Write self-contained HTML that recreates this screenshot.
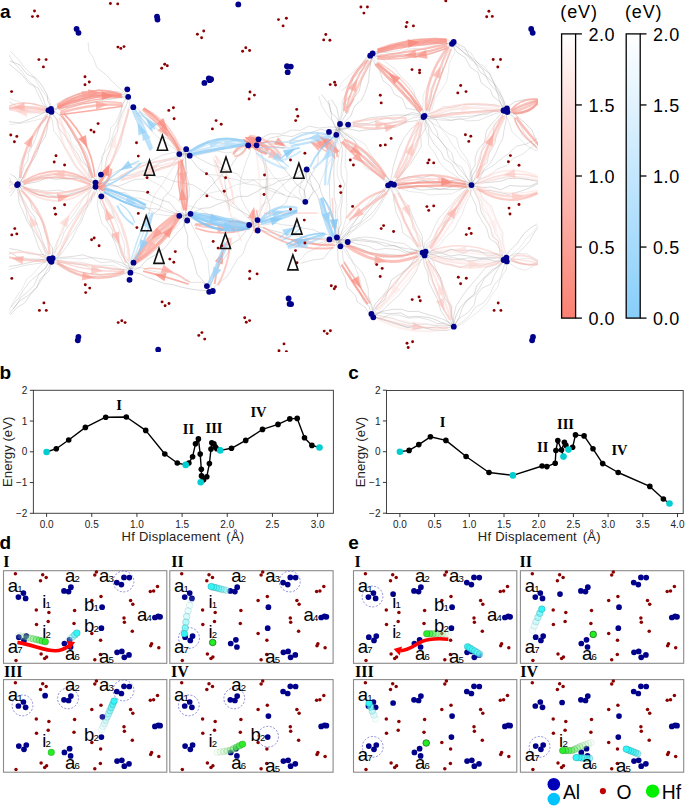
<!DOCTYPE html>
<html><head><meta charset="utf-8"><style>
html,body{margin:0;padding:0;background:#fff;}
svg{display:block;}
</style></head><body>
<svg width="685" height="806" viewBox="0 0 685 806">
<rect width="685" height="806" fill="#fff"/>
<defs><clipPath id="clipNet"><rect x="9" y="0" width="529" height="345"/></clipPath></defs>
<g clip-path="url(#clipNet)">
<polyline fill="none" stroke="#6a6a6a" stroke-opacity="0.34" stroke-width="0.55" points="49.3,111.2 42.5,103.6 38.5,94.9 33.7,85.3 26.7,78.8 21.6,71.0 13.2,62.1 7.8,52.9"/>
<polyline fill="none" stroke="#6a6a6a" stroke-opacity="0.31" stroke-width="0.55" points="51.7,109.4 49.5,99.8 42.9,91.5 38.4,84.7 33.2,75.9 23.2,66.1 19.4,60.6 10.2,51.1"/>
<polyline fill="none" stroke="#6a6a6a" stroke-opacity="0.42" stroke-width="0.55" points="49.4,111.3 45.4,105.4 42.7,97.0 38.1,88.0 28.9,83.5 22.2,74.9 15.5,69.3 7.9,63.0"/>
<polyline fill="none" stroke="#6a6a6a" stroke-opacity="0.46" stroke-width="0.55" points="51.6,109.3 47.7,100.5 47.3,94.9 41.8,85.1 36.1,78.3 27.1,74.2 19.7,64.8 10.1,61.0"/>
<polyline fill="none" stroke="#6a6a6a" stroke-opacity="0.43" stroke-width="0.55" points="8.6,121.6 19.8,122.9 28.0,119.9 38.9,115.4 50.1,108.9"/>
<polyline fill="none" stroke="#6a6a6a" stroke-opacity="0.27" stroke-width="0.55" points="9.4,124.4 21.5,123.2 29.5,121.7 42.1,118.6 50.9,111.7"/>
<polyline fill="none" stroke="#6a6a6a" stroke-opacity="0.28" stroke-width="0.55" points="9.4,98.5 21.0,102.6 32.2,103.5 43.0,105.9 50.9,108.8"/>
<polyline fill="none" stroke="#6a6a6a" stroke-opacity="0.30" stroke-width="0.55" points="8.6,101.5 19.4,107.6 28.0,111.8 40.6,113.0 50.1,111.8"/>
<polyline fill="none" stroke="#6a6a6a" stroke-opacity="0.26" stroke-width="0.55" points="50.2,108.8 61.0,100.7 70.6,96.3 77.6,94.6 88.8,92.9 98.0,89.5 109.1,92.3 117.4,91.4 128.7,94.5"/>
<polyline fill="none" stroke="#6a6a6a" stroke-opacity="0.45" stroke-width="0.55" points="50.4,109.8 60.4,106.8 69.1,100.7 79.2,95.3 88.3,95.5 97.3,95.3 109.7,92.4 117.4,93.7 128.9,95.5"/>
<polyline fill="none" stroke="#6a6a6a" stroke-opacity="0.31" stroke-width="0.55" points="50.6,110.8 61.0,108.5 70.6,104.6 82.2,99.6 88.2,100.0 101.2,95.4 107.8,95.6 119.5,96.3 129.1,96.5"/>
<polyline fill="none" stroke="#6a6a6a" stroke-opacity="0.43" stroke-width="0.55" points="50.8,111.8 59.4,107.2 69.9,107.2 82.5,103.7 88.7,103.1 101.9,100.2 108.6,99.5 118.7,97.9 129.3,97.5"/>
<polyline fill="none" stroke="#6a6a6a" stroke-opacity="0.44" stroke-width="0.55" points="51.9,110.9 47.7,121.3 47.6,127.5 45.4,136.5 39.6,145.1 36.5,154.6 30.5,163.6 26.5,169.3 22.1,178.8 18.7,185.6"/>
<polyline fill="none" stroke="#6a6a6a" stroke-opacity="0.46" stroke-width="0.55" points="51.0,110.5 48.1,121.2 44.7,128.3 42.1,137.3 39.1,146.1 33.6,155.4 31.5,161.3 26.7,169.8 22.4,179.0 17.8,185.2"/>
<polyline fill="none" stroke="#6a6a6a" stroke-opacity="0.36" stroke-width="0.55" points="50.0,110.1 45.5,118.4 40.7,125.1 37.7,132.5 34.0,142.4 28.8,152.4 27.6,161.0 24.3,165.7 21.2,176.5 16.8,184.8"/>
<polyline fill="none" stroke="#6a6a6a" stroke-opacity="0.29" stroke-width="0.55" points="49.1,109.7 45.0,115.8 38.9,126.6 37.1,133.1 30.9,139.4 29.1,150.7 22.4,158.4 19.4,167.0 19.6,176.3 15.9,184.4"/>
<polyline fill="none" stroke="#6a6a6a" stroke-opacity="0.43" stroke-width="0.55" points="51.8,109.5 59.7,115.1 66.5,122.6 71.8,132.4 75.8,140.1 82.8,147.3 87.3,155.7 90.4,166.5 93.0,177.1 98.3,184.2"/>
<polyline fill="none" stroke="#6a6a6a" stroke-opacity="0.25" stroke-width="0.55" points="50.9,110.0 54.6,117.1 60.5,124.0 69.4,134.5 71.3,142.9 79.4,150.6 83.9,161.3 88.6,169.4 93.0,174.1 97.4,184.7"/>
<polyline fill="none" stroke="#6a6a6a" stroke-opacity="0.40" stroke-width="0.55" points="50.1,110.6 57.4,120.1 58.6,127.9 64.2,134.9 69.1,142.2 78.1,154.2 81.1,160.9 88.2,167.2 89.4,177.8 96.6,185.3"/>
<polyline fill="none" stroke="#6a6a6a" stroke-opacity="0.33" stroke-width="0.55" points="49.2,111.1 52.5,121.1 53.6,130.6 59.3,138.0 65.3,148.8 70.0,154.8 75.5,166.1 80.3,170.3 88.8,180.5 95.7,185.8"/>
<polyline fill="none" stroke="#6a6a6a" stroke-opacity="0.33" stroke-width="0.55" points="129.0,96.0 118.2,87.1 111.6,80.8 106.0,74.7 96.7,67.3 93.1,57.0 89.2,52.0 88.0,42.0"/>
<polyline fill="none" stroke="#6a6a6a" stroke-opacity="0.29" stroke-width="0.55" points="130.4,96.5 129.1,107.6 127.4,116.7 123.5,125.7 122.9,131.8 120.9,144.3 116.5,153.2 111.5,162.3 108.7,169.1 105.4,177.6 98.4,185.5"/>
<polyline fill="none" stroke="#6a6a6a" stroke-opacity="0.41" stroke-width="0.55" points="129.5,96.2 126.1,105.5 122.1,113.4 118.6,122.9 117.4,131.4 112.8,139.3 109.9,150.5 106.7,157.5 105.1,168.5 100.4,176.4 97.5,185.2"/>
<polyline fill="none" stroke="#6a6a6a" stroke-opacity="0.30" stroke-width="0.55" points="128.5,95.8 122.5,103.8 120.5,114.1 117.5,123.5 115.0,128.8 111.7,138.8 108.3,147.8 101.9,155.5 101.8,167.4 99.8,175.1 96.5,184.8"/>
<polyline fill="none" stroke="#6a6a6a" stroke-opacity="0.31" stroke-width="0.55" points="127.6,95.5 123.8,102.1 119.9,112.8 115.7,122.7 110.7,128.2 109.3,138.8 105.1,148.2 103.5,154.9 98.7,167.8 96.7,173.8 95.6,184.5"/>
<polyline fill="none" stroke="#6a6a6a" stroke-opacity="0.40" stroke-width="0.55" points="10.2,174.0 15.1,176.9 17.5,180.4 18.5,184.0"/>
<polyline fill="none" stroke="#6a6a6a" stroke-opacity="0.35" stroke-width="0.55" points="7.8,176.0 10.5,179.7 9.9,182.1 16.1,186.0"/>
<polyline fill="none" stroke="#6a6a6a" stroke-opacity="0.36" stroke-width="0.55" points="7.8,194.0 11.9,190.8 13.6,188.6 16.1,184.0"/>
<polyline fill="none" stroke="#6a6a6a" stroke-opacity="0.38" stroke-width="0.55" points="10.2,196.0 12.6,193.2 15.8,188.2 18.5,186.0"/>
<polyline fill="none" stroke="#6a6a6a" stroke-opacity="0.32" stroke-width="0.55" points="17.3,183.5 26.7,180.0 36.6,177.4 48.4,175.6 55.3,173.8 65.7,175.8 79.2,176.4 87.3,178.1 97.0,183.5"/>
<polyline fill="none" stroke="#6a6a6a" stroke-opacity="0.32" stroke-width="0.55" points="17.3,185.0 27.9,180.6 38.9,177.7 47.7,177.8 57.9,177.1 66.8,179.2 77.7,177.0 88.2,180.0 97.0,185.0"/>
<polyline fill="none" stroke="#6a6a6a" stroke-opacity="0.45" stroke-width="0.55" points="17.3,186.5 26.7,183.9 37.4,181.7 48.3,177.4 55.0,179.3 68.5,178.5 78.7,178.5 86.6,182.7 97.0,186.5"/>
<polyline fill="none" stroke="#6a6a6a" stroke-opacity="0.35" stroke-width="0.55" points="17.3,183.5 27.2,188.7 36.1,189.6 46.1,191.1 58.4,190.1 66.8,191.9 77.6,189.2 85.7,188.9 97.0,183.5"/>
<polyline fill="none" stroke="#6a6a6a" stroke-opacity="0.41" stroke-width="0.55" points="17.3,185.0 26.9,188.1 39.3,194.9 49.1,194.9 55.7,196.8 65.3,195.9 78.3,192.2 89.2,189.3 97.0,185.0"/>
<polyline fill="none" stroke="#6a6a6a" stroke-opacity="0.33" stroke-width="0.55" points="17.3,186.5 28.9,190.7 36.4,194.4 49.3,196.9 59.2,195.7 69.0,194.1 75.0,192.3 86.4,189.5 97.0,186.5"/>
<polyline fill="none" stroke="#6a6a6a" stroke-opacity="0.45" stroke-width="0.55" points="18.7,184.4 22.5,190.9 29.7,199.1 32.1,208.3 40.1,217.0 43.1,222.8 44.9,232.2 48.5,241.3 52.6,248.1 52.4,259.4"/>
<polyline fill="none" stroke="#6a6a6a" stroke-opacity="0.42" stroke-width="0.55" points="17.8,184.8 19.9,193.2 24.2,201.3 29.3,210.4 34.7,217.2 37.2,225.8 40.2,232.7 42.6,241.4 48.1,253.1 51.5,259.8"/>
<polyline fill="none" stroke="#6a6a6a" stroke-opacity="0.37" stroke-width="0.55" points="16.8,185.2 21.4,195.6 23.0,201.7 26.2,209.6 27.4,217.6 32.4,227.8 37.9,237.0 43.2,244.6 45.2,250.2 50.5,260.2"/>
<polyline fill="none" stroke="#6a6a6a" stroke-opacity="0.40" stroke-width="0.55" points="15.9,185.6 18.1,192.4 19.2,203.3 22.6,210.4 27.3,221.8 32.1,228.8 34.4,235.3 38.4,246.5 42.4,254.3 49.6,260.6"/>
<polyline fill="none" stroke="#6a6a6a" stroke-opacity="0.35" stroke-width="0.55" points="98.3,185.8 94.0,196.3 88.5,202.9 84.4,213.6 81.3,221.9 77.4,227.8 72.0,238.7 66.6,246.6 60.1,255.4 52.3,260.8"/>
<polyline fill="none" stroke="#6a6a6a" stroke-opacity="0.34" stroke-width="0.55" points="97.4,185.3 92.5,193.9 90.9,202.5 83.7,211.0 80.6,219.6 74.9,229.0 69.1,236.7 63.0,246.7 57.6,254.3 51.4,260.3"/>
<polyline fill="none" stroke="#6a6a6a" stroke-opacity="0.31" stroke-width="0.55" points="96.6,184.7 89.5,192.1 86.7,202.8 80.0,209.6 76.2,215.6 67.4,227.5 64.0,232.7 60.5,243.3 55.7,250.1 50.6,259.7"/>
<polyline fill="none" stroke="#6a6a6a" stroke-opacity="0.29" stroke-width="0.55" points="95.7,184.2 88.1,192.3 82.0,200.8 78.6,207.1 71.5,217.6 65.6,222.8 62.4,232.9 57.1,241.2 53.4,251.4 49.7,259.2"/>
<polyline fill="none" stroke="#6a6a6a" stroke-opacity="0.28" stroke-width="0.55" points="98.4,184.4 102.6,193.3 109.4,200.8 112.7,210.3 114.8,216.8 120.9,224.2 123.2,233.9 126.8,242.0 129.2,249.9 130.1,260.9 132.4,269.4"/>
<polyline fill="none" stroke="#6a6a6a" stroke-opacity="0.29" stroke-width="0.55" points="97.5,184.8 103.5,192.1 105.6,200.8 111.4,209.4 115.0,219.8 117.3,224.3 121.4,235.3 124.5,244.9 124.4,254.1 128.3,261.4 131.5,269.8"/>
<polyline fill="none" stroke="#6a6a6a" stroke-opacity="0.45" stroke-width="0.55" points="96.5,185.2 101.0,193.5 100.1,202.5 104.8,210.4 105.7,218.7 112.9,230.7 112.4,237.1 118.5,244.1 121.7,255.1 127.6,262.8 130.5,270.2"/>
<polyline fill="none" stroke="#6a6a6a" stroke-opacity="0.33" stroke-width="0.55" points="95.6,185.6 98.2,196.3 97.2,204.9 99.3,214.0 102.2,223.9 107.0,228.5 112.3,236.9 115.9,245.1 118.8,254.6 123.8,263.3 129.6,270.6"/>
<polyline fill="none" stroke="#6a6a6a" stroke-opacity="0.44" stroke-width="0.55" points="9.3,248.5 19.7,250.3 28.9,253.9 43.2,254.5 51.3,258.5"/>
<polyline fill="none" stroke="#6a6a6a" stroke-opacity="0.44" stroke-width="0.55" points="8.7,251.5 16.6,256.6 28.6,259.1 39.6,259.1 50.7,261.5"/>
<polyline fill="none" stroke="#6a6a6a" stroke-opacity="0.41" stroke-width="0.55" points="8.7,266.5 17.2,265.2 28.4,262.8 41.8,259.5 50.7,258.5"/>
<polyline fill="none" stroke="#6a6a6a" stroke-opacity="0.32" stroke-width="0.55" points="9.3,269.5 21.9,266.0 29.1,264.7 41.9,262.9 51.3,261.5"/>
<polyline fill="none" stroke="#6a6a6a" stroke-opacity="0.40" stroke-width="0.55" points="51.2,258.5 61.4,257.4 72.2,256.5 82.4,254.9 91.3,257.4 102.5,258.8 111.3,260.1 121.7,262.8 131.2,268.5"/>
<polyline fill="none" stroke="#6a6a6a" stroke-opacity="0.34" stroke-width="0.55" points="51.0,260.0 59.0,258.9 69.8,258.0 79.9,259.0 91.0,257.8 100.7,262.7 112.7,261.7 119.7,264.5 131.0,270.0"/>
<polyline fill="none" stroke="#6a6a6a" stroke-opacity="0.27" stroke-width="0.55" points="50.8,261.5 60.6,260.3 69.0,262.0 81.0,262.1 91.9,265.0 102.7,265.3 112.8,265.5 120.1,268.9 130.8,271.5"/>
<polyline fill="none" stroke="#6a6a6a" stroke-opacity="0.35" stroke-width="0.55" points="51.2,258.5 61.0,262.6 71.8,263.7 82.7,264.9 91.9,268.8 100.8,266.8 111.1,269.3 123.3,269.6 131.2,268.5"/>
<polyline fill="none" stroke="#6a6a6a" stroke-opacity="0.27" stroke-width="0.55" points="51.0,260.0 61.3,265.5 68.7,267.8 82.1,272.3 90.6,273.5 102.9,274.4 110.8,273.1 122.2,273.7 131.0,270.0"/>
<polyline fill="none" stroke="#6a6a6a" stroke-opacity="0.32" stroke-width="0.55" points="50.8,261.5 60.8,266.0 70.0,271.1 78.2,274.7 88.9,276.6 100.4,275.8 108.9,277.5 118.6,276.0 130.8,271.5"/>
<polyline fill="none" stroke="#6a6a6a" stroke-opacity="0.39" stroke-width="0.55" points="52.2,260.9 47.7,268.8 43.2,276.9 37.0,287.2 29.8,295.4 24.9,302.9 17.2,307.4 10.2,314.9"/>
<polyline fill="none" stroke="#6a6a6a" stroke-opacity="0.37" stroke-width="0.55" points="51.0,260.0 44.8,268.8 39.1,274.1 33.8,285.6 26.4,293.0 20.8,297.4 16.3,304.9 9.0,314.0"/>
<polyline fill="none" stroke="#6a6a6a" stroke-opacity="0.26" stroke-width="0.55" points="49.8,259.1 41.4,264.4 33.2,273.6 27.0,279.0 22.5,288.1 17.0,295.7 12.6,303.5 7.8,313.1"/>
<polyline fill="none" stroke="#6a6a6a" stroke-opacity="0.42" stroke-width="0.55" points="52.2,260.9 48.9,271.4 40.2,278.9 36.6,287.6 27.5,295.9 19.3,301.3 13.2,308.9"/>
<polyline fill="none" stroke="#6a6a6a" stroke-opacity="0.36" stroke-width="0.55" points="49.8,259.1 45.4,268.4 38.3,274.4 29.8,281.5 22.8,290.9 19.0,297.5 10.8,307.1"/>
<polyline fill="none" stroke="#6a6a6a" stroke-opacity="0.37" stroke-width="0.55" points="134.3,106.1 143.7,113.9 150.9,118.4 156.6,122.8 166.8,132.9 173.5,138.6 178.2,143.7 186.0,151.9"/>
<polyline fill="none" stroke="#6a6a6a" stroke-opacity="0.36" stroke-width="0.55" points="133.3,107.2 139.8,115.2 149.4,119.2 156.1,128.1 163.3,136.4 170.2,139.9 175.7,144.8 185.0,153.0"/>
<polyline fill="none" stroke="#6a6a6a" stroke-opacity="0.33" stroke-width="0.55" points="132.3,108.3 136.5,117.9 144.5,124.0 151.9,131.2 158.1,137.6 167.2,143.8 176.5,150.3 184.0,154.1"/>
<polyline fill="none" stroke="#6a6a6a" stroke-opacity="0.34" stroke-width="0.55" points="96.5,183.6 103.4,176.9 112.8,173.0 120.9,169.1 129.7,165.1 139.9,163.4 148.7,161.7 157.2,157.8 163.8,154.6 176.7,151.9 184.5,151.6"/>
<polyline fill="none" stroke="#6a6a6a" stroke-opacity="0.26" stroke-width="0.55" points="96.8,184.5 107.6,180.2 115.7,178.6 121.6,174.9 130.4,171.5 140.6,167.2 149.1,162.9 157.6,161.7 169.2,158.3 175.5,156.6 184.8,152.5"/>
<polyline fill="none" stroke="#6a6a6a" stroke-opacity="0.39" stroke-width="0.55" points="97.2,185.5 104.9,182.0 115.3,179.3 123.5,175.5 134.7,174.9 140.6,172.2 149.2,169.5 159.1,163.3 168.2,160.1 176.9,157.4 185.2,153.5"/>
<polyline fill="none" stroke="#6a6a6a" stroke-opacity="0.38" stroke-width="0.55" points="97.5,186.4 108.7,185.7 118.0,186.3 126.2,183.1 134.4,179.5 144.2,178.9 151.1,173.6 160.7,167.6 170.7,165.9 176.2,159.1 185.5,154.4"/>
<polyline fill="none" stroke="#6a6a6a" stroke-opacity="0.43" stroke-width="0.55" points="97.5,183.6 105.6,182.7 115.6,185.8 124.7,189.8 135.2,190.7 144.4,191.7 153.7,196.9 161.6,200.0 169.9,202.6 175.7,210.3 185.5,214.6"/>
<polyline fill="none" stroke="#6a6a6a" stroke-opacity="0.30" stroke-width="0.55" points="97.2,184.5 105.4,186.4 115.7,192.2 125.1,192.6 132.3,197.2 142.0,198.8 152.0,202.3 159.4,205.7 165.7,209.1 178.1,213.9 185.2,215.5"/>
<polyline fill="none" stroke="#6a6a6a" stroke-opacity="0.35" stroke-width="0.55" points="96.8,185.5 104.0,189.8 113.2,193.6 124.7,198.0 131.0,201.9 138.1,205.5 149.7,208.6 157.0,208.9 168.1,212.2 174.8,213.7 184.8,216.5"/>
<polyline fill="none" stroke="#6a6a6a" stroke-opacity="0.30" stroke-width="0.55" points="96.5,186.4 106.2,192.4 113.5,196.1 120.9,200.8 132.0,205.0 137.5,208.4 146.6,207.5 155.8,214.0 167.3,215.7 173.7,215.5 184.5,217.4"/>
<polyline fill="none" stroke="#6a6a6a" stroke-opacity="0.35" stroke-width="0.55" points="129.9,268.9 135.1,259.6 141.0,252.2 147.4,244.0 151.9,237.5 159.1,230.5 167.0,226.3 173.8,220.1 183.9,214.9"/>
<polyline fill="none" stroke="#6a6a6a" stroke-opacity="0.34" stroke-width="0.55" points="130.6,269.6 136.3,263.9 141.1,253.7 150.0,246.2 154.6,239.1 162.9,236.0 171.8,230.0 178.7,220.0 184.6,215.6"/>
<polyline fill="none" stroke="#6a6a6a" stroke-opacity="0.28" stroke-width="0.55" points="131.4,270.4 137.4,262.4 146.2,256.6 154.0,251.0 159.0,246.0 167.8,236.4 172.9,231.5 177.3,225.7 185.4,216.4"/>
<polyline fill="none" stroke="#6a6a6a" stroke-opacity="0.42" stroke-width="0.55" points="132.1,271.1 139.9,267.5 146.8,259.5 154.6,255.4 164.6,248.2 171.9,239.2 177.5,232.6 183.1,227.0 186.1,217.1"/>
<polyline fill="none" stroke="#6a6a6a" stroke-opacity="0.43" stroke-width="0.55" points="184.8,151.5 195.6,150.0 205.4,144.0 212.6,142.1 223.5,143.7 232.2,140.6 243.9,139.5 253.8,141.5"/>
<polyline fill="none" stroke="#6a6a6a" stroke-opacity="0.31" stroke-width="0.55" points="184.9,152.5 193.6,152.4 203.4,149.0 216.6,149.5 222.8,148.5 232.7,146.8 244.8,145.6 253.9,142.5"/>
<polyline fill="none" stroke="#6a6a6a" stroke-opacity="0.28" stroke-width="0.55" points="185.1,153.5 193.6,153.5 202.8,151.1 215.9,150.3 225.7,147.0 233.2,145.8 242.5,144.1 254.1,143.5"/>
<polyline fill="none" stroke="#6a6a6a" stroke-opacity="0.30" stroke-width="0.55" points="185.2,154.5 196.3,155.3 204.5,153.4 217.2,151.1 227.0,153.0 236.9,151.3 246.5,147.5 254.2,144.5"/>
<polyline fill="none" stroke="#6a6a6a" stroke-opacity="0.39" stroke-width="0.55" points="186.5,153.0 185.5,160.6 185.2,172.7 188.1,180.1 189.3,187.2 189.1,196.2 185.3,205.8 186.5,216.0"/>
<polyline fill="none" stroke="#6a6a6a" stroke-opacity="0.43" stroke-width="0.55" points="185.0,153.0 185.7,160.0 187.0,173.0 184.0,181.1 186.5,188.6 187.6,196.2 186.6,205.9 185.0,216.0"/>
<polyline fill="none" stroke="#6a6a6a" stroke-opacity="0.27" stroke-width="0.55" points="183.5,153.0 182.2,161.5 183.5,169.0 180.5,180.8 180.5,187.3 182.0,196.6 181.6,208.5 183.5,216.0"/>
<polyline fill="none" stroke="#6a6a6a" stroke-opacity="0.30" stroke-width="0.55" points="185.2,214.5 196.3,216.1 203.2,213.2 217.3,215.8 226.7,219.0 235.3,218.0 242.3,223.0 254.2,223.5"/>
<polyline fill="none" stroke="#6a6a6a" stroke-opacity="0.33" stroke-width="0.55" points="185.1,215.5 194.6,217.7 205.7,218.4 214.0,216.3 226.5,220.6 235.1,221.9 242.8,223.5 254.1,224.5"/>
<polyline fill="none" stroke="#6a6a6a" stroke-opacity="0.26" stroke-width="0.55" points="184.9,216.5 194.2,217.9 203.0,218.1 212.8,217.9 224.1,222.9 235.0,221.5 242.9,225.2 253.9,225.5"/>
<polyline fill="none" stroke="#6a6a6a" stroke-opacity="0.30" stroke-width="0.55" points="184.8,217.5 196.5,220.0 203.5,223.6 215.3,223.6 225.4,226.8 235.5,226.5 244.1,228.1 253.8,226.5"/>
<polyline fill="none" stroke="#6a6a6a" stroke-opacity="0.44" stroke-width="0.55" points="255.5,143.0 260.8,150.2 263.8,163.1 264.9,168.3 266.6,180.0 265.7,188.5 266.0,198.8 262.4,207.7 258.7,216.5 255.5,225.0"/>
<polyline fill="none" stroke="#6a6a6a" stroke-opacity="0.30" stroke-width="0.55" points="252.5,143.0 249.6,153.6 246.5,160.6 244.0,168.6 240.4,180.1 239.9,189.7 241.4,198.6 246.0,207.7 250.4,214.5 252.5,225.0"/>
<polyline fill="none" stroke="#6a6a6a" stroke-opacity="0.41" stroke-width="0.55" points="185.0,153.0 192.7,160.9 196.8,166.6 205.5,173.2 212.0,177.6 215.7,184.7 222.4,193.7 227.2,196.7 233.9,204.1 240.5,210.5 249.9,216.3 254.0,225.0"/>
<polyline fill="none" stroke="#6a6a6a" stroke-opacity="0.42" stroke-width="0.55" points="254.0,143.0 245.5,149.2 239.3,154.3 233.0,162.8 229.8,168.1 219.7,176.6 215.5,181.3 208.1,189.1 204.4,193.6 196.5,201.6 190.9,210.5 185.0,216.0"/>
<polyline fill="none" stroke="#6a6a6a" stroke-opacity="0.37" stroke-width="0.55" points="253.8,141.5 262.6,137.4 270.0,133.7 282.0,134.1 291.5,130.1 300.9,130.2 308.7,126.1 318.8,128.0 330.2,126.9 337.8,127.5"/>
<polyline fill="none" stroke="#6a6a6a" stroke-opacity="0.39" stroke-width="0.55" points="254.0,143.0 264.5,142.4 270.6,137.9 283.0,135.4 292.0,136.6 302.1,132.4 309.1,132.9 321.3,129.2 328.2,131.0 338.0,129.0"/>
<polyline fill="none" stroke="#6a6a6a" stroke-opacity="0.35" stroke-width="0.55" points="254.2,144.5 265.0,146.0 274.4,143.2 282.3,143.5 292.1,139.7 299.5,141.1 313.0,137.0 320.4,135.3 327.0,134.4 338.2,130.5"/>
<polyline fill="none" stroke="#6a6a6a" stroke-opacity="0.35" stroke-width="0.55" points="254.3,223.5 263.9,224.9 275.3,223.2 282.5,224.7 293.7,225.8 301.8,228.0 313.3,229.7 321.5,233.6 331.0,235.2 338.3,239.5"/>
<polyline fill="none" stroke="#6a6a6a" stroke-opacity="0.45" stroke-width="0.55" points="254.0,225.0 262.4,227.5 271.1,230.2 280.6,232.6 289.5,235.0 299.3,236.1 311.1,238.9 319.7,238.4 326.5,238.1 338.0,241.0"/>
<polyline fill="none" stroke="#6a6a6a" stroke-opacity="0.36" stroke-width="0.55" points="253.7,226.5 263.7,230.8 273.1,233.3 280.4,237.6 289.8,239.5 300.2,239.5 307.2,240.2 316.3,243.8 327.6,241.0 337.7,242.5"/>
<polyline fill="none" stroke="#6a6a6a" stroke-opacity="0.37" stroke-width="0.55" points="307.8,170.5 303.3,181.0 295.6,186.7 289.8,194.1 285.4,203.4 277.5,208.3 269.0,215.5 262.3,220.0 255.1,226.0"/>
<polyline fill="none" stroke="#6a6a6a" stroke-opacity="0.35" stroke-width="0.55" points="305.6,168.5 299.7,176.0 291.3,177.9 283.3,184.7 275.0,192.2 271.2,198.9 261.6,206.1 256.2,215.7 252.9,224.0"/>
<polyline fill="none" stroke="#6a6a6a" stroke-opacity="0.28" stroke-width="0.55" points="304.2,202.8 296.4,196.9 285.7,189.7 281.5,182.8 273.6,176.7 268.8,169.4 263.2,161.8 257.0,154.3 252.9,144.0"/>
<polyline fill="none" stroke="#6a6a6a" stroke-opacity="0.43" stroke-width="0.55" points="306.4,200.8 304.2,190.3 296.5,184.4 289.9,175.7 284.2,169.1 277.3,161.4 273.3,153.2 263.5,149.5 255.1,142.0"/>
<polyline fill="none" stroke="#6a6a6a" stroke-opacity="0.28" stroke-width="0.55" points="339.5,129.0 341.8,136.9 346.0,147.8 345.3,157.0 345.1,165.2 347.1,173.5 346.6,185.9 346.5,195.5 346.8,205.2 346.5,212.4 345.5,220.6 341.3,233.0 339.5,241.0"/>
<polyline fill="none" stroke="#6a6a6a" stroke-opacity="0.42" stroke-width="0.55" points="338.8,129.0 339.6,138.5 342.4,149.1 342.0,156.8 341.0,164.7 341.1,175.2 344.7,184.5 342.2,193.1 342.0,201.6 340.6,212.1 341.0,224.0 337.7,231.5 338.8,241.0"/>
<polyline fill="none" stroke="#6a6a6a" stroke-opacity="0.26" stroke-width="0.55" points="338.0,129.0 336.2,138.3 340.2,147.0 338.3,159.0 337.1,165.7 337.2,174.7 340.4,183.3 341.2,194.6 340.0,203.3 336.9,212.6 338.7,224.4 339.0,230.1 338.0,241.0"/>
<polyline fill="none" stroke="#6a6a6a" stroke-opacity="0.39" stroke-width="0.55" points="337.2,129.0 335.6,137.5 335.2,147.1 334.2,159.0 334.1,164.6 333.7,174.7 334.4,185.8 333.9,195.5 336.1,205.2 335.3,214.2 336.5,224.3 335.9,229.9 337.2,241.0"/>
<polyline fill="none" stroke="#6a6a6a" stroke-opacity="0.37" stroke-width="0.55" points="336.5,129.0 334.1,136.6 334.4,148.3 334.2,158.5 332.8,164.3 330.3,173.5 329.5,184.4 329.5,194.0 330.1,202.5 330.9,214.7 334.6,222.5 335.3,232.2 336.5,241.0"/>
<polyline fill="none" stroke="#6a6a6a" stroke-opacity="0.45" stroke-width="0.55" points="308.1,168.9 313.9,177.3 319.4,185.4 321.3,192.9 326.8,204.4 330.5,214.3 334.2,223.4 338.4,229.5 339.4,240.4"/>
<polyline fill="none" stroke="#6a6a6a" stroke-opacity="0.46" stroke-width="0.55" points="305.3,170.1 307.1,181.1 312.6,187.8 317.4,195.8 320.8,207.5 322.1,214.8 327.3,223.1 331.5,231.6 336.6,241.6"/>
<polyline fill="none" stroke="#6a6a6a" stroke-opacity="0.39" stroke-width="0.55" points="303.9,201.2 304.4,189.7 307.0,182.9 311.9,173.8 317.7,164.3 318.6,151.9 325.5,143.3 332.6,137.4 336.6,128.4"/>
<polyline fill="none" stroke="#6a6a6a" stroke-opacity="0.26" stroke-width="0.55" points="306.7,202.4 312.1,194.1 319.2,187.7 321.7,178.8 325.4,169.7 330.9,159.3 336.2,149.6 337.7,137.8 339.4,129.6"/>
<polyline fill="none" stroke="#6a6a6a" stroke-opacity="0.35" stroke-width="0.55" points="255.2,225.8 251.7,234.4 246.4,243.7 242.8,254.2 237.5,258.7 232.0,268.6 226.9,276.8 219.8,282.4 211.2,289.8"/>
<polyline fill="none" stroke="#6a6a6a" stroke-opacity="0.42" stroke-width="0.55" points="252.8,224.2 246.6,230.3 238.6,239.9 231.2,244.2 227.6,253.6 221.9,261.3 215.9,271.6 212.4,280.7 208.8,288.2"/>
<polyline fill="none" stroke="#6a6a6a" stroke-opacity="0.33" stroke-width="0.55" points="186.4,215.5 191.0,223.4 195.6,232.6 200.8,241.7 202.9,250.0 208.1,260.9 208.5,268.4 209.6,277.4 211.4,288.5"/>
<polyline fill="none" stroke="#6a6a6a" stroke-opacity="0.46" stroke-width="0.55" points="183.6,216.5 184.7,227.2 187.7,236.2 187.7,246.4 191.7,255.1 194.1,262.1 197.0,273.9 203.9,282.1 208.6,289.5"/>
<polyline fill="none" stroke="#6a6a6a" stroke-opacity="0.38" stroke-width="0.55" points="308.2,169.6 310.1,180.1 313.3,191.4 306.8,201.9"/>
<polyline fill="none" stroke="#6a6a6a" stroke-opacity="0.32" stroke-width="0.55" points="305.2,169.4 302.3,178.2 299.0,191.9 303.8,201.7"/>
<polyline fill="none" stroke="#6a6a6a" stroke-opacity="0.40" stroke-width="0.55" points="186.3,153.7 180.7,165.3 177.5,171.4 173.9,182.1 170.7,190.0 163.9,197.3 159.6,209.0 151.3,215.7"/>
<polyline fill="none" stroke="#6a6a6a" stroke-opacity="0.26" stroke-width="0.55" points="183.7,152.3 179.2,159.4 172.9,167.9 166.7,177.0 161.4,185.6 155.0,194.2 150.5,205.8 148.7,214.3"/>
<polyline fill="none" stroke="#6a6a6a" stroke-opacity="0.36" stroke-width="0.55" points="145.6,173.6 157.0,177.2 162.8,176.5 172.0,180.7 182.0,182.9 192.6,184.7 200.9,189.9 207.4,194.6 216.4,199.3 225.8,200.7 229.7,205.1 240.6,210.8 248.4,218.4 254.6,223.6"/>
<polyline fill="none" stroke="#6a6a6a" stroke-opacity="0.28" stroke-width="0.55" points="144.4,176.4 153.4,182.2 161.5,186.2 169.3,194.6 176.0,197.9 182.0,204.3 190.9,206.4 200.3,209.0 208.0,214.3 216.9,218.9 226.7,221.8 232.9,223.9 246.1,226.4 253.4,226.4"/>
<polyline fill="none" stroke="#6a6a6a" stroke-opacity="0.33" stroke-width="0.55" points="200.0,170.0 207.8,174.3 217.2,175.2 228.5,178.1 237.4,179.9 246.6,183.9 256.4,185.2 267.4,189.5 274.3,192.3 285.0,195.0"/>
<polyline fill="none" stroke="#6a6a6a" stroke-opacity="0.26" stroke-width="0.55" points="200.0,195.0 210.9,192.9 216.5,191.5 225.7,189.7 236.3,184.7 246.4,182.9 255.7,179.3 261.6,179.8 272.2,178.6 281.5,178.6 290.0,175.0"/>
<polyline fill="none" stroke="#6a6a6a" stroke-opacity="0.43" stroke-width="0.55" points="215.0,160.0 217.8,167.9 224.6,178.8 225.9,190.9 227.9,200.9 230.0,210.0"/>
<polyline fill="none" stroke="#6a6a6a" stroke-opacity="0.43" stroke-width="0.55" points="265.0,160.0 266.4,167.2 267.7,178.0 267.2,186.9 266.9,196.4 269.7,205.6 270.0,215.0"/>
<polyline fill="none" stroke="#6a6a6a" stroke-opacity="0.45" stroke-width="0.55" points="306.7,169.5 299.4,171.3 291.3,178.7 278.9,180.9 272.7,184.5 262.9,188.0 257.0,191.6 247.8,196.3 238.1,196.4 230.1,200.1 221.9,202.5 209.4,207.8 201.3,208.4 195.7,211.6 185.0,216.0"/>
<polyline fill="none" stroke="#6a6a6a" stroke-opacity="0.37" stroke-width="0.55" points="305.3,201.8 297.2,197.5 286.2,196.2 280.4,192.8 271.5,188.5 262.4,186.9 253.9,179.8 242.9,179.8 237.1,173.8 226.8,170.5 220.3,167.4 212.4,165.3 200.1,159.1 192.5,154.9 185.0,153.0"/>
<polyline fill="none" stroke="#6a6a6a" stroke-opacity="0.33" stroke-width="0.55" points="131.4,268.5 142.1,267.6 147.5,269.9 157.5,272.1 166.8,272.4 176.3,274.3 184.4,280.1 191.7,282.6 201.8,282.1 210.4,287.5"/>
<polyline fill="none" stroke="#6a6a6a" stroke-opacity="0.44" stroke-width="0.55" points="130.6,271.5 140.9,274.2 147.1,277.2 154.5,279.9 165.3,283.7 173.0,284.7 182.4,287.4 192.8,289.4 199.5,290.2 209.6,290.5"/>
<polyline fill="none" stroke="#6a6a6a" stroke-opacity="0.35" stroke-width="0.55" points="371.2,53.0 381.6,50.2 390.8,47.2 396.6,44.0 409.0,40.8 415.5,39.1 425.0,39.6 433.3,38.6 444.2,39.2 452.6,41.4"/>
<polyline fill="none" stroke="#6a6a6a" stroke-opacity="0.39" stroke-width="0.55" points="371.4,54.5 378.9,52.6 389.8,49.9 398.0,45.0 407.6,45.4 418.1,43.9 424.3,41.9 433.6,42.4 444.4,43.8 452.8,42.9"/>
<polyline fill="none" stroke="#6a6a6a" stroke-opacity="0.27" stroke-width="0.55" points="371.6,56.0 379.4,52.5 388.0,51.7 399.4,50.5 407.7,45.4 415.4,43.8 427.1,46.0 433.7,43.7 444.5,43.1 453.0,44.4"/>
<polyline fill="none" stroke="#6a6a6a" stroke-opacity="0.33" stroke-width="0.55" points="371.2,53.0 380.6,51.3 390.6,53.7 400.3,53.2 406.0,49.7 414.3,48.3 423.9,49.8 433.4,45.8 444.5,44.4 452.6,41.4"/>
<polyline fill="none" stroke="#6a6a6a" stroke-opacity="0.29" stroke-width="0.55" points="371.4,54.5 378.5,53.9 389.7,56.5 398.5,54.8 406.3,54.2 416.6,55.0 424.1,51.1 433.4,50.7 445.6,46.2 452.8,42.9"/>
<polyline fill="none" stroke="#6a6a6a" stroke-opacity="0.37" stroke-width="0.55" points="371.6,56.0 382.8,57.1 390.1,58.5 397.9,55.9 406.3,57.0 419.1,54.5 426.8,55.4 433.8,52.7 444.4,48.8 453.0,44.4"/>
<polyline fill="none" stroke="#6a6a6a" stroke-opacity="0.45" stroke-width="0.55" points="372.8,55.1 370.7,63.2 369.0,74.7 368.8,81.0 364.9,93.2 361.4,100.3 354.5,106.2 350.7,116.2 345.5,121.0 339.4,129.6"/>
<polyline fill="none" stroke="#6a6a6a" stroke-opacity="0.44" stroke-width="0.55" points="371.9,54.7 370.7,62.2 364.8,73.1 361.8,78.4 359.4,90.5 354.6,97.0 349.6,104.6 346.2,114.1 341.6,121.7 338.5,129.2"/>
<polyline fill="none" stroke="#6a6a6a" stroke-opacity="0.33" stroke-width="0.55" points="370.9,54.3 366.3,62.0 363.6,68.0 357.7,76.1 353.0,86.1 349.5,96.5 348.0,101.5 343.7,110.1 340.7,120.3 337.5,128.8"/>
<polyline fill="none" stroke="#6a6a6a" stroke-opacity="0.30" stroke-width="0.55" points="370.0,53.9 364.1,59.8 360.2,66.9 353.4,74.8 351.4,85.7 346.3,93.7 342.1,100.8 342.0,109.6 340.7,117.6 336.6,128.4"/>
<polyline fill="none" stroke="#6a6a6a" stroke-opacity="0.31" stroke-width="0.55" points="372.5,53.5 381.0,57.7 389.4,65.1 395.6,69.4 402.5,78.6 406.4,81.2 414.1,91.3 415.1,96.9 421.5,106.8 425.1,115.4"/>
<polyline fill="none" stroke="#6a6a6a" stroke-opacity="0.25" stroke-width="0.55" points="371.8,54.2 377.1,59.0 384.2,68.2 387.9,73.2 393.8,83.7 400.8,90.5 406.8,96.1 413.7,100.4 416.9,110.6 424.4,116.1"/>
<polyline fill="none" stroke="#6a6a6a" stroke-opacity="0.31" stroke-width="0.55" points="371.0,54.8 376.4,62.1 380.5,66.7 386.0,75.8 395.5,82.6 401.1,87.7 406.6,97.1 413.3,101.2 417.1,110.2 423.6,116.7"/>
<polyline fill="none" stroke="#6a6a6a" stroke-opacity="0.41" stroke-width="0.55" points="370.3,55.5 376.0,65.3 379.6,70.0 383.0,80.6 390.7,86.4 394.2,94.0 402.4,98.6 406.2,108.3 417.4,110.1 422.9,117.4"/>
<polyline fill="none" stroke="#6a6a6a" stroke-opacity="0.25" stroke-width="0.55" points="454.2,43.4 454.7,52.3 449.1,63.4 448.5,71.3 446.7,81.9 441.3,90.0 434.8,98.2 432.0,109.5 425.4,116.9"/>
<polyline fill="none" stroke="#6a6a6a" stroke-opacity="0.30" stroke-width="0.55" points="453.3,43.1 451.1,51.2 446.6,62.1 443.1,69.6 439.3,79.3 434.9,91.0 432.4,98.3 430.1,106.8 424.5,116.6"/>
<polyline fill="none" stroke="#6a6a6a" stroke-opacity="0.39" stroke-width="0.55" points="452.3,42.7 446.8,50.4 442.3,60.9 442.2,71.4 435.6,80.2 431.0,89.1 431.4,96.6 428.7,106.0 423.5,116.2"/>
<polyline fill="none" stroke="#6a6a6a" stroke-opacity="0.26" stroke-width="0.55" points="451.4,42.4 445.6,50.0 441.4,58.8 435.2,66.3 432.2,76.4 427.5,86.3 423.2,95.3 422.8,103.9 422.6,115.9"/>
<polyline fill="none" stroke="#6a6a6a" stroke-opacity="0.44" stroke-width="0.55" points="454.0,42.0 464.4,47.2 468.9,55.3 476.6,61.6 483.5,68.8 489.4,73.5 494.2,84.0 498.2,90.4 503.6,99.8 506.7,109.4"/>
<polyline fill="none" stroke="#6a6a6a" stroke-opacity="0.28" stroke-width="0.55" points="453.4,42.4 464.0,49.7 470.9,52.5 477.1,62.4 484.2,66.1 490.5,74.9 495.5,85.0 499.7,90.6 503.5,101.3 506.1,109.8"/>
<polyline fill="none" stroke="#6a6a6a" stroke-opacity="0.44" stroke-width="0.55" points="452.8,42.9 461.1,50.1 469.7,56.8 474.9,62.1 479.6,71.3 487.9,77.9 494.3,83.9 497.9,94.7 500.4,103.5 505.5,110.3"/>
<polyline fill="none" stroke="#6a6a6a" stroke-opacity="0.42" stroke-width="0.55" points="452.2,43.4 461.9,50.8 469.4,58.1 474.6,62.6 482.7,69.2 487.8,80.1 490.5,84.7 498.5,93.2 502.7,101.8 504.9,110.8"/>
<polyline fill="none" stroke="#6a6a6a" stroke-opacity="0.42" stroke-width="0.55" points="451.6,43.8 456.9,52.1 465.1,57.5 470.4,67.3 478.0,72.4 481.1,82.7 490.3,89.8 493.1,96.5 500.4,102.0 504.3,111.2"/>
<polyline fill="none" stroke="#6a6a6a" stroke-opacity="0.43" stroke-width="0.55" points="337.8,127.5 347.3,123.7 354.7,122.6 367.2,118.3 374.3,117.2 383.2,116.5 395.6,115.0 406.0,115.2 412.1,112.6 423.8,114.9"/>
<polyline fill="none" stroke="#6a6a6a" stroke-opacity="0.41" stroke-width="0.55" points="337.9,128.5 347.9,127.6 354.9,123.9 368.1,123.5 375.9,121.0 385.9,117.9 394.7,119.9 405.3,115.2 412.1,114.7 423.9,115.9"/>
<polyline fill="none" stroke="#6a6a6a" stroke-opacity="0.37" stroke-width="0.55" points="338.1,129.5 348.0,127.9 358.4,125.7 369.1,124.9 377.6,125.4 387.0,123.5 397.0,122.0 403.8,122.1 413.7,117.3 424.1,116.9"/>
<polyline fill="none" stroke="#6a6a6a" stroke-opacity="0.42" stroke-width="0.55" points="338.2,130.5 347.2,128.5 359.6,131.1 365.3,130.0 378.8,129.1 385.2,128.5 395.1,127.4 406.5,122.1 417.0,120.5 424.2,117.9"/>
<polyline fill="none" stroke="#6a6a6a" stroke-opacity="0.32" stroke-width="0.55" points="423.9,114.9 434.8,112.4 443.8,106.4 452.1,108.0 461.2,105.1 466.9,104.2 476.0,104.9 486.6,105.1 494.9,104.3 505.4,108.8"/>
<polyline fill="none" stroke="#6a6a6a" stroke-opacity="0.27" stroke-width="0.55" points="424.0,116.4 433.2,114.8 441.9,113.1 449.2,109.9 458.5,108.4 471.4,108.2 479.1,108.3 489.3,109.9 494.5,111.3 505.5,110.3"/>
<polyline fill="none" stroke="#6a6a6a" stroke-opacity="0.29" stroke-width="0.55" points="424.1,117.9 431.2,118.5 441.0,115.9 451.1,112.5 462.4,112.6 470.2,111.8 479.7,111.2 489.6,110.4 496.5,110.8 505.6,111.8"/>
<polyline fill="none" stroke="#6a6a6a" stroke-opacity="0.40" stroke-width="0.55" points="423.9,114.9 431.9,117.6 441.1,116.6 453.0,117.2 459.8,116.7 470.3,116.2 477.0,115.2 487.9,112.9 495.6,109.4 505.4,108.8"/>
<polyline fill="none" stroke="#6a6a6a" stroke-opacity="0.33" stroke-width="0.55" points="424.0,116.4 432.5,116.5 439.9,117.9 450.9,120.0 461.7,119.3 470.9,117.7 479.5,114.8 486.9,114.5 494.9,110.8 505.5,110.3"/>
<polyline fill="none" stroke="#6a6a6a" stroke-opacity="0.34" stroke-width="0.55" points="424.1,117.9 432.4,119.2 442.8,120.1 451.4,120.6 459.9,118.1 467.2,121.0 479.7,120.2 486.5,117.0 496.4,113.2 505.6,111.8"/>
<polyline fill="none" stroke="#6a6a6a" stroke-opacity="0.45" stroke-width="0.55" points="505.0,108.9 514.8,101.7 525.0,99.5 537.5,98.6"/>
<polyline fill="none" stroke="#6a6a6a" stroke-opacity="0.46" stroke-width="0.55" points="505.5,110.3 516.4,108.7 528.7,103.7 538.0,100.0"/>
<polyline fill="none" stroke="#6a6a6a" stroke-opacity="0.45" stroke-width="0.55" points="506.0,111.7 517.2,113.6 531.1,109.9 538.5,101.4"/>
<polyline fill="none" stroke="#6a6a6a" stroke-opacity="0.45" stroke-width="0.55" points="506.7,109.3 514.3,113.8 524.6,122.5 531.7,129.6 535.5,139.0 539.2,149.0"/>
<polyline fill="none" stroke="#6a6a6a" stroke-opacity="0.33" stroke-width="0.55" points="505.9,110.0 514.4,117.3 520.0,124.2 524.8,134.1 530.1,139.7 538.4,149.7"/>
<polyline fill="none" stroke="#6a6a6a" stroke-opacity="0.26" stroke-width="0.55" points="505.1,110.6 513.3,117.5 519.2,128.4 522.5,136.2 532.1,142.9 537.6,150.3"/>
<polyline fill="none" stroke="#6a6a6a" stroke-opacity="0.29" stroke-width="0.55" points="504.3,111.3 509.1,122.4 512.2,132.1 518.6,137.8 527.1,146.1 536.8,151.0"/>
<polyline fill="none" stroke="#6a6a6a" stroke-opacity="0.27" stroke-width="0.55" points="339.1,128.0 345.8,133.1 357.1,139.5 364.7,143.8 368.7,151.1 375.3,160.7 380.4,165.5 386.5,175.7 392.1,183.5"/>
<polyline fill="none" stroke="#6a6a6a" stroke-opacity="0.42" stroke-width="0.55" points="338.4,128.7 344.4,133.8 354.3,140.2 358.7,149.3 366.9,154.8 371.9,161.3 381.0,169.3 386.6,177.0 391.4,184.2"/>
<polyline fill="none" stroke="#6a6a6a" stroke-opacity="0.33" stroke-width="0.55" points="337.6,129.3 346.1,137.7 350.7,142.7 356.5,152.0 363.9,157.8 369.7,163.1 376.1,171.1 384.9,178.4 390.6,184.8"/>
<polyline fill="none" stroke="#6a6a6a" stroke-opacity="0.25" stroke-width="0.55" points="336.9,130.0 343.4,137.6 349.4,147.1 353.9,155.2 362.0,161.7 365.7,168.4 375.8,172.1 382.1,179.3 389.9,185.5"/>
<polyline fill="none" stroke="#6a6a6a" stroke-opacity="0.38" stroke-width="0.55" points="425.3,117.1 426.1,127.5 420.7,136.6 421.4,146.4 415.7,155.5 410.5,164.1 405.2,169.6 399.2,176.5 392.3,185.2"/>
<polyline fill="none" stroke="#6a6a6a" stroke-opacity="0.32" stroke-width="0.55" points="424.4,116.6 421.5,125.5 419.8,136.0 414.3,145.4 412.8,153.6 407.7,159.0 403.4,169.5 398.9,177.4 391.4,184.7"/>
<polyline fill="none" stroke="#6a6a6a" stroke-opacity="0.27" stroke-width="0.55" points="423.6,116.2 420.6,123.6 413.1,135.3 409.8,139.8 405.9,149.6 403.2,159.5 399.4,165.1 394.5,175.7 390.6,184.3"/>
<polyline fill="none" stroke="#6a6a6a" stroke-opacity="0.39" stroke-width="0.55" points="422.7,115.7 417.9,124.0 411.1,128.7 403.9,138.0 398.9,148.2 397.0,154.1 393.1,167.1 392.0,174.1 389.7,183.8"/>
<polyline fill="none" stroke="#6a6a6a" stroke-opacity="0.30" stroke-width="0.55" points="425.2,115.5 435.6,119.1 440.6,127.4 448.4,133.4 456.5,137.6 459.3,148.2 465.9,157.5 469.9,164.0 472.1,176.2 472.7,184.2"/>
<polyline fill="none" stroke="#6a6a6a" stroke-opacity="0.26" stroke-width="0.55" points="424.7,115.9 432.6,123.2 440.6,127.8 446.0,134.3 451.9,143.8 456.1,149.5 461.2,157.5 468.2,164.1 470.9,174.7 472.2,184.6"/>
<polyline fill="none" stroke="#6a6a6a" stroke-opacity="0.36" stroke-width="0.55" points="424.2,116.2 431.9,122.6 436.8,131.4 438.4,137.9 444.1,145.5 451.8,153.0 454.3,162.8 462.1,167.7 467.1,178.2 471.7,184.9"/>
<polyline fill="none" stroke="#6a6a6a" stroke-opacity="0.39" stroke-width="0.55" points="423.8,116.6 428.1,123.1 431.9,131.9 440.2,140.2 446.6,148.7 448.4,157.1 454.4,163.1 460.7,170.1 467.4,178.3 471.3,185.3"/>
<polyline fill="none" stroke="#6a6a6a" stroke-opacity="0.43" stroke-width="0.55" points="423.3,116.9 428.5,127.4 429.0,135.0 434.3,144.3 441.1,151.9 444.1,158.8 451.7,163.5 457.7,173.9 464.0,179.0 470.8,185.6"/>
<polyline fill="none" stroke="#6a6a6a" stroke-opacity="0.31" stroke-width="0.55" points="422.8,117.3 425.3,128.2 428.3,136.5 428.7,145.3 434.8,153.2 439.6,162.3 445.1,168.7 452.6,173.6 461.1,180.3 470.3,186.0"/>
<polyline fill="none" stroke="#6a6a6a" stroke-opacity="0.40" stroke-width="0.55" points="506.9,110.9 506.1,121.1 504.1,129.8 502.6,139.1 499.2,145.0 495.7,153.5 490.4,163.1 484.0,169.3 479.4,179.4 472.9,185.7"/>
<polyline fill="none" stroke="#6a6a6a" stroke-opacity="0.37" stroke-width="0.55" points="506.0,110.5 503.9,118.6 498.6,129.1 496.1,135.8 494.9,143.3 488.8,154.0 487.0,163.3 479.7,167.6 474.8,177.6 472.0,185.3"/>
<polyline fill="none" stroke="#6a6a6a" stroke-opacity="0.45" stroke-width="0.55" points="505.0,110.1 501.2,117.5 494.2,124.5 493.1,136.1 488.2,141.4 481.8,151.4 480.3,159.5 476.2,169.4 471.8,177.1 471.0,184.9"/>
<polyline fill="none" stroke="#6a6a6a" stroke-opacity="0.42" stroke-width="0.55" points="504.1,109.7 496.5,119.0 492.3,122.9 486.3,131.1 484.5,141.9 477.6,150.6 475.0,158.9 475.2,165.0 470.3,173.3 470.1,184.5"/>
<polyline fill="none" stroke="#6a6a6a" stroke-opacity="0.45" stroke-width="0.55" points="391.0,183.0 403.1,178.2 409.8,176.5 422.0,177.8 433.1,174.8 440.4,178.4 449.4,180.6 460.4,180.0 471.5,183.6"/>
<polyline fill="none" stroke="#6a6a6a" stroke-opacity="0.35" stroke-width="0.55" points="391.0,184.5 399.8,183.8 411.1,183.7 423.2,180.3 432.3,183.2 442.1,182.4 451.2,180.7 460.6,183.2 471.5,185.1"/>
<polyline fill="none" stroke="#6a6a6a" stroke-opacity="0.31" stroke-width="0.55" points="391.0,186.0 402.4,182.4 409.5,183.1 421.0,181.0 431.1,180.3 440.4,183.0 449.4,184.6 462.0,183.8 471.5,186.6"/>
<polyline fill="none" stroke="#6a6a6a" stroke-opacity="0.44" stroke-width="0.55" points="391.0,183.0 403.2,185.0 412.9,186.3 423.0,186.4 431.8,187.7 440.1,189.6 452.2,186.9 462.8,184.7 471.5,183.6"/>
<polyline fill="none" stroke="#6a6a6a" stroke-opacity="0.46" stroke-width="0.55" points="391.0,184.5 402.0,186.7 410.9,187.4 421.3,190.1 429.6,189.4 442.4,188.9 450.0,189.7 459.7,189.1 471.5,185.1"/>
<polyline fill="none" stroke="#6a6a6a" stroke-opacity="0.26" stroke-width="0.55" points="391.0,186.0 399.9,188.3 409.4,191.5 422.4,192.8 430.0,195.1 440.1,194.4 451.7,193.8 462.6,188.4 471.5,186.6"/>
<polyline fill="none" stroke="#6a6a6a" stroke-opacity="0.30" stroke-width="0.55" points="471.4,183.6 479.0,182.5 488.6,180.9 501.6,178.2 508.6,176.1 516.7,176.8 529.7,180.0 537.9,180.5"/>
<polyline fill="none" stroke="#6a6a6a" stroke-opacity="0.45" stroke-width="0.55" points="471.5,184.6 479.3,183.0 488.9,182.5 501.5,181.1 508.6,178.5 517.1,178.5 529.1,179.4 538.0,181.5"/>
<polyline fill="none" stroke="#6a6a6a" stroke-opacity="0.46" stroke-width="0.55" points="471.5,185.6 483.3,187.5 490.8,186.9 500.9,189.8 509.7,185.4 518.1,186.1 530.1,186.2 538.0,182.5"/>
<polyline fill="none" stroke="#6a6a6a" stroke-opacity="0.42" stroke-width="0.55" points="471.6,186.6 479.4,191.1 490.0,190.5 498.3,192.2 509.2,194.4 520.7,191.2 529.5,188.0 538.1,183.5"/>
<polyline fill="none" stroke="#6a6a6a" stroke-opacity="0.31" stroke-width="0.55" points="392.1,185.5 386.2,194.6 381.0,203.6 377.4,209.9 371.5,218.1 363.4,223.5 353.1,231.0 345.6,238.4 339.1,242.0"/>
<polyline fill="none" stroke="#6a6a6a" stroke-opacity="0.44" stroke-width="0.55" points="391.4,184.8 385.4,194.5 377.3,201.0 372.4,205.9 365.1,214.7 360.5,222.2 350.5,228.6 347.4,234.8 338.4,241.3"/>
<polyline fill="none" stroke="#6a6a6a" stroke-opacity="0.40" stroke-width="0.55" points="390.6,184.2 382.0,193.2 377.7,197.1 371.2,202.9 365.8,210.6 358.0,217.1 351.2,227.1 345.5,233.6 337.6,240.7"/>
<polyline fill="none" stroke="#6a6a6a" stroke-opacity="0.26" stroke-width="0.55" points="389.9,183.5 383.5,189.5 373.4,196.3 367.2,204.3 361.0,211.1 354.1,214.6 349.1,222.5 342.9,230.0 336.9,240.0"/>
<polyline fill="none" stroke="#6a6a6a" stroke-opacity="0.37" stroke-width="0.55" points="392.4,183.8 398.7,192.2 403.0,200.2 409.0,206.5 412.0,214.7 417.1,226.3 422.1,235.6 422.7,245.4 426.0,253.2"/>
<polyline fill="none" stroke="#6a6a6a" stroke-opacity="0.27" stroke-width="0.55" points="391.5,184.3 397.2,192.5 402.4,200.7 407.9,209.6 412.2,217.4 412.6,228.0 419.2,235.4 422.3,242.9 425.1,253.7"/>
<polyline fill="none" stroke="#6a6a6a" stroke-opacity="0.30" stroke-width="0.55" points="390.5,184.7 393.5,193.2 395.0,201.1 402.1,210.8 404.0,221.4 408.8,228.7 412.1,236.1 418.0,244.1 424.1,254.1"/>
<polyline fill="none" stroke="#6a6a6a" stroke-opacity="0.37" stroke-width="0.55" points="389.6,185.2 393.2,195.3 394.7,204.6 396.2,212.5 401.0,222.5 402.8,233.1 410.7,238.2 416.6,245.5 423.2,254.6"/>
<polyline fill="none" stroke="#6a6a6a" stroke-opacity="0.27" stroke-width="0.55" points="472.7,185.9 470.5,194.1 464.9,205.8 462.2,214.4 458.8,219.7 453.9,229.7 445.0,237.6 441.4,243.2 433.4,249.9 425.8,254.7"/>
<polyline fill="none" stroke="#6a6a6a" stroke-opacity="0.32" stroke-width="0.55" points="471.9,185.4 465.9,192.8 461.8,201.1 458.0,209.6 453.6,218.2 444.4,222.0 441.8,230.4 435.7,238.7 428.7,245.5 425.0,254.2"/>
<polyline fill="none" stroke="#6a6a6a" stroke-opacity="0.34" stroke-width="0.55" points="471.1,184.8 466.2,190.4 459.4,201.5 457.1,208.6 448.1,215.4 444.5,222.5 437.4,229.6 435.0,238.3 427.3,243.7 424.2,253.6"/>
<polyline fill="none" stroke="#6a6a6a" stroke-opacity="0.32" stroke-width="0.55" points="470.3,184.3 463.6,191.7 455.6,199.2 451.9,204.3 445.8,210.7 438.4,219.1 433.9,228.2 430.2,237.0 424.9,242.4 423.4,253.1"/>
<polyline fill="none" stroke="#6a6a6a" stroke-opacity="0.28" stroke-width="0.55" points="472.9,184.5 479.3,189.6 482.5,198.6 491.6,206.4 494.7,215.9 497.8,223.6 502.9,232.4 502.5,242.4 504.7,249.8 507.2,258.6"/>
<polyline fill="none" stroke="#6a6a6a" stroke-opacity="0.28" stroke-width="0.55" points="472.0,184.9 476.2,194.4 481.6,201.3 482.4,207.6 488.7,215.8 493.3,224.4 495.0,232.8 500.2,240.7 501.7,249.0 506.3,259.0"/>
<polyline fill="none" stroke="#6a6a6a" stroke-opacity="0.41" stroke-width="0.55" points="471.0,185.3 474.8,192.3 479.2,201.1 481.1,212.0 484.6,218.2 491.0,228.0 492.2,236.4 498.4,241.0 499.8,253.1 505.3,259.4"/>
<polyline fill="none" stroke="#6a6a6a" stroke-opacity="0.40" stroke-width="0.55" points="470.1,185.7 470.4,193.8 476.1,205.5 476.8,211.7 483.0,222.4 486.7,228.1 489.3,238.3 496.1,243.0 500.8,250.5 504.4,259.8"/>
<polyline fill="none" stroke="#6a6a6a" stroke-opacity="0.36" stroke-width="0.55" points="338.2,239.5 349.5,239.7 357.6,237.6 366.4,237.0 375.4,238.0 386.3,240.5 394.1,242.5 404.0,243.4 414.0,250.4 424.8,252.4"/>
<polyline fill="none" stroke="#6a6a6a" stroke-opacity="0.39" stroke-width="0.55" points="338.0,241.0 345.8,241.2 359.3,238.9 366.7,240.0 377.7,241.8 384.5,242.9 394.1,246.2 405.5,248.5 415.3,249.6 424.6,253.9"/>
<polyline fill="none" stroke="#6a6a6a" stroke-opacity="0.45" stroke-width="0.55" points="337.8,242.5 347.2,243.0 355.1,240.4 365.8,241.2 375.8,242.4 385.6,246.2 395.0,245.4 405.4,251.0 413.0,253.3 424.4,255.4"/>
<polyline fill="none" stroke="#6a6a6a" stroke-opacity="0.38" stroke-width="0.55" points="338.2,239.5 347.3,240.6 356.3,243.8 368.5,246.4 376.2,249.9 385.6,248.4 398.1,249.6 406.8,253.4 415.9,250.4 424.8,252.4"/>
<polyline fill="none" stroke="#6a6a6a" stroke-opacity="0.39" stroke-width="0.55" points="338.0,241.0 345.5,246.4 355.3,246.6 368.0,251.9 375.5,253.4 387.4,254.4 395.1,254.9 404.8,255.8 413.5,252.9 424.6,253.9"/>
<polyline fill="none" stroke="#6a6a6a" stroke-opacity="0.28" stroke-width="0.55" points="337.8,242.5 345.6,245.7 357.5,248.3 366.2,251.3 375.1,256.8 384.1,257.3 396.9,257.0 406.0,258.5 416.0,257.1 424.4,255.4"/>
<polyline fill="none" stroke="#6a6a6a" stroke-opacity="0.34" stroke-width="0.55" points="424.7,252.4 433.1,252.6 443.6,252.1 449.8,249.2 459.3,250.4 469.4,250.2 477.4,251.9 488.8,253.0 497.5,253.7 505.9,257.7"/>
<polyline fill="none" stroke="#6a6a6a" stroke-opacity="0.40" stroke-width="0.55" points="424.6,253.9 432.1,250.4 441.8,253.1 452.1,249.4 462.5,253.3 471.3,249.8 479.7,250.8 487.4,256.1 496.6,254.6 505.8,259.2"/>
<polyline fill="none" stroke="#6a6a6a" stroke-opacity="0.46" stroke-width="0.55" points="424.5,255.4 433.7,254.0 440.3,253.0 450.9,256.0 458.9,254.7 469.0,256.1 479.5,258.3 488.9,257.6 496.2,257.1 505.7,260.7"/>
<polyline fill="none" stroke="#6a6a6a" stroke-opacity="0.41" stroke-width="0.55" points="424.7,252.4 432.4,253.9 441.0,257.6 450.4,259.4 463.0,259.0 468.4,261.5 478.5,259.7 489.7,259.2 498.3,257.6 505.9,257.7"/>
<polyline fill="none" stroke="#6a6a6a" stroke-opacity="0.34" stroke-width="0.55" points="424.6,253.9 433.3,257.8 441.1,256.0 453.3,257.5 460.5,259.3 469.0,257.8 479.1,258.1 486.3,258.3 494.9,261.5 505.8,259.2"/>
<polyline fill="none" stroke="#6a6a6a" stroke-opacity="0.39" stroke-width="0.55" points="424.5,255.4 433.2,260.0 444.5,264.1 450.9,264.4 459.7,267.6 468.4,265.1 479.3,266.0 488.6,263.6 495.2,261.8 505.7,260.7"/>
<polyline fill="none" stroke="#6a6a6a" stroke-opacity="0.31" stroke-width="0.55" points="505.9,257.7 515.9,253.6 526.6,253.9 538.1,260.5"/>
<polyline fill="none" stroke="#6a6a6a" stroke-opacity="0.25" stroke-width="0.55" points="505.8,258.7 514.9,259.8 527.6,258.2 538.0,261.5"/>
<polyline fill="none" stroke="#6a6a6a" stroke-opacity="0.31" stroke-width="0.55" points="505.8,259.7 516.4,262.5 529.2,265.1 538.0,262.5"/>
<polyline fill="none" stroke="#6a6a6a" stroke-opacity="0.26" stroke-width="0.55" points="505.7,260.7 517.5,268.4 525.5,270.3 537.9,263.5"/>
<polyline fill="none" stroke="#6a6a6a" stroke-opacity="0.36" stroke-width="0.55" points="339.4,240.4 345.0,247.0 348.5,253.8 353.6,263.1 361.1,271.2 365.2,278.3 368.2,288.6 368.4,295.9 372.6,308.0 373.7,315.0"/>
<polyline fill="none" stroke="#6a6a6a" stroke-opacity="0.28" stroke-width="0.55" points="338.5,240.8 342.9,248.0 348.6,256.7 354.5,265.5 357.8,273.8 360.4,281.3 362.0,289.9 368.6,297.7 371.8,307.5 372.8,315.4"/>
<polyline fill="none" stroke="#6a6a6a" stroke-opacity="0.38" stroke-width="0.55" points="337.5,241.2 342.4,250.2 343.1,260.1 347.3,266.1 350.3,275.4 354.7,284.6 360.3,293.3 363.7,301.4 369.2,306.5 371.8,315.8"/>
<polyline fill="none" stroke="#6a6a6a" stroke-opacity="0.41" stroke-width="0.55" points="336.6,241.6 337.9,252.7 338.0,260.5 341.8,270.9 345.2,277.6 347.1,287.0 355.7,295.8 357.0,301.6 365.1,307.2 370.9,316.2"/>
<polyline fill="none" stroke="#6a6a6a" stroke-opacity="0.37" stroke-width="0.55" points="425.7,254.9 419.4,262.4 416.5,271.0 409.4,281.8 403.3,289.6 398.5,295.6 389.3,303.8 382.5,310.7 373.4,316.6"/>
<polyline fill="none" stroke="#6a6a6a" stroke-opacity="0.35" stroke-width="0.55" points="425.0,254.2 418.6,263.2 410.1,270.7 403.4,279.4 399.3,283.2 393.6,292.3 386.8,300.6 377.3,308.7 372.7,315.9"/>
<polyline fill="none" stroke="#6a6a6a" stroke-opacity="0.46" stroke-width="0.55" points="424.2,253.6 415.1,261.3 408.6,266.7 401.2,275.1 395.4,284.4 388.0,291.1 384.3,300.2 376.7,305.6 371.9,315.3"/>
<polyline fill="none" stroke="#6a6a6a" stroke-opacity="0.45" stroke-width="0.55" points="423.5,252.9 415.4,257.5 408.8,267.7 398.8,274.8 391.4,280.0 388.3,288.8 382.7,295.8 375.2,304.0 371.2,314.6"/>
<polyline fill="none" stroke="#6a6a6a" stroke-opacity="0.28" stroke-width="0.55" points="426.0,253.3 433.2,260.8 436.0,269.9 442.2,280.8 443.4,289.6 446.2,297.6 451.8,305.7 451.9,316.7 455.2,326.1"/>
<polyline fill="none" stroke="#6a6a6a" stroke-opacity="0.46" stroke-width="0.55" points="425.1,253.7 429.9,262.6 436.2,270.2 440.4,277.7 442.6,290.2 445.0,298.9 451.0,306.0 451.2,315.1 454.3,326.5"/>
<polyline fill="none" stroke="#6a6a6a" stroke-opacity="0.43" stroke-width="0.55" points="424.1,254.1 426.4,262.7 431.5,274.9 432.7,281.2 436.4,289.6 440.9,300.9 443.8,310.6 449.7,318.1 453.3,326.9"/>
<polyline fill="none" stroke="#6a6a6a" stroke-opacity="0.42" stroke-width="0.55" points="423.2,254.5 424.2,265.3 427.9,273.5 428.9,282.3 434.6,294.0 437.3,299.2 440.9,310.7 446.6,319.5 452.4,327.3"/>
<polyline fill="none" stroke="#6a6a6a" stroke-opacity="0.26" stroke-width="0.55" points="507.0,260.1 506.4,269.1 499.4,280.8 498.4,286.1 490.8,296.1 487.4,302.8 479.6,310.6 470.8,317.4 462.0,324.0 455.0,327.6"/>
<polyline fill="none" stroke="#6a6a6a" stroke-opacity="0.33" stroke-width="0.55" points="506.5,259.7 503.1,268.8 500.3,278.0 494.0,285.2 490.5,293.2 483.7,302.7 475.2,307.4 468.9,316.5 463.6,320.9 454.5,327.2"/>
<polyline fill="none" stroke="#6a6a6a" stroke-opacity="0.38" stroke-width="0.55" points="506.0,259.4 499.7,266.1 493.9,275.8 491.1,284.0 481.8,288.2 476.1,295.9 474.0,305.1 467.9,312.6 458.2,319.1 454.0,326.9"/>
<polyline fill="none" stroke="#6a6a6a" stroke-opacity="0.41" stroke-width="0.55" points="505.6,259.0 499.8,265.3 492.8,271.2 484.5,278.3 479.4,288.2 474.4,295.3 466.8,300.4 461.9,308.7 459.2,317.5 453.6,326.5"/>
<polyline fill="none" stroke="#6a6a6a" stroke-opacity="0.46" stroke-width="0.55" points="505.1,258.7 497.1,267.1 492.1,269.7 483.1,278.6 476.5,286.1 474.5,293.6 466.4,300.9 459.8,308.1 455.9,315.9 453.1,326.2"/>
<polyline fill="none" stroke="#6a6a6a" stroke-opacity="0.38" stroke-width="0.55" points="504.6,258.3 494.5,265.0 485.9,267.3 479.1,275.6 472.7,283.1 467.1,289.7 463.1,295.0 455.9,306.4 454.0,314.7 452.6,325.8"/>
<polyline fill="none" stroke="#6a6a6a" stroke-opacity="0.43" stroke-width="0.55" points="372.5,314.1 381.4,311.6 392.2,309.4 401.8,309.3 408.1,311.5 417.6,311.3 429.4,315.0 436.0,316.7 443.7,319.6 454.0,325.2"/>
<polyline fill="none" stroke="#6a6a6a" stroke-opacity="0.44" stroke-width="0.55" points="372.3,315.6 380.4,312.8 389.6,313.7 400.8,312.9 408.3,317.1 415.5,316.3 428.6,317.4 433.9,319.1 446.2,324.6 453.8,326.7"/>
<polyline fill="none" stroke="#6a6a6a" stroke-opacity="0.35" stroke-width="0.55" points="372.1,317.1 380.5,318.8 389.3,314.8 398.8,315.1 408.4,318.1 419.1,317.6 428.3,319.5 437.4,323.6 445.9,323.1 453.6,328.2"/>
<polyline fill="none" stroke="#6a6a6a" stroke-opacity="0.37" stroke-width="0.55" points="372.5,314.1 380.5,315.9 392.5,318.2 400.0,321.1 409.2,323.4 418.5,324.4 425.0,324.0 434.2,325.5 444.3,325.8 454.0,325.2"/>
<polyline fill="none" stroke="#6a6a6a" stroke-opacity="0.43" stroke-width="0.55" points="372.3,315.6 380.8,319.5 391.2,321.5 398.7,324.4 406.9,327.5 416.2,325.3 425.7,328.1 437.3,326.9 443.8,328.4 453.8,326.7"/>
<polyline fill="none" stroke="#6a6a6a" stroke-opacity="0.41" stroke-width="0.55" points="372.1,317.1 382.0,318.6 388.5,321.8 400.4,325.3 409.8,327.6 416.6,328.5 424.4,327.7 433.6,330.0 446.5,330.6 453.6,328.2"/>
<polyline fill="none" stroke="#6a6a6a" stroke-opacity="0.45" stroke-width="0.55" points="504.7,258.2 509.3,251.3 517.5,243.0 523.4,234.1 530.4,228.1 536.9,224.0"/>
<polyline fill="none" stroke="#6a6a6a" stroke-opacity="0.26" stroke-width="0.55" points="505.8,259.2 512.0,254.6 520.6,246.9 525.6,239.3 533.1,232.4 538.0,225.0"/>
<polyline fill="none" stroke="#6a6a6a" stroke-opacity="0.36" stroke-width="0.55" points="506.9,260.2 514.4,257.1 522.6,248.7 529.3,241.5 533.0,234.8 539.1,226.0"/>
<polyline fill="none" stroke="#6a6a6a" stroke-opacity="0.28" stroke-width="0.55" points="336.7,129.7 332.7,121.5 327.4,115.1 321.5,105.4 318.7,95.7"/>
<polyline fill="none" stroke="#6a6a6a" stroke-opacity="0.45" stroke-width="0.55" points="339.3,128.3 338.0,119.3 330.8,112.2 328.9,104.1 321.3,94.3"/>
<polyline fill="none" stroke="#6a6a6a" stroke-opacity="0.35" stroke-width="0.55" points="372.5,55.5 369.3,63.7 363.5,69.1 353.3,77.5 350.5,83.3 341.1,91.0"/>
<polyline fill="none" stroke="#6a6a6a" stroke-opacity="0.28" stroke-width="0.55" points="370.3,53.5 363.4,62.4 358.5,66.8 349.2,75.7 342.9,81.4 338.9,89.0"/>
<polyline fill="none" stroke="#6a6a6a" stroke-opacity="0.37" stroke-width="0.55" points="338.7,242.3 329.9,250.5 323.5,258.6 311.9,260.1 300.7,263.3"/>
<polyline fill="none" stroke="#6a6a6a" stroke-opacity="0.32" stroke-width="0.55" points="337.3,239.7 328.5,241.0 316.2,248.6 306.9,252.3 299.3,260.7"/>
<polyline fill="none" stroke="#6a6a6a" stroke-opacity="0.45" stroke-width="0.55" points="336.6,129.4 331.5,118.5 331.1,111.8 328.6,100.4"/>
<polyline fill="none" stroke="#6a6a6a" stroke-opacity="0.43" stroke-width="0.55" points="339.4,128.6 338.8,117.4 336.6,107.4 331.4,99.6"/>
<polyline fill="none" stroke="#6a6a6a" stroke-opacity="0.31" stroke-width="0.55" points="339.1,128.0 344.2,133.1 353.8,140.4 361.1,148.4 367.3,155.8 374.0,162.9 379.0,168.3 385.6,175.2 392.1,183.5"/>
<polyline fill="none" stroke="#6a6a6a" stroke-opacity="0.41" stroke-width="0.55" points="336.9,130.0 342.1,135.3 350.2,145.8 357.8,152.7 360.5,159.7 369.7,164.8 376.8,174.3 382.2,177.1 389.9,185.5"/>
<polyline fill="none" stroke="#6a6a6a" stroke-opacity="0.29" stroke-width="0.55" points="336.9,240.0 342.8,233.1 351.6,224.7 357.1,218.1 363.0,209.1 371.2,203.2 375.0,198.8 382.0,190.3 389.9,183.5"/>
<polyline fill="none" stroke="#6a6a6a" stroke-opacity="0.38" stroke-width="0.55" points="339.1,242.0 346.3,234.0 353.8,229.7 361.4,222.5 369.1,216.1 374.6,210.0 381.0,201.1 386.3,192.3 392.1,185.5"/>
<polyline fill="none" stroke="#6a6a6a" stroke-opacity="0.39" stroke-width="0.55" points="470.7,183.9 478.8,175.3 484.1,170.8 493.0,165.7 503.7,157.0 508.6,153.7 516.6,146.1 525.8,144.2 537.2,138.8"/>
<polyline fill="none" stroke="#6a6a6a" stroke-opacity="0.31" stroke-width="0.55" points="472.3,186.3 480.6,178.9 489.1,176.0 497.4,168.9 507.7,165.2 513.0,158.4 522.5,154.3 530.3,147.9 538.8,141.2"/>
<path d="M9.1,106.0 Q27.6,98.7 46.9,109.0" fill="none" stroke="#fbb3aa" stroke-opacity="0.60" stroke-width="1.5"/>
<path d="M9.1,108.3 Q27.4,105.2 46.4,109.9" fill="none" stroke="#fbb2a9" stroke-opacity="0.64" stroke-width="2.8"/>
<path d="M8.3,108.1 Q27.5,111.6 46.2,110.0" fill="none" stroke="#fbbcb5" stroke-opacity="0.46" stroke-width="2.3"/>
<path d="M8.8,109.2 Q27.2,114.2 45.9,111.4" fill="none" stroke="#fccdc8" stroke-opacity="0.48" stroke-width="2.6"/>
<polygon points="12.7,107.6 24.3,102.4 25.0,111.0" fill="#fbb2a9" fill-opacity="0.76"/>
<polygon points="15.4,110.9 27.9,108.3 26.7,116.8" fill="#fccdc8" fill-opacity="0.60"/>
<path d="M57.4,104.8 Q89.2,82.9 121.2,94.2" fill="none" stroke="#f99589" stroke-opacity="0.74" stroke-width="1.9"/>
<path d="M57.7,105.9 Q90.0,86.9 121.1,94.7" fill="none" stroke="#f99286" stroke-opacity="0.55" stroke-width="2.0"/>
<path d="M57.2,106.3 Q89.9,87.1 122.0,95.5" fill="none" stroke="#faa298" stroke-opacity="0.63" stroke-width="2.5"/>
<path d="M57.4,107.7 Q90.4,89.9 122.1,96.8" fill="none" stroke="#f99387" stroke-opacity="0.56" stroke-width="2.5"/>
<path d="M57.6,107.7 Q91.1,93.1 121.5,96.3" fill="none" stroke="#f88578" stroke-opacity="0.67" stroke-width="3.0"/>
<path d="M58.9,109.2 Q91.0,97.7 122.6,96.9" fill="none" stroke="#f9978b" stroke-opacity="0.68" stroke-width="1.5"/>
<polygon points="100.5,92.4 88.9,97.7 88.1,89.2" fill="#f99286" fill-opacity="0.67"/>
<polygon points="113.8,95.7 101.8,100.1 101.7,91.5" fill="#f88578" fill-opacity="0.79"/>
<polygon points="94.2,93.3 83.1,99.5 81.6,91.0" fill="#faa298" fill-opacity="0.75"/>
<path d="M60.4,111.2 Q89.8,98.4 121.9,103.1" fill="none" stroke="#f98e81" stroke-opacity="0.54" stroke-width="1.5"/>
<path d="M60.2,113.2 Q90.5,103.0 122.5,104.8" fill="none" stroke="#faa59b" stroke-opacity="0.67" stroke-width="2.6"/>
<path d="M59.7,114.8 Q92.1,110.6 122.5,106.2" fill="none" stroke="#f88679" stroke-opacity="0.68" stroke-width="1.6"/>
<polygon points="107.9,104.5 96.2,109.5 95.7,100.9" fill="#faa59b" fill-opacity="0.79"/>
<path d="M50.1,116.5 Q36.8,149.9 23.1,179.1" fill="none" stroke="#fbb8b0" stroke-opacity="0.59" stroke-width="2.4"/>
<path d="M47.4,116.0 Q22.5,143.2 20.2,178.0" fill="none" stroke="#f99b90" stroke-opacity="0.55" stroke-width="2.5"/>
<polygon points="33.2,135.0 31.4,147.6 23.8,143.6" fill="#f99b90" fill-opacity="0.67"/>
<path d="M63.9,113.7 Q91.3,141.9 94.9,176.8" fill="none" stroke="#f98c80" stroke-opacity="0.69" stroke-width="1.7"/>
<path d="M61.6,115.5 Q84.1,145.0 92.2,178.3" fill="none" stroke="#f8877a" stroke-opacity="0.59" stroke-width="2.2"/>
<polygon points="87.4,147.6 78.2,138.7 85.9,134.9" fill="#f98c80" fill-opacity="0.81"/>
<path d="M59.7,117.7 Q70.4,151.9 89.3,177.5" fill="none" stroke="#fcc9c3" stroke-opacity="0.41" stroke-width="2.7"/>
<path d="M56.8,119.1 Q63.2,156.2 86.2,177.9" fill="none" stroke="#fcc7c1" stroke-opacity="0.33" stroke-width="2.3"/>
<path d="M128.8,108.8 Q121.2,142.2 105.7,174.7" fill="none" stroke="#fbbdb6" stroke-opacity="0.58" stroke-width="2.2"/>
<path d="M125.2,107.3 Q115.1,140.5 102.8,173.1" fill="none" stroke="#fde0dc" stroke-opacity="0.36" stroke-width="2.3"/>
<polygon points="116.0,136.1 116.2,148.8 108.1,146.0" fill="#fde0dc" fill-opacity="0.48"/>
<path d="M22.3,181.9 Q57.2,160.2 91.3,181.9" fill="none" stroke="#faa095" stroke-opacity="0.66" stroke-width="1.7"/>
<path d="M23.2,183.4 Q56.9,165.5 91.0,182.3" fill="none" stroke="#fbbdb6" stroke-opacity="0.64" stroke-width="2.4"/>
<path d="M23.8,183.7 Q56.8,170.4 90.6,184.9" fill="none" stroke="#faa69c" stroke-opacity="0.59" stroke-width="2.0"/>
<polygon points="52.5,174.3 64.4,169.8 64.6,178.4" fill="#fbbdb6" fill-opacity="0.76"/>
<path d="M23.1,187.0 Q57.1,200.5 90.5,184.8" fill="none" stroke="#fbbdb6" stroke-opacity="0.63" stroke-width="2.1"/>
<path d="M23.6,187.8 Q56.7,207.8 91.0,186.6" fill="none" stroke="#f99a8e" stroke-opacity="0.55" stroke-width="1.5"/>
<path d="M23.3,189.1 Q56.9,213.3 91.1,188.0" fill="none" stroke="#fdd7d3" stroke-opacity="0.63" stroke-width="1.8"/>
<polygon points="69.5,196.0 58.4,202.2 57.0,193.7" fill="#f99a8e" fill-opacity="0.67"/>
<path d="M20.8,189.9 Q47.3,215.2 49.7,254.1" fill="none" stroke="#fbaea5" stroke-opacity="0.56" stroke-width="2.5"/>
<path d="M18.0,191.8 Q33.6,221.4 46.2,254.9" fill="none" stroke="#fcc4bd" stroke-opacity="0.46" stroke-width="1.6"/>
<polygon points="29.6,215.1 38.4,224.2 30.6,227.8" fill="#fcc4bd" fill-opacity="0.58"/>
<path d="M94.7,192.2 Q72.2,221.6 58.1,256.0" fill="none" stroke="#fbb3ab" stroke-opacity="0.41" stroke-width="2.5"/>
<path d="M91.5,190.7 Q60.8,215.5 55.3,253.6" fill="none" stroke="#fcc6bf" stroke-opacity="0.42" stroke-width="1.3"/>
<polygon points="69.3,214.9 67.1,227.4 59.6,223.1" fill="#fcc6bf" fill-opacity="0.54"/>
<path d="M102.8,193.6 Q128.7,225.7 128.9,261.3" fill="none" stroke="#fdd7d2" stroke-opacity="0.67" stroke-width="2.5"/>
<path d="M100.1,195.2 Q115.2,230.2 125.9,262.9" fill="none" stroke="#fbafa6" stroke-opacity="0.59" stroke-width="1.8"/>
<polygon points="105.7,208.4 114.2,217.9 106.2,221.1" fill="#fbafa6" fill-opacity="0.71"/>
<polygon points="119.4,244.0 111.3,234.2 119.3,231.2" fill="#fbafa6" fill-opacity="0.71"/>
<path d="M56.7,260.8 Q92.1,266.0 124.2,270.0" fill="none" stroke="#fbb1a8" stroke-opacity="0.47" stroke-width="1.9"/>
<path d="M57.7,261.1 Q90.9,272.9 123.6,271.1" fill="none" stroke="#fbbcb5" stroke-opacity="0.58" stroke-width="1.5"/>
<path d="M56.8,262.2 Q89.6,281.5 124.7,271.2" fill="none" stroke="#fa9e93" stroke-opacity="0.51" stroke-width="1.5"/>
<path d="M57.3,263.0 Q88.7,286.7 124.3,272.3" fill="none" stroke="#fa9c91" stroke-opacity="0.55" stroke-width="2.8"/>
<polygon points="103.2,271.0 90.8,274.0 91.7,265.5" fill="#fbbcb5" fill-opacity="0.70"/>
<polygon points="94.2,277.8 81.7,280.4 82.9,271.9" fill="#fa9c91" fill-opacity="0.67"/>
<path d="M8.7,253.9 Q28.6,248.5 46.4,258.6" fill="none" stroke="#fcc3bc" stroke-opacity="0.61" stroke-width="1.4"/>
<path d="M8.3,257.2 Q27.0,261.6 45.6,260.9" fill="none" stroke="#fa9e94" stroke-opacity="0.45" stroke-width="2.4"/>
<polygon points="11.3,257.9 23.9,255.9 22.4,264.3" fill="#fa9e94" fill-opacity="0.57"/>
<path d="M8.8,182.8 Q11.0,180.1 13.2,183.2" fill="none" stroke="#fcc4bd" stroke-opacity="0.50" stroke-width="1.4"/>
<path d="M8.4,185.0 Q11.1,183.8 13.4,184.7" fill="none" stroke="#fcc9c3" stroke-opacity="0.46" stroke-width="2.1"/>
<path d="M8.9,186.0 Q11.1,191.5 13.0,186.8" fill="none" stroke="#fcc2bb" stroke-opacity="0.40" stroke-width="1.4"/>
<path d="M144.9,108.8 Q170.1,120.8 181.1,150.6" fill="none" stroke="#fbaea5" stroke-opacity="0.60" stroke-width="1.4"/>
<path d="M143.9,108.0 Q168.0,123.9 179.8,150.8" fill="none" stroke="#f8897c" stroke-opacity="0.62" stroke-width="1.5"/>
<path d="M143.2,108.6 Q166.9,125.0 179.0,151.0" fill="none" stroke="#f9897c" stroke-opacity="0.58" stroke-width="2.3"/>
<path d="M142.6,109.4 Q163.3,127.7 179.3,151.5" fill="none" stroke="#f98f83" stroke-opacity="0.52" stroke-width="2.4"/>
<polygon points="167.8,130.1 156.8,123.6 163.4,118.1" fill="#f8897c" fill-opacity="0.74"/>
<polygon points="168.6,136.8 157.7,130.3 164.3,124.8" fill="#f98f83" fill-opacity="0.64"/>
<path d="M134.1,261.2 Q148.7,230.9 177.6,213.4" fill="none" stroke="#f99a8e" stroke-opacity="0.65" stroke-width="2.8"/>
<path d="M134.0,261.9 Q152.8,234.0 178.4,214.6" fill="none" stroke="#f9988c" stroke-opacity="0.65" stroke-width="2.8"/>
<path d="M135.0,261.2 Q155.7,237.3 178.7,215.5" fill="none" stroke="#faa298" stroke-opacity="0.50" stroke-width="2.3"/>
<path d="M134.8,262.6 Q158.4,239.6 179.7,215.4" fill="none" stroke="#fbb5ac" stroke-opacity="0.66" stroke-width="1.9"/>
<path d="M135.3,262.4 Q163.0,243.6 179.4,216.2" fill="none" stroke="#f98d81" stroke-opacity="0.64" stroke-width="3.0"/>
<path d="M136.2,262.8 Q163.9,245.4 180.4,215.8" fill="none" stroke="#faa59b" stroke-opacity="0.56" stroke-width="3.0"/>
<polygon points="151.4,239.4 156.5,227.7 162.8,233.6" fill="#f9988c" fill-opacity="0.77"/>
<polygon points="173.2,225.8 169.4,237.9 162.5,232.7" fill="#f98d81" fill-opacity="0.76"/>
<polygon points="145.6,251.9 150.9,240.3 157.1,246.3" fill="#fbb5ac" fill-opacity="0.78"/>
<path d="M119.6,177.0 Q146.6,160.0 178.3,159.0" fill="none" stroke="#fccdc8" stroke-opacity="0.58" stroke-width="2.0"/>
<path d="M120.3,178.5 Q149.0,167.0 178.3,161.5" fill="none" stroke="#fccec8" stroke-opacity="0.44" stroke-width="1.6"/>
<path d="M120.7,180.1 Q150.8,173.0 178.9,162.7" fill="none" stroke="#fbbeb6" stroke-opacity="0.48" stroke-width="2.5"/>
<polygon points="159.3,165.7 148.9,173.0 146.6,164.7" fill="#fccec8" fill-opacity="0.56"/>
<path d="M181.8,160.6 Q189.3,183.9 186.3,210.5" fill="none" stroke="#f88679" stroke-opacity="0.61" stroke-width="1.8"/>
<path d="M181.3,159.5 Q183.8,185.5 185.9,209.2" fill="none" stroke="#faa096" stroke-opacity="0.60" stroke-width="2.7"/>
<path d="M181.3,159.6 Q180.6,185.2 184.4,210.4" fill="none" stroke="#f98d80" stroke-opacity="0.56" stroke-width="3.0"/>
<path d="M179.1,160.8 Q175.9,185.1 184.1,210.3" fill="none" stroke="#f9978c" stroke-opacity="0.76" stroke-width="1.7"/>
<polygon points="183.7,184.4 178.3,172.9 186.8,172.1" fill="#faa096" fill-opacity="0.72"/>
<polygon points="181.9,188.2 187.2,199.8 178.7,200.6" fill="#f98d80" fill-opacity="0.68"/>
<path d="M143.6,268.9 Q167.0,265.1 190.0,282.2" fill="none" stroke="#faa59b" stroke-opacity="0.68" stroke-width="1.4"/>
<path d="M143.1,271.2 Q164.1,276.3 188.7,284.2" fill="none" stroke="#f98c7f" stroke-opacity="0.68" stroke-width="1.7"/>
<polygon points="173.5,272.5 160.7,272.8 163.5,264.6" fill="#faa59b" fill-opacity="0.80"/>
<polygon points="153.9,273.9 166.6,273.0 164.4,281.3" fill="#f98c7f" fill-opacity="0.80"/>
<path d="M259.0,149.2 Q276.6,184.9 262.9,219.9" fill="none" stroke="#fee6e3" stroke-opacity="0.47" stroke-width="2.2"/>
<path d="M256.1,150.1 Q261.4,185.7 260.5,219.5" fill="none" stroke="#fddbd7" stroke-opacity="0.39" stroke-width="1.9"/>
<path d="M215.1,155.7 Q231.9,177.5 233.7,204.1" fill="none" stroke="#fcc5be" stroke-opacity="0.44" stroke-width="2.1"/>
<path d="M213.4,157.3 Q217.6,182.5 231.6,205.2" fill="none" stroke="#fdd4cf" stroke-opacity="0.46" stroke-width="1.4"/>
<path d="M249.3,136.0 Q268.5,137.2 281.4,156.3" fill="none" stroke="#faa499" stroke-opacity="0.52" stroke-width="2.5"/>
<path d="M248.4,136.9 Q265.1,142.3 280.7,158.6" fill="none" stroke="#f8877a" stroke-opacity="0.54" stroke-width="2.4"/>
<path d="M247.6,138.7 Q260.2,149.8 280.5,158.8" fill="none" stroke="#fbaea5" stroke-opacity="0.55" stroke-width="2.2"/>
<polygon points="249.2,137.0 261.9,137.8 258.5,145.7" fill="#f8877a" fill-opacity="0.66"/>
<polygon points="280.6,158.9 267.9,157.7 271.5,149.9" fill="#fbaea5" fill-opacity="0.67"/>
<path d="M195.2,224.3 Q219.9,223.9 245.6,226.4" fill="none" stroke="#f88578" stroke-opacity="0.55" stroke-width="2.1"/>
<path d="M194.5,225.2 Q220.4,230.2 244.9,228.1" fill="none" stroke="#faa298" stroke-opacity="0.57" stroke-width="1.8"/>
<path d="M195.3,228.0 Q219.4,236.9 245.4,229.3" fill="none" stroke="#f8897c" stroke-opacity="0.57" stroke-width="1.8"/>
<polygon points="229.6,228.8 217.4,232.7 217.7,224.1" fill="#faa298" fill-opacity="0.69"/>
<path d="M230.7,237.8 Q229.3,263.8 218.0,285.2" fill="none" stroke="#fa9e93" stroke-opacity="0.52" stroke-width="2.0"/>
<path d="M229.0,238.1 Q217.8,259.9 214.6,284.2" fill="none" stroke="#f99286" stroke-opacity="0.65" stroke-width="1.9"/>
<polygon points="222.8,251.7 222.9,264.5 214.8,261.6" fill="#f99286" fill-opacity="0.77"/>
<path d="M337.8,152.6 Q326.1,147.9 316.4,139.6" fill="none" stroke="#fa9e94" stroke-opacity="0.73" stroke-width="2.7"/>
<path d="M338.7,151.5 Q329.5,142.8 318.9,136.3" fill="none" stroke="#f8887b" stroke-opacity="0.70" stroke-width="2.0"/>
<polygon points="314.9,138.4 326.9,142.6 321.5,149.3" fill="#fa9e94" fill-opacity="0.85"/>
<polygon points="319.4,136.4 331.7,139.6 326.9,146.7" fill="#f8887b" fill-opacity="0.82"/>
<path d="M334.9,158.7 Q330.0,149.6 328.9,140.8" fill="none" stroke="#faa49a" stroke-opacity="0.74" stroke-width="1.6"/>
<path d="M337.5,157.1 Q336.6,147.7 331.3,140.2" fill="none" stroke="#f99a8f" stroke-opacity="0.59" stroke-width="2.4"/>
<polygon points="328.4,138.1 334.6,149.3 326.1,150.7" fill="#faa49a" fill-opacity="0.86"/>
<path d="M327.1,152.1 Q319.8,146.8 312.1,142.9" fill="none" stroke="#faa096" stroke-opacity="0.65" stroke-width="1.2"/>
<polygon points="309.6,141.6 322.2,143.4 318.3,151.0" fill="#faa096" fill-opacity="0.77"/>
<path d="M97.1,187.1 Q104.2,176.7 108.2,166.8" fill="none" stroke="#f8897c" stroke-opacity="0.73" stroke-width="2.8"/>
<path d="M99.7,188.4 Q110.5,180.2 111.3,168.7" fill="none" stroke="#f9968b" stroke-opacity="0.69" stroke-width="2.6"/>
<polygon points="109.5,163.7 108.8,176.4 100.9,173.1" fill="#f8897c" fill-opacity="0.85"/>
<path d="M97.5,183.4 Q102.3,184.9 106.1,186.2" fill="none" stroke="#f9968a" stroke-opacity="0.55" stroke-width="3.7"/>
<path d="M95.8,185.7 Q101.3,188.8 105.3,189.8" fill="none" stroke="#f8897c" stroke-opacity="0.63" stroke-width="4.0"/>
<path d="M266.8,153.8 Q254.6,149.4 245.3,141.1" fill="none" stroke="#f8887b" stroke-opacity="0.77" stroke-width="2.6"/>
<path d="M268.6,150.2 Q259.2,142.8 246.0,137.8" fill="none" stroke="#f9978c" stroke-opacity="0.80" stroke-width="2.5"/>
<polygon points="242.8,138.9 254.7,143.5 249.1,150.0" fill="#f8887b" fill-opacity="0.89"/>
<polygon points="244.4,137.1 257.2,137.6 253.9,145.6" fill="#f9978c" fill-opacity="0.92"/>
<path d="M233.3,154.6 Q236.3,147.0 245.7,145.2" fill="none" stroke="#f99387" stroke-opacity="0.63" stroke-width="2.5"/>
<path d="M234.3,156.5 Q243.9,155.4 246.3,146.9" fill="none" stroke="#faa69c" stroke-opacity="0.68" stroke-width="1.9"/>
<path d="M257.4,144.8 Q271.6,137.7 283.7,145.3" fill="none" stroke="#f98b7e" stroke-opacity="0.56" stroke-width="1.7"/>
<path d="M258.3,148.2 Q270.3,145.7 284.7,148.2" fill="none" stroke="#f9998d" stroke-opacity="0.71" stroke-width="1.2"/>
<polygon points="286.4,146.8 273.8,144.6 278.1,137.2" fill="#f98b7e" fill-opacity="0.68"/>
<path d="M216.4,156.2 Q222.1,199.3 241.5,241.2" fill="none" stroke="#fdd5d0" stroke-opacity="0.53" stroke-width="1.4"/>
<path d="M255.2,232.9 Q251.4,221.0 253.5,210.2" fill="none" stroke="#f98e81" stroke-opacity="0.54" stroke-width="1.7"/>
<path d="M258.7,232.2 Q259.2,220.5 256.3,209.9" fill="none" stroke="#faa9a0" stroke-opacity="0.77" stroke-width="1.5"/>
<polygon points="254.1,206.8 256.3,219.4 247.8,217.9" fill="#f98e81" fill-opacity="0.66"/>
<path d="M249.6,228.9 Q238.5,229.1 227.3,224.4" fill="none" stroke="#f99a8f" stroke-opacity="0.66" stroke-width="1.7"/>
<path d="M249.9,226.0 Q240.0,219.9 228.3,221.8" fill="none" stroke="#f98a7d" stroke-opacity="0.78" stroke-width="1.8"/>
<polygon points="224.2,223.2 237.0,223.6 233.8,231.6" fill="#f99a8f" fill-opacity="0.78"/>
<path d="M263.1,227.3 Q297.6,247.3 333.5,244.0" fill="none" stroke="#fa9c92" stroke-opacity="0.62" stroke-width="1.5"/>
<path d="M261.4,230.2 Q296.5,252.5 333.4,247.7" fill="none" stroke="#f99286" stroke-opacity="0.58" stroke-width="1.9"/>
<polygon points="290.1,239.4 302.8,238.4 300.6,246.7" fill="#fa9c92" fill-opacity="0.74"/>
<path d="M263.9,213.3 Q291.3,212.9 317.5,213.1" fill="none" stroke="#faaca3" stroke-opacity="0.68" stroke-width="1.0"/>
<path d="M343.9,139.6 Q368.9,148.7 385.5,176.3" fill="none" stroke="#fbafa6" stroke-opacity="0.75" stroke-width="2.6"/>
<path d="M342.3,141.7 Q363.4,154.4 385.1,177.4" fill="none" stroke="#f88679" stroke-opacity="0.46" stroke-width="2.8"/>
<path d="M341.5,141.9 Q358.4,160.0 384.3,179.4" fill="none" stroke="#faa59b" stroke-opacity="0.72" stroke-width="2.4"/>
<polygon points="362.0,155.6 349.9,151.6 355.2,144.8" fill="#f88679" fill-opacity="0.58"/>
<polygon points="364.0,163.3 352.2,158.6 357.8,152.2" fill="#faa59b" fill-opacity="0.84"/>
<path d="M343.4,104.8 Q345.6,99.3 350.5,95.8" fill="none" stroke="#faaaa0" stroke-opacity="0.47" stroke-width="1.5"/>
<path d="M346.2,107.7 Q352.3,103.9 353.7,98.6" fill="none" stroke="#faa399" stroke-opacity="0.65" stroke-width="1.4"/>
<path d="M352.9,122.1 Q379.5,117.3 406.2,117.8" fill="none" stroke="#fcc0b9" stroke-opacity="0.59" stroke-width="2.2"/>
<path d="M352.6,123.4 Q380.2,127.2 407.3,119.1" fill="none" stroke="#fbb6ae" stroke-opacity="0.46" stroke-width="1.8"/>
<path d="M353.1,125.5 Q380.9,133.0 406.8,121.2" fill="none" stroke="#faa9a0" stroke-opacity="0.51" stroke-width="2.2"/>
<polygon points="387.3,123.5 375.8,129.0 374.9,120.4" fill="#fbb6ae" fill-opacity="0.58"/>
<polygon points="396.5,125.2 385.9,132.2 383.9,123.9" fill="#faa9a0" fill-opacity="0.63"/>
<path d="M304.4,239.0 Q320.9,238.2 334.5,241.8" fill="none" stroke="#faaca2" stroke-opacity="0.59" stroke-width="1.4"/>
<path d="M305.6,241.0 Q318.9,247.1 335.1,245.0" fill="none" stroke="#f99488" stroke-opacity="0.60" stroke-width="1.4"/>
<path d="M332.4,228.1 Q333.3,213.1 332.4,197.7" fill="none" stroke="#fbb7af" stroke-opacity="0.55" stroke-width="1.7"/>
<path d="M377.5,49.6 Q411.3,37.0 446.6,39.4" fill="none" stroke="#f98c7f" stroke-opacity="0.66" stroke-width="2.4"/>
<path d="M377.5,50.3 Q411.8,40.6 446.9,40.6" fill="none" stroke="#f8887b" stroke-opacity="0.72" stroke-width="2.8"/>
<path d="M377.2,52.3 Q412.6,43.8 447.0,42.3" fill="none" stroke="#f98c80" stroke-opacity="0.71" stroke-width="2.5"/>
<polygon points="419.9,42.0 408.6,47.8 407.5,39.2" fill="#f8887b" fill-opacity="0.84"/>
<path d="M377.4,56.2 Q410.6,51.8 447.2,44.2" fill="none" stroke="#faa196" stroke-opacity="0.69" stroke-width="2.0"/>
<path d="M377.2,57.2 Q412.0,57.6 446.8,46.1" fill="none" stroke="#f99488" stroke-opacity="0.58" stroke-width="2.4"/>
<path d="M377.4,58.9 Q412.5,60.8 447.2,48.2" fill="none" stroke="#f8897c" stroke-opacity="0.55" stroke-width="1.7"/>
<polygon points="404.1,55.8 415.4,49.8 416.6,58.3" fill="#f99488" fill-opacity="0.70"/>
<polygon points="415.0,56.8 425.9,50.3 427.6,58.7" fill="#f8897c" fill-opacity="0.67"/>
<path d="M370.3,61.2 Q356.6,88.0 346.5,113.2" fill="none" stroke="#faa89e" stroke-opacity="0.52" stroke-width="2.7"/>
<path d="M368.3,59.8 Q351.1,85.9 345.6,112.5" fill="none" stroke="#fa9f94" stroke-opacity="0.56" stroke-width="1.7"/>
<path d="M366.8,60.2 Q343.6,82.3 344.3,111.1" fill="none" stroke="#faa69c" stroke-opacity="0.73" stroke-width="2.6"/>
<polygon points="357.1,79.3 356.0,92.0 348.2,88.4" fill="#fa9f94" fill-opacity="0.68"/>
<path d="M377.8,62.1 Q407.4,78.7 422.5,110.2" fill="none" stroke="#faaba2" stroke-opacity="0.54" stroke-width="1.3"/>
<path d="M377.1,63.5 Q402.7,82.9 421.7,110.5" fill="none" stroke="#f99185" stroke-opacity="0.76" stroke-width="2.5"/>
<path d="M375.2,64.0 Q398.0,87.7 420.4,112.0" fill="none" stroke="#f99185" stroke-opacity="0.63" stroke-width="2.8"/>
<polygon points="388.5,72.8 400.3,77.8 394.4,84.1" fill="#f99185" fill-opacity="0.88"/>
<path d="M450.9,49.0 Q438.5,81.4 429.0,111.6" fill="none" stroke="#f99489" stroke-opacity="0.54" stroke-width="1.5"/>
<path d="M449.2,47.8 Q433.0,80.0 427.0,110.3" fill="none" stroke="#faaaa1" stroke-opacity="0.53" stroke-width="2.1"/>
<path d="M448.0,46.7 Q424.7,77.1 426.1,110.4" fill="none" stroke="#faa096" stroke-opacity="0.52" stroke-width="2.7"/>
<polygon points="440.8,65.9 440.3,78.7 432.4,75.5" fill="#faaaa1" fill-opacity="0.65"/>
<path d="M429.3,113.9 Q465.0,98.2 499.4,106.7" fill="none" stroke="#fbb8b0" stroke-opacity="0.44" stroke-width="2.0"/>
<path d="M430.2,115.1 Q464.6,103.3 500.6,109.8" fill="none" stroke="#fee6e3" stroke-opacity="0.61" stroke-width="2.4"/>
<path d="M430.6,116.5 Q465.7,112.1 499.7,110.5" fill="none" stroke="#fbb8b0" stroke-opacity="0.61" stroke-width="2.5"/>
<polygon points="473.0,107.4 461.2,112.3 460.8,103.7" fill="#fee6e3" fill-opacity="0.73"/>
<path d="M510.9,110.2 Q521.4,97.7 537.5,99.4" fill="none" stroke="#faa297" stroke-opacity="0.74" stroke-width="1.8"/>
<path d="M511.3,110.8 Q523.8,103.6 538.4,100.2" fill="none" stroke="#faaca3" stroke-opacity="0.76" stroke-width="2.5"/>
<path d="M511.4,111.9 Q526.2,109.1 538.8,99.8" fill="none" stroke="#f9968a" stroke-opacity="0.53" stroke-width="2.8"/>
<path d="M513.3,112.9 Q528.2,114.6 539.3,101.3" fill="none" stroke="#f8887b" stroke-opacity="0.69" stroke-width="2.7"/>
<path d="M516.1,117.0 Q522.5,126.4 538.9,145.2" fill="none" stroke="#fa9e94" stroke-opacity="0.66" stroke-width="2.5"/>
<path d="M514.6,118.2 Q516.9,130.7 536.8,147.5" fill="none" stroke="#f99185" stroke-opacity="0.60" stroke-width="1.5"/>
<path d="M504.8,116.4 Q489.3,149.3 477.9,178.6" fill="none" stroke="#fccbc5" stroke-opacity="0.49" stroke-width="2.5"/>
<path d="M503.0,115.4 Q485.2,147.7 477.1,178.3" fill="none" stroke="#faa399" stroke-opacity="0.56" stroke-width="2.5"/>
<path d="M502.0,115.7 Q478.0,144.2 476.1,178.1" fill="none" stroke="#fcd1cc" stroke-opacity="0.57" stroke-width="1.5"/>
<polygon points="493.6,133.7 492.5,146.4 484.7,142.8" fill="#faa399" fill-opacity="0.68"/>
<path d="M421.4,123.3 Q418.4,152.5 397.7,178.5" fill="none" stroke="#faaca3" stroke-opacity="0.43" stroke-width="2.6"/>
<path d="M420.0,121.6 Q412.6,150.3 395.9,178.4" fill="none" stroke="#fbbfb7" stroke-opacity="0.56" stroke-width="2.2"/>
<path d="M418.1,121.5 Q406.0,147.1 395.0,177.8" fill="none" stroke="#fbb2a9" stroke-opacity="0.40" stroke-width="2.6"/>
<polygon points="413.2,143.1 412.6,155.9 404.7,152.6" fill="#fbbfb7" fill-opacity="0.68"/>
<path d="M396.4,181.0 Q432.2,168.5 465.7,182.4" fill="none" stroke="#faaaa1" stroke-opacity="0.59" stroke-width="2.3"/>
<path d="M397.1,182.6 Q431.3,174.3 466.4,184.5" fill="none" stroke="#fcc6c0" stroke-opacity="0.58" stroke-width="1.8"/>
<path d="M396.9,183.6 Q431.0,181.1 466.6,186.1" fill="none" stroke="#fbb5ad" stroke-opacity="0.63" stroke-width="2.1"/>
<polygon points="449.9,180.6 437.4,183.3 438.6,174.8" fill="#fcc6c0" fill-opacity="0.70"/>
<path d="M396.5,185.5 Q431.7,178.9 465.9,184.2" fill="none" stroke="#f8887b" stroke-opacity="0.69" stroke-width="1.7"/>
<path d="M397.7,188.1 Q430.8,183.9 466.8,186.8" fill="none" stroke="#f9978b" stroke-opacity="0.77" stroke-width="2.2"/>
<polygon points="453.3,182.6 441.0,186.1 441.6,177.5" fill="#f8887b" fill-opacity="0.81"/>
<path d="M477.3,181.4 Q507.1,162.6 537.3,176.1" fill="none" stroke="#fdd7d2" stroke-opacity="0.46" stroke-width="2.1"/>
<path d="M477.8,183.3 Q507.1,168.4 537.9,177.3" fill="none" stroke="#fcc4be" stroke-opacity="0.54" stroke-width="1.5"/>
<path d="M476.4,184.8 Q508.2,172.1 538.0,180.2" fill="none" stroke="#fde0dd" stroke-opacity="0.43" stroke-width="2.6"/>
<polygon points="503.0,174.8 514.5,169.3 515.4,177.9" fill="#fcc4be" fill-opacity="0.66"/>
<path d="M477.0,185.9 Q508.1,197.5 537.6,190.4" fill="none" stroke="#fdd7d3" stroke-opacity="0.46" stroke-width="1.4"/>
<path d="M476.6,187.3 Q507.7,202.4 537.8,192.5" fill="none" stroke="#fcc8c2" stroke-opacity="0.65" stroke-width="2.4"/>
<path d="M477.6,189.0 Q507.1,208.3 537.3,193.4" fill="none" stroke="#faaba2" stroke-opacity="0.60" stroke-width="2.3"/>
<polygon points="524.2,195.9 512.5,201.1 511.9,192.5" fill="#fcc8c2" fill-opacity="0.77"/>
<path d="M387.0,192.6 Q370.0,204.5 349.2,220.0" fill="none" stroke="#fbb7b0" stroke-opacity="0.70" stroke-width="2.6"/>
<path d="M385.5,190.6 Q364.0,195.0 346.5,218.1" fill="none" stroke="#faada4" stroke-opacity="0.59" stroke-width="2.1"/>
<polygon points="351.7,218.1 358.8,207.5 363.9,214.5" fill="#fbb7b0" fill-opacity="0.82"/>
<path d="M398.2,192.9 Q412.4,217.3 420.8,246.7" fill="none" stroke="#fcc0b9" stroke-opacity="0.49" stroke-width="2.2"/>
<path d="M394.0,193.8 Q403.2,222.1 418.1,246.9" fill="none" stroke="#faa79e" stroke-opacity="0.46" stroke-width="2.3"/>
<polygon points="410.5,217.3 401.6,208.1 409.5,204.6" fill="#fcc0b9" fill-opacity="0.61"/>
<path d="M469.3,191.4 Q454.5,222.2 432.0,249.5" fill="none" stroke="#fdd5d1" stroke-opacity="0.40" stroke-width="2.0"/>
<path d="M468.2,189.8 Q448.4,218.5 430.3,248.7" fill="none" stroke="#fbb4ac" stroke-opacity="0.64" stroke-width="2.4"/>
<path d="M466.1,189.7 Q443.3,214.7 429.4,247.7" fill="none" stroke="#fccdc7" stroke-opacity="0.54" stroke-width="2.1"/>
<polygon points="457.0,206.3 454.0,218.7 446.8,214.0" fill="#fbb4ac" fill-opacity="0.76"/>
<path d="M475.8,189.8 Q502.6,217.8 503.9,253.0" fill="none" stroke="#fee7e5" stroke-opacity="0.43" stroke-width="2.6"/>
<path d="M474.4,189.3 Q496.4,221.4 502.7,253.2" fill="none" stroke="#fee9e7" stroke-opacity="0.44" stroke-width="2.1"/>
<path d="M474.3,190.1 Q487.6,224.5 502.4,254.2" fill="none" stroke="#fddfdb" stroke-opacity="0.53" stroke-width="1.3"/>
<polygon points="496.8,231.9 488.4,222.3 496.4,219.1" fill="#fee9e7" fill-opacity="0.56"/>
<path d="M346.7,244.3 Q383.5,263.7 417.6,252.0" fill="none" stroke="#f98e82" stroke-opacity="0.62" stroke-width="2.3"/>
<path d="M346.3,245.8 Q382.4,270.6 417.7,256.1" fill="none" stroke="#faa79d" stroke-opacity="0.69" stroke-width="2.9"/>
<polygon points="386.7,261.4 374.2,263.9 375.4,255.4" fill="#faa79d" fill-opacity="0.81"/>
<path d="M431.2,250.8 Q465.6,238.8 500.6,256.0" fill="none" stroke="#faada4" stroke-opacity="0.41" stroke-width="1.5"/>
<path d="M431.5,252.1 Q464.9,245.7 500.4,257.4" fill="none" stroke="#fdd4d0" stroke-opacity="0.35" stroke-width="1.6"/>
<path d="M431.7,253.6 Q464.8,249.8 499.9,257.9" fill="none" stroke="#fee4e2" stroke-opacity="0.38" stroke-width="1.8"/>
<polygon points="454.1,249.8 466.2,245.7 466.0,254.3" fill="#fdd4d0" fill-opacity="0.47"/>
<path d="M430.9,255.2 Q466.0,264.4 500.0,260.0" fill="none" stroke="#fcc7c1" stroke-opacity="0.33" stroke-width="1.2"/>
<path d="M430.4,255.7 Q465.5,268.5 500.7,262.2" fill="none" stroke="#fdd5d0" stroke-opacity="0.48" stroke-width="2.6"/>
<path d="M430.9,258.2 Q465.2,274.1 499.6,263.0" fill="none" stroke="#fcc9c3" stroke-opacity="0.47" stroke-width="2.2"/>
<polygon points="480.6,264.3 468.5,268.4 468.6,259.8" fill="#fdd5d0" fill-opacity="0.60"/>
<path d="M512.9,256.5 Q526.1,252.8 538.3,262.0" fill="none" stroke="#fcc7c1" stroke-opacity="0.59" stroke-width="1.7"/>
<path d="M511.5,258.2 Q525.4,260.7 537.7,262.9" fill="none" stroke="#fcc7c0" stroke-opacity="0.48" stroke-width="1.4"/>
<path d="M511.2,259.9 Q523.8,266.2 538.5,264.2" fill="none" stroke="#faa298" stroke-opacity="0.52" stroke-width="1.9"/>
<path d="M343.7,261.9 Q358.1,282.5 370.0,303.4" fill="none" stroke="#f88678" stroke-opacity="0.56" stroke-width="1.7"/>
<path d="M341.5,264.6 Q354.1,284.8 367.7,304.1" fill="none" stroke="#f8887b" stroke-opacity="0.68" stroke-width="2.1"/>
<polygon points="361.2,288.5 351.1,280.6 358.4,276.0" fill="#f88678" fill-opacity="0.68"/>
<path d="M421.5,261.8 Q402.6,288.2 377.8,310.8" fill="none" stroke="#fee7e4" stroke-opacity="0.37" stroke-width="2.4"/>
<path d="M419.4,259.6 Q398.7,285.4 377.8,310.1" fill="none" stroke="#fee8e5" stroke-opacity="0.59" stroke-width="2.4"/>
<path d="M418.4,259.3 Q393.4,280.1 375.7,309.1" fill="none" stroke="#fbbbb4" stroke-opacity="0.56" stroke-width="1.3"/>
<polygon points="389.5,296.2 393.9,284.2 400.5,289.7" fill="#fee8e5" fill-opacity="0.71"/>
<path d="M428.3,260.7 Q448.2,288.3 452.0,319.4" fill="none" stroke="#fbb5ad" stroke-opacity="0.39" stroke-width="2.0"/>
<path d="M427.3,260.9 Q442.0,290.8 451.1,320.2" fill="none" stroke="#fdd8d3" stroke-opacity="0.56" stroke-width="2.0"/>
<path d="M426.1,262.0 Q435.4,293.5 449.6,320.1" fill="none" stroke="#fcc0b9" stroke-opacity="0.44" stroke-width="2.0"/>
<polygon points="437.7,283.5 446.2,293.0 438.3,296.3" fill="#fdd8d3" fill-opacity="0.68"/>
<polygon points="444.7,310.6 435.8,301.5 443.6,297.9" fill="#fcc0b9" fill-opacity="0.56"/>
<path d="M377.9,316.0 Q413.8,324.7 448.5,325.0" fill="none" stroke="#fde3df" stroke-opacity="0.37" stroke-width="1.3"/>
<path d="M377.3,317.5 Q413.4,329.8 448.1,327.5" fill="none" stroke="#fbbdb5" stroke-opacity="0.45" stroke-width="1.8"/>
<path d="M377.9,319.2 Q412.0,336.9 448.2,328.5" fill="none" stroke="#fdd7d2" stroke-opacity="0.33" stroke-width="2.6"/>
<polygon points="424.6,327.5 412.2,330.5 413.1,322.0" fill="#fbbdb5" fill-opacity="0.57"/>
<path d="M134.9,108.9 Q146.1,130.1 152.3,148.6" fill="none" stroke="#8fcdf7" stroke-opacity="0.54" stroke-width="2.0"/>
<path d="M134.1,109.6 Q142.8,130.9 151.5,149.9" fill="none" stroke="#afdcf9" stroke-opacity="0.77" stroke-width="2.1"/>
<path d="M132.1,110.2 Q141.2,131.6 150.3,150.6" fill="none" stroke="#94d0f7" stroke-opacity="0.62" stroke-width="1.4"/>
<polygon points="141.9,128.2 150.6,137.5 142.7,140.9" fill="#afdcf9" fill-opacity="0.89"/>
<polygon points="137.5,122.8 146.3,132.0 138.5,135.5" fill="#94d0f7" fill-opacity="0.74"/>
<path d="M138.8,111.4 Q147.8,119.4 154.8,129.2" fill="none" stroke="#90cef7" stroke-opacity="0.66" stroke-width="1.7"/>
<path d="M136.9,112.8 Q144.4,122.5 152.6,131.1" fill="none" stroke="#8fcdf7" stroke-opacity="0.56" stroke-width="1.7"/>
<polygon points="145.9,118.3 157.0,124.5 150.5,130.2" fill="#90cef7" fill-opacity="0.78"/>
<path d="M188.2,152.5 Q216.6,132.6 245.0,141.7" fill="none" stroke="#85c9f6" stroke-opacity="0.78" stroke-width="2.7"/>
<path d="M188.9,153.0 Q216.9,137.3 245.9,142.8" fill="none" stroke="#afdcf9" stroke-opacity="0.65" stroke-width="1.5"/>
<path d="M188.8,154.6 Q217.9,142.4 246.5,143.6" fill="none" stroke="#b1dcf9" stroke-opacity="0.55" stroke-width="2.7"/>
<path d="M188.9,155.1 Q218.7,148.3 247.1,144.1" fill="none" stroke="#8acbf6" stroke-opacity="0.79" stroke-width="3.1"/>
<polygon points="221.6,141.8 210.5,148.1 209.0,139.7" fill="#afdcf9" fill-opacity="0.77"/>
<polygon points="236.6,143.5 225.0,148.7 224.3,140.1" fill="#b1dcf9" fill-opacity="0.67"/>
<path d="M190.1,212.3 Q222.1,217.3 250.0,224.1" fill="none" stroke="#83c8f6" stroke-opacity="0.56" stroke-width="2.8"/>
<path d="M190.6,213.9 Q221.0,219.5 250.1,225.9" fill="none" stroke="#8dccf7" stroke-opacity="0.76" stroke-width="3.1"/>
<path d="M190.5,213.7 Q219.3,227.1 250.7,225.4" fill="none" stroke="#a1d5f8" stroke-opacity="0.89" stroke-width="3.1"/>
<path d="M190.1,214.1 Q219.4,229.8 249.3,227.4" fill="none" stroke="#8fcdf7" stroke-opacity="0.90" stroke-width="2.7"/>
<path d="M190.0,215.2 Q217.8,236.6 249.7,227.8" fill="none" stroke="#7ac4f5" stroke-opacity="0.81" stroke-width="2.4"/>
<polygon points="222.1,220.0 209.5,221.9 211.2,213.4" fill="#8dccf7" fill-opacity="0.88"/>
<polygon points="235.9,227.7 223.5,230.7 224.4,222.2" fill="#8fcdf7" fill-opacity="1.00"/>
<path d="M131.1,261.0 Q137.7,235.3 149.5,212.2" fill="none" stroke="#b4def9" stroke-opacity="0.73" stroke-width="1.5"/>
<path d="M132.3,262.7 Q141.7,236.2 151.6,212.6" fill="none" stroke="#a4d6f8" stroke-opacity="0.54" stroke-width="1.3"/>
<path d="M134.5,261.8 Q146.6,238.9 152.7,213.0" fill="none" stroke="#91cef7" stroke-opacity="0.69" stroke-width="2.0"/>
<polygon points="150.4,215.6 149.8,228.3 141.9,225.1" fill="#a4d6f8" fill-opacity="0.66"/>
<polygon points="139.5,251.9 140.3,239.2 148.2,242.6" fill="#91cef7" fill-opacity="0.81"/>
<path d="M104.0,184.2 Q119.5,167.8 139.2,160.9" fill="none" stroke="#8cccf6" stroke-opacity="0.64" stroke-width="1.5"/>
<path d="M104.9,186.6 Q125.5,177.0 141.0,163.1" fill="none" stroke="#96d0f7" stroke-opacity="0.75" stroke-width="1.8"/>
<polygon points="120.2,170.2 128.3,160.4 132.7,167.8" fill="#8cccf6" fill-opacity="0.76"/>
<path d="M104.5,188.5 Q127.0,195.0 145.8,205.2" fill="none" stroke="#7ac4f5" stroke-opacity="0.80" stroke-width="2.5"/>
<path d="M104.8,190.4 Q123.8,199.5 146.4,207.6" fill="none" stroke="#97d1f7" stroke-opacity="0.55" stroke-width="2.1"/>
<path d="M104.0,192.1 Q123.0,202.9 144.7,209.1" fill="none" stroke="#7bc4f5" stroke-opacity="0.85" stroke-width="1.9"/>
<polygon points="137.4,204.3 124.6,203.9 127.8,195.9" fill="#97d1f7" fill-opacity="0.67"/>
<path d="M228.3,243.1 Q219.1,264.6 209.8,285.7" fill="none" stroke="#9ed4f8" stroke-opacity="0.72" stroke-width="1.5"/>
<path d="M224.8,242.4 Q217.9,264.3 208.3,283.8" fill="none" stroke="#9bd3f8" stroke-opacity="0.76" stroke-width="2.3"/>
<polygon points="212.6,279.2 213.5,266.5 221.4,270.0" fill="#9ed4f8" fill-opacity="0.84"/>
<path d="M258.1,150.1 Q276.4,154.3 288.8,167.0" fill="none" stroke="#a2d6f8" stroke-opacity="0.58" stroke-width="1.4"/>
<path d="M256.5,152.9 Q271.1,165.4 286.7,168.7" fill="none" stroke="#a8d8f9" stroke-opacity="0.54" stroke-width="2.3"/>
<polygon points="284.5,162.8 272.2,159.3 277.2,152.3" fill="#a2d6f8" fill-opacity="0.70"/>
<path d="M259.3,144.2 Q280.8,138.6 299.4,145.5" fill="none" stroke="#9fd4f8" stroke-opacity="0.50" stroke-width="1.3"/>
<path d="M260.1,147.6 Q279.8,147.3 300.1,148.2" fill="none" stroke="#acdaf9" stroke-opacity="0.60" stroke-width="1.4"/>
<path d="M331.0,136.7 Q310.7,143.0 290.9,146.2" fill="none" stroke="#98d1f7" stroke-opacity="0.58" stroke-width="2.4"/>
<path d="M330.5,136.2 Q310.3,137.0 289.3,143.6" fill="none" stroke="#aedbf9" stroke-opacity="0.73" stroke-width="1.7"/>
<path d="M329.3,135.3 Q308.7,127.7 289.4,141.9" fill="none" stroke="#9ad2f8" stroke-opacity="0.62" stroke-width="2.0"/>
<polygon points="307.7,138.8 318.8,132.6 320.3,141.1" fill="#aedbf9" fill-opacity="0.85"/>
<path d="M338.4,137.0 Q330.4,156.0 312.9,168.9" fill="none" stroke="#b3ddf9" stroke-opacity="0.66" stroke-width="2.2"/>
<path d="M336.1,135.1 Q319.2,146.6 310.0,167.2" fill="none" stroke="#7ec6f5" stroke-opacity="0.55" stroke-width="2.0"/>
<polygon points="322.4,160.9 327.2,149.1 333.6,154.9" fill="#b3ddf9" fill-opacity="0.78"/>
<path d="M333.8,146.0 Q332.3,165.1 327.8,184.9" fill="none" stroke="#9bd3f8" stroke-opacity="0.56" stroke-width="1.3"/>
<path d="M329.9,144.5 Q325.3,164.4 325.2,185.2" fill="none" stroke="#a7d8f8" stroke-opacity="0.63" stroke-width="2.2"/>
<path d="M281.3,158.3 Q289.1,150.3 299.3,147.8" fill="none" stroke="#83c8f6" stroke-opacity="0.67" stroke-width="1.6"/>
<path d="M282.0,160.3 Q292.9,157.0 301.3,150.8" fill="none" stroke="#afdcf9" stroke-opacity="0.57" stroke-width="2.1"/>
<polygon points="295.5,148.6 286.8,157.9 282.9,150.2" fill="#83c8f6" fill-opacity="0.79"/>
<path d="M259.9,220.5 Q274.8,202.6 297.3,208.0" fill="none" stroke="#8fcdf7" stroke-opacity="0.62" stroke-width="2.3"/>
<path d="M260.4,220.7 Q277.3,210.0 297.4,210.2" fill="none" stroke="#9dd4f8" stroke-opacity="0.70" stroke-width="2.1"/>
<path d="M259.6,222.1 Q280.0,216.2 297.3,210.5" fill="none" stroke="#78c3f5" stroke-opacity="0.71" stroke-width="2.0"/>
<path d="M260.9,223.3 Q281.2,219.9 296.8,211.7" fill="none" stroke="#7ec6f5" stroke-opacity="0.59" stroke-width="3.0"/>
<polygon points="284.3,211.1 273.7,218.2 271.6,209.9" fill="#9dd4f8" fill-opacity="0.82"/>
<polygon points="282.5,217.9 272.3,225.6 269.8,217.4" fill="#7ec6f5" fill-opacity="0.71"/>
<path d="M286.1,244.7 Q304.7,233.7 323.9,233.1" fill="none" stroke="#88caf6" stroke-opacity="0.79" stroke-width="1.9"/>
<path d="M287.5,246.7 Q305.4,239.7 325.6,233.7" fill="none" stroke="#8acbf6" stroke-opacity="0.71" stroke-width="2.3"/>
<path d="M288.2,247.7 Q307.8,246.0 324.8,234.9" fill="none" stroke="#a5d7f8" stroke-opacity="0.60" stroke-width="2.4"/>
<polygon points="308.3,239.1 298.4,247.1 295.6,239.0" fill="#8acbf6" fill-opacity="0.83"/>
<polygon points="295.4,246.9 306.0,239.9 308.0,248.3" fill="#a5d7f8" fill-opacity="0.72"/>
<path d="M323.3,198.3 Q336.2,215.2 334.7,237.7" fill="none" stroke="#7fc6f5" stroke-opacity="0.69" stroke-width="1.5"/>
<path d="M321.7,197.6 Q326.6,218.3 334.2,238.6" fill="none" stroke="#9ad2f7" stroke-opacity="0.86" stroke-width="2.5"/>
<path d="M320.4,198.3 Q322.7,219.7 332.4,238.4" fill="none" stroke="#99d2f7" stroke-opacity="0.66" stroke-width="2.8"/>
<polygon points="329.3,224.6 321.6,214.4 329.8,211.8" fill="#9ad2f7" fill-opacity="0.98"/>
<polygon points="335.0,231.3 329.5,219.8 338.1,218.9" fill="#7fc6f5" fill-opacity="0.81"/>
<path d="M119.6,203.5 Q131.0,210.5 134.9,222.9" fill="none" stroke="#a8d8f9" stroke-opacity="0.76" stroke-width="1.4"/>
<path d="M117.1,205.3 Q122.5,217.6 133.6,224.6" fill="none" stroke="#a1d5f8" stroke-opacity="0.75" stroke-width="1.9"/>
<path d="M279.4,238.0 Q288.4,230.0 298.9,224.9" fill="none" stroke="#87caf6" stroke-opacity="0.53" stroke-width="1.6"/>
<path d="M281.3,240.7 Q292.8,236.3 301.5,227.3" fill="none" stroke="#90cef7" stroke-opacity="0.58" stroke-width="1.5"/>
<polygon points="294.6,227.0 286.7,237.1 282.1,229.8" fill="#87caf6" fill-opacity="0.65"/>
</g>
<defs><clipPath id="clipA"><rect x="0" y="0" width="545" height="352"/></clipPath></defs><g clip-path="url(#clipA)">
<circle cx="34.5" cy="11" r="1.45" fill="#8b0000"/>
<circle cx="32.4" cy="16.6" r="1.45" fill="#8b0000"/>
<circle cx="37.7" cy="16.3" r="1.45" fill="#8b0000"/>
<circle cx="110.4" cy="3.5" r="1.45" fill="#8b0000"/>
<circle cx="117.7" cy="3.9" r="1.45" fill="#8b0000"/>
<circle cx="38.9" cy="59.6" r="1.45" fill="#8b0000"/>
<circle cx="46.1" cy="59.6" r="1.45" fill="#8b0000"/>
<circle cx="43.4" cy="66.9" r="1.45" fill="#8b0000"/>
<circle cx="85" cy="76.7" r="1.45" fill="#8b0000"/>
<circle cx="89.3" cy="82" r="1.45" fill="#8b0000"/>
<circle cx="85" cy="84.8" r="1.45" fill="#8b0000"/>
<circle cx="117.9" cy="47.1" r="1.45" fill="#8b0000"/>
<circle cx="120.8" cy="48.4" r="1.45" fill="#8b0000"/>
<circle cx="124" cy="46.6" r="1.45" fill="#8b0000"/>
<circle cx="164.7" cy="64.3" r="1.45" fill="#8b0000"/>
<circle cx="167.3" cy="65.7" r="1.45" fill="#8b0000"/>
<circle cx="161.7" cy="68.3" r="1.45" fill="#8b0000"/>
<circle cx="203.7" cy="31" r="1.45" fill="#8b0000"/>
<circle cx="197.4" cy="34.2" r="1.45" fill="#8b0000"/>
<circle cx="201.6" cy="37.7" r="1.45" fill="#8b0000"/>
<circle cx="278.5" cy="19.6" r="1.45" fill="#8b0000"/>
<circle cx="286.4" cy="18.2" r="1.45" fill="#8b0000"/>
<circle cx="283.1" cy="25.9" r="1.45" fill="#8b0000"/>
<circle cx="245.8" cy="47.8" r="1.45" fill="#8b0000"/>
<circle cx="242.6" cy="51.3" r="1.45" fill="#8b0000"/>
<circle cx="249.6" cy="50.5" r="1.45" fill="#8b0000"/>
<circle cx="325.8" cy="34.5" r="1.45" fill="#8b0000"/>
<circle cx="323.7" cy="39.9" r="1.45" fill="#8b0000"/>
<circle cx="329.9" cy="40.3" r="1.45" fill="#8b0000"/>
<circle cx="330.2" cy="84.6" r="1.45" fill="#8b0000"/>
<circle cx="334.6" cy="82.3" r="1.45" fill="#8b0000"/>
<circle cx="335.5" cy="85" r="1.45" fill="#8b0000"/>
<circle cx="250" cy="92" r="1.45" fill="#8b0000"/>
<circle cx="254.4" cy="95.1" r="1.45" fill="#8b0000"/>
<circle cx="249.1" cy="99" r="1.45" fill="#8b0000"/>
<circle cx="360.9" cy="7" r="1.45" fill="#8b0000"/>
<circle cx="367.4" cy="7" r="1.45" fill="#8b0000"/>
<circle cx="363.9" cy="13.1" r="1.45" fill="#8b0000"/>
<circle cx="445.8" cy="0.9" r="1.45" fill="#8b0000"/>
<circle cx="407" cy="22.4" r="1.45" fill="#8b0000"/>
<circle cx="406.1" cy="26.8" r="1.45" fill="#8b0000"/>
<circle cx="413.4" cy="25.9" r="1.45" fill="#8b0000"/>
<circle cx="412" cy="69.6" r="1.45" fill="#8b0000"/>
<circle cx="419.6" cy="70.1" r="1.45" fill="#8b0000"/>
<circle cx="419.6" cy="72.7" r="1.45" fill="#8b0000"/>
<circle cx="460.7" cy="85.5" r="1.45" fill="#8b0000"/>
<circle cx="457.8" cy="92.9" r="1.45" fill="#8b0000"/>
<circle cx="466" cy="91.6" r="1.45" fill="#8b0000"/>
<circle cx="380.3" cy="95.3" r="1.45" fill="#8b0000"/>
<circle cx="381.2" cy="102.9" r="1.45" fill="#8b0000"/>
<circle cx="488.9" cy="11.2" r="1.45" fill="#8b0000"/>
<circle cx="486.7" cy="16.7" r="1.45" fill="#8b0000"/>
<circle cx="492.3" cy="16.4" r="1.45" fill="#8b0000"/>
<circle cx="493.2" cy="59.5" r="1.45" fill="#8b0000"/>
<circle cx="500.5" cy="59.5" r="1.45" fill="#8b0000"/>
<circle cx="497.8" cy="67" r="1.45" fill="#8b0000"/>
<circle cx="11.6" cy="91.6" r="1.45" fill="#8b0000"/>
<circle cx="10.8" cy="135" r="1.45" fill="#8b0000"/>
<circle cx="16.8" cy="136.4" r="1.45" fill="#8b0000"/>
<circle cx="14.4" cy="141.7" r="1.45" fill="#8b0000"/>
<circle cx="98.1" cy="123.6" r="1.45" fill="#8b0000"/>
<circle cx="91" cy="130.1" r="1.45" fill="#8b0000"/>
<circle cx="94" cy="132" r="1.45" fill="#8b0000"/>
<circle cx="56" cy="155.7" r="1.45" fill="#8b0000"/>
<circle cx="54.2" cy="162" r="1.45" fill="#8b0000"/>
<circle cx="64.6" cy="165" r="1.45" fill="#8b0000"/>
<circle cx="64.6" cy="204.8" r="1.45" fill="#8b0000"/>
<circle cx="54.6" cy="208.3" r="1.45" fill="#8b0000"/>
<circle cx="55.6" cy="214.2" r="1.45" fill="#8b0000"/>
<circle cx="168.8" cy="110.4" r="1.45" fill="#8b0000"/>
<circle cx="173.4" cy="107.8" r="1.45" fill="#8b0000"/>
<circle cx="174.1" cy="118.7" r="1.45" fill="#8b0000"/>
<circle cx="216.1" cy="120.6" r="1.45" fill="#8b0000"/>
<circle cx="221.2" cy="124.2" r="1.45" fill="#8b0000"/>
<circle cx="212.4" cy="128.9" r="1.45" fill="#8b0000"/>
<circle cx="136.5" cy="142.7" r="1.45" fill="#8b0000"/>
<circle cx="138.3" cy="156.1" r="1.45" fill="#8b0000"/>
<circle cx="147.1" cy="177.8" r="1.45" fill="#8b0000"/>
<circle cx="147.7" cy="192.2" r="1.45" fill="#8b0000"/>
<circle cx="206.5" cy="173.8" r="1.45" fill="#8b0000"/>
<circle cx="225.6" cy="177.8" r="1.45" fill="#8b0000"/>
<circle cx="224.2" cy="191.2" r="1.45" fill="#8b0000"/>
<circle cx="206.9" cy="195.9" r="1.45" fill="#8b0000"/>
<circle cx="264.5" cy="175" r="1.45" fill="#8b0000"/>
<circle cx="264" cy="194.5" r="1.45" fill="#8b0000"/>
<circle cx="296.7" cy="109.4" r="1.45" fill="#8b0000"/>
<circle cx="297.8" cy="116.3" r="1.45" fill="#8b0000"/>
<circle cx="295.7" cy="120.6" r="1.45" fill="#8b0000"/>
<circle cx="391.1" cy="138.4" r="1.45" fill="#8b0000"/>
<circle cx="380.4" cy="145.5" r="1.45" fill="#8b0000"/>
<circle cx="385.3" cy="144.9" r="1.45" fill="#8b0000"/>
<circle cx="304.9" cy="153.3" r="1.45" fill="#8b0000"/>
<circle cx="290.5" cy="160" r="1.45" fill="#8b0000"/>
<circle cx="350.3" cy="160" r="1.45" fill="#8b0000"/>
<circle cx="353.4" cy="165" r="1.45" fill="#8b0000"/>
<circle cx="340.2" cy="186.2" r="1.45" fill="#8b0000"/>
<circle cx="340.8" cy="192.6" r="1.45" fill="#8b0000"/>
<circle cx="352.6" cy="206.4" r="1.45" fill="#8b0000"/>
<circle cx="290.5" cy="209.3" r="1.45" fill="#8b0000"/>
<circle cx="465.4" cy="134.8" r="1.45" fill="#8b0000"/>
<circle cx="470.8" cy="136.2" r="1.45" fill="#8b0000"/>
<circle cx="468.8" cy="141.4" r="1.45" fill="#8b0000"/>
<circle cx="429.1" cy="160" r="1.45" fill="#8b0000"/>
<circle cx="427.8" cy="162.9" r="1.45" fill="#8b0000"/>
<circle cx="433.7" cy="162.9" r="1.45" fill="#8b0000"/>
<circle cx="510.4" cy="155.6" r="1.45" fill="#8b0000"/>
<circle cx="508.4" cy="161.8" r="1.45" fill="#8b0000"/>
<circle cx="519" cy="165.2" r="1.45" fill="#8b0000"/>
<circle cx="426.9" cy="206.6" r="1.45" fill="#8b0000"/>
<circle cx="433.7" cy="205.9" r="1.45" fill="#8b0000"/>
<circle cx="428.7" cy="210.4" r="1.45" fill="#8b0000"/>
<circle cx="509" cy="208.1" r="1.45" fill="#8b0000"/>
<circle cx="519" cy="204.5" r="1.45" fill="#8b0000"/>
<circle cx="510" cy="214" r="1.45" fill="#8b0000"/>
<circle cx="14.8" cy="228.6" r="1.45" fill="#8b0000"/>
<circle cx="11.8" cy="234.9" r="1.45" fill="#8b0000"/>
<circle cx="16.8" cy="233.9" r="1.45" fill="#8b0000"/>
<circle cx="94.2" cy="238" r="1.45" fill="#8b0000"/>
<circle cx="91.6" cy="239.8" r="1.45" fill="#8b0000"/>
<circle cx="99.1" cy="245.7" r="1.45" fill="#8b0000"/>
<circle cx="11.8" cy="278.4" r="1.45" fill="#8b0000"/>
<circle cx="85.3" cy="284.7" r="1.45" fill="#8b0000"/>
<circle cx="89.7" cy="288.1" r="1.45" fill="#8b0000"/>
<circle cx="85.7" cy="292.6" r="1.45" fill="#8b0000"/>
<circle cx="43.9" cy="302.9" r="1.45" fill="#8b0000"/>
<circle cx="39.4" cy="310.4" r="1.45" fill="#8b0000"/>
<circle cx="46.3" cy="310.4" r="1.45" fill="#8b0000"/>
<circle cx="118.2" cy="322.6" r="1.45" fill="#8b0000"/>
<circle cx="121.8" cy="320.8" r="1.45" fill="#8b0000"/>
<circle cx="125.1" cy="322.6" r="1.45" fill="#8b0000"/>
<circle cx="138.3" cy="213.4" r="1.45" fill="#8b0000"/>
<circle cx="136.9" cy="227.6" r="1.45" fill="#8b0000"/>
<circle cx="175.3" cy="251.6" r="1.45" fill="#8b0000"/>
<circle cx="169.8" cy="259.1" r="1.45" fill="#8b0000"/>
<circle cx="173.8" cy="262.3" r="1.45" fill="#8b0000"/>
<circle cx="213.2" cy="241.4" r="1.45" fill="#8b0000"/>
<circle cx="218.1" cy="248.1" r="1.45" fill="#8b0000"/>
<circle cx="221.8" cy="245.7" r="1.45" fill="#8b0000"/>
<circle cx="249.8" cy="271.3" r="1.45" fill="#8b0000"/>
<circle cx="257.1" cy="273.9" r="1.45" fill="#8b0000"/>
<circle cx="249.6" cy="278.8" r="1.45" fill="#8b0000"/>
<circle cx="162.1" cy="301.9" r="1.45" fill="#8b0000"/>
<circle cx="165.1" cy="305.8" r="1.45" fill="#8b0000"/>
<circle cx="169" cy="303.5" r="1.45" fill="#8b0000"/>
<circle cx="244.7" cy="317.7" r="1.45" fill="#8b0000"/>
<circle cx="246.3" cy="322.2" r="1.45" fill="#8b0000"/>
<circle cx="249.6" cy="320.6" r="1.45" fill="#8b0000"/>
<circle cx="201.9" cy="332.6" r="1.45" fill="#8b0000"/>
<circle cx="198.8" cy="335.4" r="1.45" fill="#8b0000"/>
<circle cx="204.7" cy="339.1" r="1.45" fill="#8b0000"/>
<circle cx="304.3" cy="220.1" r="1.45" fill="#8b0000"/>
<circle cx="304.9" cy="243" r="1.45" fill="#8b0000"/>
<circle cx="295.5" cy="250.6" r="1.45" fill="#8b0000"/>
<circle cx="297" cy="262.7" r="1.45" fill="#8b0000"/>
<circle cx="383.6" cy="225.6" r="1.45" fill="#8b0000"/>
<circle cx="381.2" cy="228.6" r="1.45" fill="#8b0000"/>
<circle cx="393.6" cy="231.5" r="1.45" fill="#8b0000"/>
<circle cx="376.7" cy="264.6" r="1.45" fill="#8b0000"/>
<circle cx="382.2" cy="268.4" r="1.45" fill="#8b0000"/>
<circle cx="380.2" cy="276.5" r="1.45" fill="#8b0000"/>
<circle cx="331.3" cy="285.7" r="1.45" fill="#8b0000"/>
<circle cx="335.5" cy="286.7" r="1.45" fill="#8b0000"/>
<circle cx="334.3" cy="288.7" r="1.45" fill="#8b0000"/>
<circle cx="324.2" cy="331.1" r="1.45" fill="#8b0000"/>
<circle cx="330.4" cy="330.7" r="1.45" fill="#8b0000"/>
<circle cx="327.2" cy="333.6" r="1.45" fill="#8b0000"/>
<circle cx="284" cy="343.9" r="1.45" fill="#8b0000"/>
<circle cx="279" cy="350.8" r="1.45" fill="#8b0000"/>
<circle cx="286.4" cy="351.6" r="1.45" fill="#8b0000"/>
<circle cx="408.2" cy="347.5" r="1.45" fill="#8b0000"/>
<circle cx="469.2" cy="228.5" r="1.45" fill="#8b0000"/>
<circle cx="466.3" cy="234.6" r="1.45" fill="#8b0000"/>
<circle cx="471.2" cy="233.5" r="1.45" fill="#8b0000"/>
<circle cx="458.3" cy="277.2" r="1.45" fill="#8b0000"/>
<circle cx="466.3" cy="278.3" r="1.45" fill="#8b0000"/>
<circle cx="460.6" cy="283.7" r="1.45" fill="#8b0000"/>
<circle cx="412.2" cy="299.6" r="1.45" fill="#8b0000"/>
<circle cx="419" cy="296.9" r="1.45" fill="#8b0000"/>
<circle cx="420.3" cy="300.7" r="1.45" fill="#8b0000"/>
<circle cx="498.2" cy="303" r="1.45" fill="#8b0000"/>
<circle cx="494.1" cy="310.4" r="1.45" fill="#8b0000"/>
<circle cx="500.9" cy="310.4" r="1.45" fill="#8b0000"/>
<circle cx="407" cy="343.2" r="1.45" fill="#8b0000"/>
<circle cx="412.6" cy="341.7" r="1.45" fill="#8b0000"/>
<circle cx="76.6" cy="28.9" r="2.9" fill="#00008b"/>
<circle cx="78.5" cy="32.8" r="2.9" fill="#00008b"/>
<circle cx="157" cy="16.6" r="2.9" fill="#00008b"/>
<circle cx="157.5" cy="19.5" r="2.9" fill="#00008b"/>
<circle cx="238.3" cy="4.4" r="2.9" fill="#00008b"/>
<circle cx="204.4" cy="82.9" r="2.9" fill="#00008b"/>
<circle cx="208.8" cy="78.3" r="2.9" fill="#00008b"/>
<circle cx="211.1" cy="79.2" r="2.9" fill="#00008b"/>
<circle cx="209.7" cy="80.2" r="2.9" fill="#00008b"/>
<circle cx="127.3" cy="89.3" r="2.9" fill="#00008b"/>
<circle cx="128.2" cy="96.8" r="2.9" fill="#00008b"/>
<circle cx="133.3" cy="107.2" r="2.9" fill="#00008b"/>
<circle cx="287" cy="66.2" r="2.9" fill="#00008b"/>
<circle cx="290.8" cy="66.6" r="2.9" fill="#00008b"/>
<circle cx="287.7" cy="72.2" r="2.9" fill="#00008b"/>
<circle cx="370.2" cy="55.7" r="2.9" fill="#00008b"/>
<circle cx="372.6" cy="53.4" r="2.9" fill="#00008b"/>
<circle cx="452" cy="43.8" r="2.9" fill="#00008b"/>
<circle cx="453.7" cy="42" r="2.9" fill="#00008b"/>
<circle cx="531.2" cy="28.9" r="2.9" fill="#00008b"/>
<circle cx="532.7" cy="32.8" r="2.9" fill="#00008b"/>
<circle cx="48.5" cy="110.3" r="2.9" fill="#00008b"/>
<circle cx="51" cy="109" r="2.9" fill="#00008b"/>
<circle cx="51.5" cy="111.8" r="2.9" fill="#00008b"/>
<circle cx="17.1" cy="185.1" r="2.9" fill="#00008b"/>
<circle cx="17.8" cy="184.2" r="2.9" fill="#00008b"/>
<circle cx="95.5" cy="182.6" r="2.9" fill="#00008b"/>
<circle cx="95.5" cy="186.8" r="2.9" fill="#00008b"/>
<circle cx="100.9" cy="174.6" r="2.9" fill="#00008b"/>
<circle cx="101.3" cy="196.3" r="2.9" fill="#00008b"/>
<circle cx="179.3" cy="154.1" r="2.9" fill="#00008b"/>
<circle cx="186.2" cy="149.2" r="2.9" fill="#00008b"/>
<circle cx="189.7" cy="155.7" r="2.9" fill="#00008b"/>
<circle cx="248.2" cy="145.3" r="2.9" fill="#00008b"/>
<circle cx="256.5" cy="145.3" r="2.9" fill="#00008b"/>
<circle cx="258.5" cy="139.3" r="2.9" fill="#00008b"/>
<circle cx="340" cy="124" r="2.9" fill="#00008b"/>
<circle cx="348.1" cy="124.6" r="2.9" fill="#00008b"/>
<circle cx="329" cy="131.9" r="2.9" fill="#00008b"/>
<circle cx="336.3" cy="134.8" r="2.9" fill="#00008b"/>
<circle cx="306.7" cy="169.5" r="2.9" fill="#00008b"/>
<circle cx="305.3" cy="201.8" r="2.9" fill="#00008b"/>
<circle cx="388.1" cy="185.3" r="2.9" fill="#00008b"/>
<circle cx="391" cy="183.7" r="2.9" fill="#00008b"/>
<circle cx="394" cy="184.7" r="2.9" fill="#00008b"/>
<circle cx="423.5" cy="117" r="2.9" fill="#00008b"/>
<circle cx="424.5" cy="115.8" r="2.9" fill="#00008b"/>
<circle cx="505" cy="110.8" r="2.9" fill="#00008b"/>
<circle cx="506" cy="109.8" r="2.9" fill="#00008b"/>
<circle cx="503.5" cy="110.5" r="2.9" fill="#00008b"/>
<circle cx="507" cy="108.5" r="2.9" fill="#00008b"/>
<circle cx="507.5" cy="112" r="2.9" fill="#00008b"/>
<circle cx="471.5" cy="185.1" r="2.9" fill="#00008b"/>
<circle cx="51.2" cy="259.5" r="2.9" fill="#00008b"/>
<circle cx="50.5" cy="260.5" r="2.9" fill="#00008b"/>
<circle cx="49.3" cy="258.8" r="2.9" fill="#00008b"/>
<circle cx="52.6" cy="258.2" r="2.9" fill="#00008b"/>
<circle cx="51.5" cy="261.8" r="2.9" fill="#00008b"/>
<circle cx="133.5" cy="262.7" r="2.9" fill="#00008b"/>
<circle cx="130.4" cy="272.7" r="2.9" fill="#00008b"/>
<circle cx="129.5" cy="279.8" r="2.9" fill="#00008b"/>
<circle cx="78.4" cy="337" r="2.9" fill="#00008b"/>
<circle cx="77.8" cy="340.3" r="2.9" fill="#00008b"/>
<circle cx="179.3" cy="215.8" r="2.9" fill="#00008b"/>
<circle cx="190.5" cy="213.8" r="2.9" fill="#00008b"/>
<circle cx="187.2" cy="220.5" r="2.9" fill="#00008b"/>
<circle cx="249.2" cy="225" r="2.9" fill="#00008b"/>
<circle cx="257.5" cy="220.1" r="2.9" fill="#00008b"/>
<circle cx="257.7" cy="230.5" r="2.9" fill="#00008b"/>
<circle cx="206.9" cy="286.1" r="2.9" fill="#00008b"/>
<circle cx="209.2" cy="291.8" r="2.9" fill="#00008b"/>
<circle cx="212.8" cy="291" r="2.9" fill="#00008b"/>
<circle cx="329.4" cy="239.4" r="2.9" fill="#00008b"/>
<circle cx="336.9" cy="237.4" r="2.9" fill="#00008b"/>
<circle cx="340.4" cy="246.3" r="2.9" fill="#00008b"/>
<circle cx="347.7" cy="242" r="2.9" fill="#00008b"/>
<circle cx="288.6" cy="298.5" r="2.9" fill="#00008b"/>
<circle cx="289.6" cy="303.9" r="2.9" fill="#00008b"/>
<circle cx="291.1" cy="304.1" r="2.9" fill="#00008b"/>
<circle cx="371.4" cy="313.9" r="2.9" fill="#00008b"/>
<circle cx="373.3" cy="317.3" r="2.9" fill="#00008b"/>
<circle cx="422.6" cy="252.6" r="2.9" fill="#00008b"/>
<circle cx="425.6" cy="251.6" r="2.9" fill="#00008b"/>
<circle cx="424.6" cy="255.4" r="2.9" fill="#00008b"/>
<circle cx="503.6" cy="260" r="2.9" fill="#00008b"/>
<circle cx="506.4" cy="257.6" r="2.9" fill="#00008b"/>
<circle cx="506.8" cy="261.4" r="2.9" fill="#00008b"/>
<circle cx="453.8" cy="326.7" r="2.9" fill="#00008b"/>
<circle cx="533" cy="336.9" r="2.9" fill="#00008b"/>
<circle cx="532.1" cy="340.3" r="2.9" fill="#00008b"/>
<circle cx="158.2" cy="349.7" r="2.9" fill="#00008b"/>
</g>
<polygon points="162.4,135.4 157.3,150.3 167.5,150.3" fill="none" stroke="#111" stroke-width="1.6" stroke-linejoin="miter" stroke-miterlimit="10"/>
<polygon points="149.5,160.3 144.4,175.2 154.6,175.2" fill="none" stroke="#111" stroke-width="1.6" stroke-linejoin="miter" stroke-miterlimit="10"/>
<polygon points="226.0,157.1 220.9,172.0 231.1,172.0" fill="none" stroke="#111" stroke-width="1.6" stroke-linejoin="miter" stroke-miterlimit="10"/>
<polygon points="298.9,163.3 293.8,178.2 304.0,178.2" fill="none" stroke="#111" stroke-width="1.6" stroke-linejoin="miter" stroke-miterlimit="10"/>
<polygon points="146.2,215.8 141.1,230.7 151.3,230.7" fill="none" stroke="#111" stroke-width="1.6" stroke-linejoin="miter" stroke-miterlimit="10"/>
<polygon points="296.9,219.2 291.8,234.1 302.0,234.1" fill="none" stroke="#111" stroke-width="1.6" stroke-linejoin="miter" stroke-miterlimit="10"/>
<polygon points="225.4,233.6 220.3,248.5 230.5,248.5" fill="none" stroke="#111" stroke-width="1.6" stroke-linejoin="miter" stroke-miterlimit="10"/>
<polygon points="159.0,248.5 153.9,263.4 164.1,263.4" fill="none" stroke="#111" stroke-width="1.6" stroke-linejoin="miter" stroke-miterlimit="10"/>
<polygon points="292.9,255.0 287.8,269.9 298.0,269.9" fill="none" stroke="#111" stroke-width="1.6" stroke-linejoin="miter" stroke-miterlimit="10"/>
<defs><linearGradient id="gr" x1="0" y1="1" x2="0" y2="0"><stop offset="0" stop-color="#fa8072"/><stop offset="1" stop-color="#ffffff"/></linearGradient><linearGradient id="gb" x1="0" y1="1" x2="0" y2="0"><stop offset="0" stop-color="#87cefa"/><stop offset="1" stop-color="#ffffff"/></linearGradient></defs>
<rect x="561.6" y="33.9" width="14.0" height="284.20000000000005" fill="url(#gr)" stroke="#000" stroke-width="1.3"/>
<line x1="575.6" y1="33.9" x2="581.9" y2="33.9" stroke="#000" stroke-width="1.3"/>
<text x="588.4" y="41.1" font-size="18" letter-spacing="0.6" font-family='"Liberation Sans", sans-serif' fill="#000">2.0</text>
<line x1="575.6" y1="104.95000000000002" x2="581.9" y2="104.95000000000002" stroke="#000" stroke-width="1.3"/>
<text x="588.4" y="112.15000000000002" font-size="18" letter-spacing="0.6" font-family='"Liberation Sans", sans-serif' fill="#000">1.5</text>
<line x1="575.6" y1="176.00000000000003" x2="581.9" y2="176.00000000000003" stroke="#000" stroke-width="1.3"/>
<text x="588.4" y="183.20000000000002" font-size="18" letter-spacing="0.6" font-family='"Liberation Sans", sans-serif' fill="#000">1.0</text>
<line x1="575.6" y1="247.05000000000004" x2="581.9" y2="247.05000000000004" stroke="#000" stroke-width="1.3"/>
<text x="588.4" y="254.25000000000003" font-size="18" letter-spacing="0.6" font-family='"Liberation Sans", sans-serif' fill="#000">0.5</text>
<line x1="575.6" y1="318.1" x2="581.9" y2="318.1" stroke="#000" stroke-width="1.3"/>
<text x="588.4" y="325.3" font-size="18" letter-spacing="0.6" font-family='"Liberation Sans", sans-serif' fill="#000">0.0</text>
<text x="560.3000000000001" y="18" font-size="18" letter-spacing="0.9" font-family='"Liberation Sans", sans-serif' fill="#000">(eV)</text>
<rect x="626.2" y="33.9" width="14.0" height="284.20000000000005" fill="url(#gb)" stroke="#000" stroke-width="1.3"/>
<line x1="640.2" y1="33.9" x2="646.5" y2="33.9" stroke="#000" stroke-width="1.3"/>
<text x="653.0" y="41.1" font-size="18" letter-spacing="0.6" font-family='"Liberation Sans", sans-serif' fill="#000">2.0</text>
<line x1="640.2" y1="104.95000000000002" x2="646.5" y2="104.95000000000002" stroke="#000" stroke-width="1.3"/>
<text x="653.0" y="112.15000000000002" font-size="18" letter-spacing="0.6" font-family='"Liberation Sans", sans-serif' fill="#000">1.5</text>
<line x1="640.2" y1="176.00000000000003" x2="646.5" y2="176.00000000000003" stroke="#000" stroke-width="1.3"/>
<text x="653.0" y="183.20000000000002" font-size="18" letter-spacing="0.6" font-family='"Liberation Sans", sans-serif' fill="#000">1.0</text>
<line x1="640.2" y1="247.05000000000004" x2="646.5" y2="247.05000000000004" stroke="#000" stroke-width="1.3"/>
<text x="653.0" y="254.25000000000003" font-size="18" letter-spacing="0.6" font-family='"Liberation Sans", sans-serif' fill="#000">0.5</text>
<line x1="640.2" y1="318.1" x2="646.5" y2="318.1" stroke="#000" stroke-width="1.3"/>
<text x="653.0" y="325.3" font-size="18" letter-spacing="0.6" font-family='"Liberation Sans", sans-serif' fill="#000">0.0</text>
<text x="624.9000000000001" y="18" font-size="18" letter-spacing="0.9" font-family='"Liberation Sans", sans-serif' fill="#000">(eV)</text>
<text x="0" y="17.5" font-size="19" font-weight="bold" font-family='"Liberation Sans", sans-serif' fill="#000">a</text>
<text x="-0.5" y="378.6" font-size="19" font-weight="bold" font-family='"Liberation Sans", sans-serif' fill="#000">b</text>
<text x="348.3" y="378.6" font-size="19" font-weight="bold" font-family='"Liberation Sans", sans-serif' fill="#000">c</text>
<text x="-0.5" y="548.6" font-size="19" font-weight="bold" font-family='"Liberation Sans", sans-serif' fill="#000">d</text>
<text x="348.3" y="548.6" font-size="19" font-weight="bold" font-family='"Liberation Sans", sans-serif' fill="#000">e</text>
<rect x="33.4" y="390.3" width="300.0" height="122.99999999999994" fill="none" stroke="#444" stroke-width="1"/>
<line x1="29.799999999999997" y1="390.3" x2="33.4" y2="390.3" stroke="#222" stroke-width="0.9"/>
<text x="27.4" y="393.90000000000003" text-anchor="end" font-size="10" font-family='"Liberation Sans", sans-serif' fill="#222">2</text>
<line x1="29.799999999999997" y1="421.05" x2="33.4" y2="421.05" stroke="#222" stroke-width="0.9"/>
<text x="27.4" y="424.65000000000003" text-anchor="end" font-size="10" font-family='"Liberation Sans", sans-serif' fill="#222">1</text>
<line x1="29.799999999999997" y1="451.8" x2="33.4" y2="451.8" stroke="#222" stroke-width="0.9"/>
<text x="27.4" y="455.40000000000003" text-anchor="end" font-size="10" font-family='"Liberation Sans", sans-serif' fill="#222">0</text>
<line x1="29.799999999999997" y1="482.55" x2="33.4" y2="482.55" stroke="#222" stroke-width="0.9"/>
<text x="27.4" y="486.15000000000003" text-anchor="end" font-size="10" font-family='"Liberation Sans", sans-serif' fill="#222">−1</text>
<line x1="29.799999999999997" y1="513.3" x2="33.4" y2="513.3" stroke="#222" stroke-width="0.9"/>
<text x="27.4" y="516.9" text-anchor="end" font-size="10" font-family='"Liberation Sans", sans-serif' fill="#222">−2</text>
<line x1="46.6" y1="513.3" x2="46.6" y2="516.9" stroke="#222" stroke-width="0.9"/>
<text x="46.6" y="527.5" text-anchor="middle" font-size="10" font-family='"Liberation Sans", sans-serif' fill="#222">0.0</text>
<line x1="91.765" y1="513.3" x2="91.765" y2="516.9" stroke="#222" stroke-width="0.9"/>
<text x="91.765" y="527.5" text-anchor="middle" font-size="10" font-family='"Liberation Sans", sans-serif' fill="#222">0.5</text>
<line x1="136.93" y1="513.3" x2="136.93" y2="516.9" stroke="#222" stroke-width="0.9"/>
<text x="136.93" y="527.5" text-anchor="middle" font-size="10" font-family='"Liberation Sans", sans-serif' fill="#222">1.0</text>
<line x1="182.095" y1="513.3" x2="182.095" y2="516.9" stroke="#222" stroke-width="0.9"/>
<text x="182.095" y="527.5" text-anchor="middle" font-size="10" font-family='"Liberation Sans", sans-serif' fill="#222">1.5</text>
<line x1="227.26" y1="513.3" x2="227.26" y2="516.9" stroke="#222" stroke-width="0.9"/>
<text x="227.26" y="527.5" text-anchor="middle" font-size="10" font-family='"Liberation Sans", sans-serif' fill="#222">2.0</text>
<line x1="272.425" y1="513.3" x2="272.425" y2="516.9" stroke="#222" stroke-width="0.9"/>
<text x="272.425" y="527.5" text-anchor="middle" font-size="10" font-family='"Liberation Sans", sans-serif' fill="#222">2.5</text>
<line x1="317.59000000000003" y1="513.3" x2="317.59000000000003" y2="516.9" stroke="#222" stroke-width="0.9"/>
<text x="317.59000000000003" y="527.5" text-anchor="middle" font-size="10" font-family='"Liberation Sans", sans-serif' fill="#222">3.0</text>
<text transform="translate(12.099999999999998,451.79999999999995) rotate(-90)" text-anchor="middle" font-size="13.2" font-family='"Liberation Sans", sans-serif' fill="#222">Energy (eV)</text>
<text x="183" y="541.0" text-anchor="middle" font-size="13" font-family='"Liberation Sans", sans-serif' fill="#222" letter-spacing="0.25">Hf Displacement <tspan dx="1.8">(Å)</tspan></text>
<polyline fill="none" stroke="#000" stroke-width="1.4" stroke-linejoin="round" points="46.6,452.0 56.3,448.7 68.7,440.0 85.4,427.4 105.7,417.2 126.3,417.0 145.7,430.4 164.8,454.0 177.3,463.0 185.7,464.9 188.9,463.0 192.6,456.7 195.5,443.8 198.4,438.9 200.2,454.1 201.3,469.3 201.5,475.9 203.6,479.8 206.8,476.7 209.4,463.6 211.0,449.1 211.8,442.8 213.9,443.8 215.2,446.7 216.8,448.8 220.2,450.4 231.5,448.3 245.7,440.4 262.5,429.4 278.0,424.4 289.8,418.9 297.2,418.4 304.5,437.8 311.9,445.4 319.5,447.5"/>
<circle cx="56.3" cy="448.7" r="2.8" fill="#000"/>
<circle cx="68.7" cy="440.0" r="2.8" fill="#000"/>
<circle cx="85.4" cy="427.4" r="2.8" fill="#000"/>
<circle cx="105.7" cy="417.2" r="2.8" fill="#000"/>
<circle cx="126.3" cy="417.0" r="2.8" fill="#000"/>
<circle cx="145.7" cy="430.4" r="2.8" fill="#000"/>
<circle cx="164.8" cy="454.0" r="2.8" fill="#000"/>
<circle cx="177.3" cy="463.0" r="2.8" fill="#000"/>
<circle cx="188.9" cy="463.0" r="2.8" fill="#000"/>
<circle cx="192.6" cy="456.7" r="2.8" fill="#000"/>
<circle cx="195.5" cy="443.8" r="2.8" fill="#000"/>
<circle cx="198.4" cy="438.9" r="2.8" fill="#000"/>
<circle cx="200.2" cy="454.1" r="2.8" fill="#000"/>
<circle cx="201.3" cy="469.3" r="2.8" fill="#000"/>
<circle cx="201.5" cy="475.9" r="2.8" fill="#000"/>
<circle cx="203.6" cy="479.8" r="2.8" fill="#000"/>
<circle cx="206.8" cy="476.7" r="2.8" fill="#000"/>
<circle cx="209.4" cy="463.6" r="2.8" fill="#000"/>
<circle cx="211.0" cy="449.1" r="2.8" fill="#000"/>
<circle cx="211.8" cy="442.8" r="2.8" fill="#000"/>
<circle cx="213.9" cy="443.8" r="2.8" fill="#000"/>
<circle cx="215.2" cy="446.7" r="2.8" fill="#000"/>
<circle cx="216.8" cy="448.8" r="2.8" fill="#000"/>
<circle cx="231.5" cy="448.3" r="2.8" fill="#000"/>
<circle cx="245.7" cy="440.4" r="2.8" fill="#000"/>
<circle cx="262.5" cy="429.4" r="2.8" fill="#000"/>
<circle cx="278.0" cy="424.4" r="2.8" fill="#000"/>
<circle cx="289.8" cy="418.9" r="2.8" fill="#000"/>
<circle cx="297.2" cy="418.4" r="2.8" fill="#000"/>
<circle cx="304.5" cy="437.8" r="2.8" fill="#000"/>
<circle cx="311.9" cy="445.4" r="2.8" fill="#000"/>
<circle cx="46.6" cy="452.0" r="3.3" fill="#00ced1"/>
<circle cx="185.7" cy="464.9" r="3.3" fill="#00ced1"/>
<circle cx="200.7" cy="482.2" r="3.3" fill="#00ced1"/>
<circle cx="220.2" cy="450.4" r="3.3" fill="#00ced1"/>
<circle cx="319.5" cy="447.5" r="3.3" fill="#00ced1"/>
<text x="119" y="410" text-anchor="middle" font-size="14.5" font-weight="bold" font-family='"Liberation Serif", serif' fill="#000">I</text>
<text x="188.4" y="434" text-anchor="middle" font-size="14.5" font-weight="bold" font-family='"Liberation Serif", serif' fill="#000">II</text>
<text x="214" y="432.5" text-anchor="middle" font-size="14.5" font-weight="bold" font-family='"Liberation Serif", serif' fill="#000">III</text>
<text x="258.5" y="417" text-anchor="middle" font-size="14.5" font-weight="bold" font-family='"Liberation Serif", serif' fill="#000">IV</text>
<rect x="386.5" y="390.5" width="296.70000000000005" height="123.0" fill="none" stroke="#444" stroke-width="1"/>
<line x1="382.9" y1="390.2" x2="386.5" y2="390.2" stroke="#222" stroke-width="0.9"/>
<text x="380.5" y="393.8" text-anchor="end" font-size="10" font-family='"Liberation Sans", sans-serif' fill="#222">2</text>
<line x1="382.9" y1="420.95" x2="386.5" y2="420.95" stroke="#222" stroke-width="0.9"/>
<text x="380.5" y="424.55" text-anchor="end" font-size="10" font-family='"Liberation Sans", sans-serif' fill="#222">1</text>
<line x1="382.9" y1="451.7" x2="386.5" y2="451.7" stroke="#222" stroke-width="0.9"/>
<text x="380.5" y="455.3" text-anchor="end" font-size="10" font-family='"Liberation Sans", sans-serif' fill="#222">0</text>
<line x1="382.9" y1="482.45" x2="386.5" y2="482.45" stroke="#222" stroke-width="0.9"/>
<text x="380.5" y="486.05" text-anchor="end" font-size="10" font-family='"Liberation Sans", sans-serif' fill="#222">−1</text>
<line x1="382.9" y1="513.2" x2="386.5" y2="513.2" stroke="#222" stroke-width="0.9"/>
<text x="380.5" y="516.8000000000001" text-anchor="end" font-size="10" font-family='"Liberation Sans", sans-serif' fill="#222">−2</text>
<line x1="399.9" y1="513.5" x2="399.9" y2="517.1" stroke="#222" stroke-width="0.9"/>
<text x="399.9" y="527.7" text-anchor="middle" font-size="10" font-family='"Liberation Sans", sans-serif' fill="#222">0.0</text>
<line x1="434.59999999999997" y1="513.5" x2="434.59999999999997" y2="517.1" stroke="#222" stroke-width="0.9"/>
<text x="434.59999999999997" y="527.7" text-anchor="middle" font-size="10" font-family='"Liberation Sans", sans-serif' fill="#222">0.5</text>
<line x1="469.29999999999995" y1="513.5" x2="469.29999999999995" y2="517.1" stroke="#222" stroke-width="0.9"/>
<text x="469.29999999999995" y="527.7" text-anchor="middle" font-size="10" font-family='"Liberation Sans", sans-serif' fill="#222">1.0</text>
<line x1="504.0" y1="513.5" x2="504.0" y2="517.1" stroke="#222" stroke-width="0.9"/>
<text x="504.0" y="527.7" text-anchor="middle" font-size="10" font-family='"Liberation Sans", sans-serif' fill="#222">1.5</text>
<line x1="538.7" y1="513.5" x2="538.7" y2="517.1" stroke="#222" stroke-width="0.9"/>
<text x="538.7" y="527.7" text-anchor="middle" font-size="10" font-family='"Liberation Sans", sans-serif' fill="#222">2.0</text>
<line x1="573.4" y1="513.5" x2="573.4" y2="517.1" stroke="#222" stroke-width="0.9"/>
<text x="573.4" y="527.7" text-anchor="middle" font-size="10" font-family='"Liberation Sans", sans-serif' fill="#222">2.5</text>
<line x1="608.1" y1="513.5" x2="608.1" y2="517.1" stroke="#222" stroke-width="0.9"/>
<text x="608.1" y="527.7" text-anchor="middle" font-size="10" font-family='"Liberation Sans", sans-serif' fill="#222">3.0</text>
<line x1="642.8" y1="513.5" x2="642.8" y2="517.1" stroke="#222" stroke-width="0.9"/>
<text x="642.8" y="527.7" text-anchor="middle" font-size="10" font-family='"Liberation Sans", sans-serif' fill="#222">3.5</text>
<line x1="677.5" y1="513.5" x2="677.5" y2="517.1" stroke="#222" stroke-width="0.9"/>
<text x="677.5" y="527.7" text-anchor="middle" font-size="10" font-family='"Liberation Sans", sans-serif' fill="#222">4.0</text>
<text transform="translate(365.2,452.0) rotate(-90)" text-anchor="middle" font-size="13.2" font-family='"Liberation Sans", sans-serif' fill="#222">Energy (eV)</text>
<text x="539.3" y="541.2" text-anchor="middle" font-size="13" font-family='"Liberation Sans", sans-serif' fill="#222" letter-spacing="0.25">Hf Displacement <tspan dx="1.8">(Å)</tspan></text>
<polyline fill="none" stroke="#000" stroke-width="1.4" stroke-linejoin="round" points="399.9,451.7 409.1,450.4 418.8,444.6 430.4,436.8 445.9,440.4 466.1,456.5 489.0,472.5 512.9,475.4 542.1,466.0 546.9,466.6 555.2,463.2 555.9,450.5 557.8,440.6 561.5,450.0 564.4,442.3 565.9,445.4 568.5,449.6 572.6,447.3 575.5,434.9 584.1,435.9 593.0,448.8 602.7,463.6 618.2,472.5 649.8,486.4 663.4,499.0 669.5,503.5"/>
<polyline fill="none" stroke="#000" stroke-width="1.4" stroke-linejoin="round" points="555.9,450.5 561.5,450.0 563.5,456.6"/>
<circle cx="409.1" cy="450.4" r="2.8" fill="#000"/>
<circle cx="418.8" cy="444.6" r="2.8" fill="#000"/>
<circle cx="430.4" cy="436.8" r="2.8" fill="#000"/>
<circle cx="445.9" cy="440.4" r="2.8" fill="#000"/>
<circle cx="466.1" cy="456.5" r="2.8" fill="#000"/>
<circle cx="489.0" cy="472.5" r="2.8" fill="#000"/>
<circle cx="542.1" cy="466.0" r="2.8" fill="#000"/>
<circle cx="546.9" cy="466.6" r="2.8" fill="#000"/>
<circle cx="555.2" cy="463.2" r="2.8" fill="#000"/>
<circle cx="555.9" cy="450.5" r="2.8" fill="#000"/>
<circle cx="557.8" cy="440.6" r="2.8" fill="#000"/>
<circle cx="561.5" cy="450.0" r="2.8" fill="#000"/>
<circle cx="564.4" cy="442.3" r="2.8" fill="#000"/>
<circle cx="565.9" cy="445.4" r="2.8" fill="#000"/>
<circle cx="572.6" cy="447.3" r="2.8" fill="#000"/>
<circle cx="575.5" cy="434.9" r="2.8" fill="#000"/>
<circle cx="584.1" cy="435.9" r="2.8" fill="#000"/>
<circle cx="593.0" cy="448.8" r="2.8" fill="#000"/>
<circle cx="602.7" cy="463.6" r="2.8" fill="#000"/>
<circle cx="618.2" cy="472.5" r="2.8" fill="#000"/>
<circle cx="649.8" cy="486.4" r="2.8" fill="#000"/>
<circle cx="663.4" cy="499.0" r="2.8" fill="#000"/>
<circle cx="399.9" cy="451.7" r="3.3" fill="#00ced1"/>
<circle cx="512.9" cy="475.4" r="3.3" fill="#00ced1"/>
<circle cx="563.5" cy="456.6" r="3.3" fill="#00ced1"/>
<circle cx="568.5" cy="449.6" r="3.3" fill="#00ced1"/>
<circle cx="669.5" cy="503.5" r="3.3" fill="#00ced1"/>
<text x="442.5" y="427" text-anchor="middle" font-size="14.5" font-weight="bold" font-family='"Liberation Serif", serif' fill="#000">I</text>
<text x="542.7" y="451.5" text-anchor="middle" font-size="14.5" font-weight="bold" font-family='"Liberation Serif", serif' fill="#000">II</text>
<text x="565.5" y="429" text-anchor="middle" font-size="14.5" font-weight="bold" font-family='"Liberation Serif", serif' fill="#000">III</text>
<text x="619.5" y="455" text-anchor="middle" font-size="14.5" font-weight="bold" font-family='"Liberation Serif", serif' fill="#000">IV</text>
<text x="3.2" y="567" font-size="16" font-weight="bold" font-family='"Liberation Serif", serif' fill="#000">I</text>
<text x="171.3" y="567" font-size="16" font-weight="bold" font-family='"Liberation Serif", serif' fill="#000">II</text>
<text x="3.9" y="676.5" font-size="16" font-weight="bold" font-family='"Liberation Serif", serif' fill="#000">III</text>
<text x="171" y="676.5" font-size="16" font-weight="bold" font-family='"Liberation Serif", serif' fill="#000">IV</text>
<text x="354.6" y="567" font-size="16" font-weight="bold" font-family='"Liberation Serif", serif' fill="#000">I</text>
<text x="519.5" y="567" font-size="16" font-weight="bold" font-family='"Liberation Serif", serif' fill="#000">II</text>
<text x="355.1" y="677.3" font-size="16" font-weight="bold" font-family='"Liberation Serif", serif' fill="#000">III</text>
<text x="520.2" y="677.1" font-size="16" font-weight="bold" font-family='"Liberation Serif", serif' fill="#000">IV</text>
<rect x="3.5" y="570.7" width="163.3" height="92.6" fill="#fff" stroke="#8a8a8a" stroke-width="1.1"/>
<circle cx="15.4" cy="573.8" r="1.75" fill="#8b0000"/>
<circle cx="42.7" cy="574.8" r="1.75" fill="#8b0000"/>
<circle cx="46.2" cy="577.6" r="1.75" fill="#8b0000"/>
<circle cx="40.5" cy="580.7" r="1.75" fill="#8b0000"/>
<circle cx="36.3" cy="610.0" r="1.75" fill="#8b0000"/>
<circle cx="48.9" cy="612.6" r="1.75" fill="#8b0000"/>
<circle cx="74.6" cy="610.6" r="1.75" fill="#8b0000"/>
<circle cx="36.5" cy="624.4" r="1.75" fill="#8b0000"/>
<circle cx="48.2" cy="621.4" r="1.75" fill="#8b0000"/>
<circle cx="74.0" cy="623.4" r="1.75" fill="#8b0000"/>
<circle cx="41.1" cy="654.0" r="1.75" fill="#8b0000"/>
<circle cx="44.7" cy="658.6" r="1.75" fill="#8b0000"/>
<circle cx="46.6" cy="656.9" r="1.75" fill="#8b0000"/>
<circle cx="16.0" cy="660.6" r="1.75" fill="#8b0000"/>
<circle cx="96.4" cy="572.1" r="1.75" fill="#8b0000"/>
<circle cx="94.8" cy="575.1" r="1.75" fill="#8b0000"/>
<circle cx="101.0" cy="596.4" r="1.75" fill="#8b0000"/>
<circle cx="91.8" cy="600.6" r="1.75" fill="#8b0000"/>
<circle cx="130.6" cy="600.6" r="1.75" fill="#8b0000"/>
<circle cx="132.8" cy="604.3" r="1.75" fill="#8b0000"/>
<circle cx="157.5" cy="586.6" r="1.75" fill="#8b0000"/>
<circle cx="153.6" cy="590.9" r="1.75" fill="#8b0000"/>
<circle cx="150.3" cy="591.4" r="1.75" fill="#8b0000"/>
<circle cx="124.0" cy="617.9" r="1.75" fill="#8b0000"/>
<circle cx="124.4" cy="622.3" r="1.75" fill="#8b0000"/>
<circle cx="132.3" cy="631.3" r="1.75" fill="#8b0000"/>
<circle cx="91.8" cy="633.5" r="1.75" fill="#8b0000"/>
<circle cx="100.6" cy="640.2" r="1.75" fill="#8b0000"/>
<circle cx="151.6" cy="643.7" r="1.75" fill="#8b0000"/>
<circle cx="150.7" cy="645.7" r="1.75" fill="#8b0000"/>
<circle cx="158.8" cy="647.7" r="1.75" fill="#8b0000"/>
<circle cx="100.4" cy="654.6" r="1.75" fill="#8b0000"/>
<circle cx="94.8" cy="659.8" r="1.75" fill="#8b0000"/>
<rect x="3.5" y="679.6" width="163.3" height="92.6" fill="#fff" stroke="#8a8a8a" stroke-width="1.1"/>
<circle cx="15.4" cy="682.7" r="1.75" fill="#8b0000"/>
<circle cx="42.7" cy="683.7" r="1.75" fill="#8b0000"/>
<circle cx="46.2" cy="686.5" r="1.75" fill="#8b0000"/>
<circle cx="40.5" cy="689.6" r="1.75" fill="#8b0000"/>
<circle cx="36.3" cy="718.9" r="1.75" fill="#8b0000"/>
<circle cx="48.9" cy="721.5" r="1.75" fill="#8b0000"/>
<circle cx="74.6" cy="719.5" r="1.75" fill="#8b0000"/>
<circle cx="36.5" cy="733.3" r="1.75" fill="#8b0000"/>
<circle cx="48.2" cy="730.3" r="1.75" fill="#8b0000"/>
<circle cx="74.0" cy="732.3" r="1.75" fill="#8b0000"/>
<circle cx="41.1" cy="762.9" r="1.75" fill="#8b0000"/>
<circle cx="44.7" cy="767.5" r="1.75" fill="#8b0000"/>
<circle cx="46.6" cy="765.8" r="1.75" fill="#8b0000"/>
<circle cx="16.0" cy="769.5" r="1.75" fill="#8b0000"/>
<circle cx="96.4" cy="681.0" r="1.75" fill="#8b0000"/>
<circle cx="94.8" cy="684.0" r="1.75" fill="#8b0000"/>
<circle cx="101.0" cy="705.3" r="1.75" fill="#8b0000"/>
<circle cx="91.8" cy="709.5" r="1.75" fill="#8b0000"/>
<circle cx="130.6" cy="709.5" r="1.75" fill="#8b0000"/>
<circle cx="132.8" cy="713.2" r="1.75" fill="#8b0000"/>
<circle cx="157.5" cy="695.5" r="1.75" fill="#8b0000"/>
<circle cx="153.6" cy="699.8" r="1.75" fill="#8b0000"/>
<circle cx="150.3" cy="700.3" r="1.75" fill="#8b0000"/>
<circle cx="124.0" cy="726.8" r="1.75" fill="#8b0000"/>
<circle cx="124.4" cy="731.2" r="1.75" fill="#8b0000"/>
<circle cx="132.3" cy="740.2" r="1.75" fill="#8b0000"/>
<circle cx="91.8" cy="742.4" r="1.75" fill="#8b0000"/>
<circle cx="100.6" cy="749.1" r="1.75" fill="#8b0000"/>
<circle cx="151.6" cy="752.6" r="1.75" fill="#8b0000"/>
<circle cx="150.7" cy="754.6" r="1.75" fill="#8b0000"/>
<circle cx="158.8" cy="756.6" r="1.75" fill="#8b0000"/>
<circle cx="100.4" cy="763.5" r="1.75" fill="#8b0000"/>
<circle cx="94.8" cy="768.7" r="1.75" fill="#8b0000"/>
<rect x="169.8" y="570.7" width="163.3" height="92.6" fill="#fff" stroke="#8a8a8a" stroke-width="1.1"/>
<circle cx="181.7" cy="573.8" r="1.75" fill="#8b0000"/>
<circle cx="209.0" cy="574.8" r="1.75" fill="#8b0000"/>
<circle cx="212.5" cy="577.6" r="1.75" fill="#8b0000"/>
<circle cx="206.8" cy="580.7" r="1.75" fill="#8b0000"/>
<circle cx="202.6" cy="610.0" r="1.75" fill="#8b0000"/>
<circle cx="215.2" cy="612.6" r="1.75" fill="#8b0000"/>
<circle cx="240.9" cy="610.6" r="1.75" fill="#8b0000"/>
<circle cx="202.8" cy="624.4" r="1.75" fill="#8b0000"/>
<circle cx="214.5" cy="621.4" r="1.75" fill="#8b0000"/>
<circle cx="240.3" cy="623.4" r="1.75" fill="#8b0000"/>
<circle cx="207.4" cy="654.0" r="1.75" fill="#8b0000"/>
<circle cx="211.0" cy="658.6" r="1.75" fill="#8b0000"/>
<circle cx="212.9" cy="656.9" r="1.75" fill="#8b0000"/>
<circle cx="182.3" cy="660.6" r="1.75" fill="#8b0000"/>
<circle cx="262.7" cy="572.1" r="1.75" fill="#8b0000"/>
<circle cx="261.1" cy="575.1" r="1.75" fill="#8b0000"/>
<circle cx="267.3" cy="596.4" r="1.75" fill="#8b0000"/>
<circle cx="258.1" cy="600.6" r="1.75" fill="#8b0000"/>
<circle cx="296.9" cy="600.6" r="1.75" fill="#8b0000"/>
<circle cx="299.1" cy="604.3" r="1.75" fill="#8b0000"/>
<circle cx="323.8" cy="586.6" r="1.75" fill="#8b0000"/>
<circle cx="319.9" cy="590.9" r="1.75" fill="#8b0000"/>
<circle cx="316.6" cy="591.4" r="1.75" fill="#8b0000"/>
<circle cx="290.3" cy="617.9" r="1.75" fill="#8b0000"/>
<circle cx="290.7" cy="622.3" r="1.75" fill="#8b0000"/>
<circle cx="298.6" cy="631.3" r="1.75" fill="#8b0000"/>
<circle cx="258.1" cy="633.5" r="1.75" fill="#8b0000"/>
<circle cx="266.9" cy="640.2" r="1.75" fill="#8b0000"/>
<circle cx="317.9" cy="643.7" r="1.75" fill="#8b0000"/>
<circle cx="317.0" cy="645.7" r="1.75" fill="#8b0000"/>
<circle cx="325.1" cy="647.7" r="1.75" fill="#8b0000"/>
<circle cx="266.7" cy="654.6" r="1.75" fill="#8b0000"/>
<circle cx="261.1" cy="659.8" r="1.75" fill="#8b0000"/>
<rect x="169.8" y="679.6" width="163.3" height="92.6" fill="#fff" stroke="#8a8a8a" stroke-width="1.1"/>
<circle cx="181.7" cy="682.7" r="1.75" fill="#8b0000"/>
<circle cx="209.0" cy="683.7" r="1.75" fill="#8b0000"/>
<circle cx="212.5" cy="686.5" r="1.75" fill="#8b0000"/>
<circle cx="206.8" cy="689.6" r="1.75" fill="#8b0000"/>
<circle cx="202.6" cy="718.9" r="1.75" fill="#8b0000"/>
<circle cx="215.2" cy="721.5" r="1.75" fill="#8b0000"/>
<circle cx="240.9" cy="719.5" r="1.75" fill="#8b0000"/>
<circle cx="202.8" cy="733.3" r="1.75" fill="#8b0000"/>
<circle cx="214.5" cy="730.3" r="1.75" fill="#8b0000"/>
<circle cx="240.3" cy="732.3" r="1.75" fill="#8b0000"/>
<circle cx="207.4" cy="762.9" r="1.75" fill="#8b0000"/>
<circle cx="211.0" cy="767.5" r="1.75" fill="#8b0000"/>
<circle cx="212.9" cy="765.8" r="1.75" fill="#8b0000"/>
<circle cx="182.3" cy="769.5" r="1.75" fill="#8b0000"/>
<circle cx="262.7" cy="681.0" r="1.75" fill="#8b0000"/>
<circle cx="261.1" cy="684.0" r="1.75" fill="#8b0000"/>
<circle cx="267.3" cy="705.3" r="1.75" fill="#8b0000"/>
<circle cx="258.1" cy="709.5" r="1.75" fill="#8b0000"/>
<circle cx="296.9" cy="709.5" r="1.75" fill="#8b0000"/>
<circle cx="299.1" cy="713.2" r="1.75" fill="#8b0000"/>
<circle cx="323.8" cy="695.5" r="1.75" fill="#8b0000"/>
<circle cx="319.9" cy="699.8" r="1.75" fill="#8b0000"/>
<circle cx="316.6" cy="700.3" r="1.75" fill="#8b0000"/>
<circle cx="290.3" cy="726.8" r="1.75" fill="#8b0000"/>
<circle cx="290.7" cy="731.2" r="1.75" fill="#8b0000"/>
<circle cx="298.6" cy="740.2" r="1.75" fill="#8b0000"/>
<circle cx="258.1" cy="742.4" r="1.75" fill="#8b0000"/>
<circle cx="266.9" cy="749.1" r="1.75" fill="#8b0000"/>
<circle cx="317.9" cy="752.6" r="1.75" fill="#8b0000"/>
<circle cx="317.0" cy="754.6" r="1.75" fill="#8b0000"/>
<circle cx="325.1" cy="756.6" r="1.75" fill="#8b0000"/>
<circle cx="266.7" cy="763.5" r="1.75" fill="#8b0000"/>
<circle cx="261.1" cy="768.7" r="1.75" fill="#8b0000"/>
<rect x="353.5" y="570.7" width="163.3" height="92.6" fill="#fff" stroke="#8a8a8a" stroke-width="1.1"/>
<circle cx="365.4" cy="573.8" r="1.75" fill="#8b0000"/>
<circle cx="392.7" cy="574.8" r="1.75" fill="#8b0000"/>
<circle cx="396.2" cy="577.6" r="1.75" fill="#8b0000"/>
<circle cx="390.5" cy="580.7" r="1.75" fill="#8b0000"/>
<circle cx="386.3" cy="610.0" r="1.75" fill="#8b0000"/>
<circle cx="398.9" cy="612.6" r="1.75" fill="#8b0000"/>
<circle cx="424.6" cy="610.6" r="1.75" fill="#8b0000"/>
<circle cx="386.5" cy="624.4" r="1.75" fill="#8b0000"/>
<circle cx="398.2" cy="621.4" r="1.75" fill="#8b0000"/>
<circle cx="424.0" cy="623.4" r="1.75" fill="#8b0000"/>
<circle cx="391.1" cy="654.0" r="1.75" fill="#8b0000"/>
<circle cx="394.7" cy="658.6" r="1.75" fill="#8b0000"/>
<circle cx="396.6" cy="656.9" r="1.75" fill="#8b0000"/>
<circle cx="366.0" cy="660.6" r="1.75" fill="#8b0000"/>
<circle cx="446.4" cy="572.1" r="1.75" fill="#8b0000"/>
<circle cx="444.8" cy="575.1" r="1.75" fill="#8b0000"/>
<circle cx="451.0" cy="596.4" r="1.75" fill="#8b0000"/>
<circle cx="441.8" cy="600.6" r="1.75" fill="#8b0000"/>
<circle cx="480.6" cy="600.6" r="1.75" fill="#8b0000"/>
<circle cx="482.8" cy="604.3" r="1.75" fill="#8b0000"/>
<circle cx="507.5" cy="586.6" r="1.75" fill="#8b0000"/>
<circle cx="503.6" cy="590.9" r="1.75" fill="#8b0000"/>
<circle cx="500.3" cy="591.4" r="1.75" fill="#8b0000"/>
<circle cx="474.0" cy="617.9" r="1.75" fill="#8b0000"/>
<circle cx="474.4" cy="622.3" r="1.75" fill="#8b0000"/>
<circle cx="482.3" cy="631.3" r="1.75" fill="#8b0000"/>
<circle cx="441.8" cy="633.5" r="1.75" fill="#8b0000"/>
<circle cx="450.6" cy="640.2" r="1.75" fill="#8b0000"/>
<circle cx="501.6" cy="643.7" r="1.75" fill="#8b0000"/>
<circle cx="500.7" cy="645.7" r="1.75" fill="#8b0000"/>
<circle cx="508.8" cy="647.7" r="1.75" fill="#8b0000"/>
<circle cx="450.4" cy="654.6" r="1.75" fill="#8b0000"/>
<circle cx="444.8" cy="659.8" r="1.75" fill="#8b0000"/>
<rect x="353.5" y="679.6" width="163.3" height="92.6" fill="#fff" stroke="#8a8a8a" stroke-width="1.1"/>
<circle cx="365.4" cy="682.7" r="1.75" fill="#8b0000"/>
<circle cx="392.7" cy="683.7" r="1.75" fill="#8b0000"/>
<circle cx="396.2" cy="686.5" r="1.75" fill="#8b0000"/>
<circle cx="390.5" cy="689.6" r="1.75" fill="#8b0000"/>
<circle cx="386.3" cy="718.9" r="1.75" fill="#8b0000"/>
<circle cx="398.9" cy="721.5" r="1.75" fill="#8b0000"/>
<circle cx="424.6" cy="719.5" r="1.75" fill="#8b0000"/>
<circle cx="386.5" cy="733.3" r="1.75" fill="#8b0000"/>
<circle cx="398.2" cy="730.3" r="1.75" fill="#8b0000"/>
<circle cx="424.0" cy="732.3" r="1.75" fill="#8b0000"/>
<circle cx="391.1" cy="762.9" r="1.75" fill="#8b0000"/>
<circle cx="394.7" cy="767.5" r="1.75" fill="#8b0000"/>
<circle cx="396.6" cy="765.8" r="1.75" fill="#8b0000"/>
<circle cx="366.0" cy="769.5" r="1.75" fill="#8b0000"/>
<circle cx="446.4" cy="681.0" r="1.75" fill="#8b0000"/>
<circle cx="444.8" cy="684.0" r="1.75" fill="#8b0000"/>
<circle cx="451.0" cy="705.3" r="1.75" fill="#8b0000"/>
<circle cx="441.8" cy="709.5" r="1.75" fill="#8b0000"/>
<circle cx="480.6" cy="709.5" r="1.75" fill="#8b0000"/>
<circle cx="482.8" cy="713.2" r="1.75" fill="#8b0000"/>
<circle cx="507.5" cy="695.5" r="1.75" fill="#8b0000"/>
<circle cx="503.6" cy="699.8" r="1.75" fill="#8b0000"/>
<circle cx="500.3" cy="700.3" r="1.75" fill="#8b0000"/>
<circle cx="474.0" cy="726.8" r="1.75" fill="#8b0000"/>
<circle cx="474.4" cy="731.2" r="1.75" fill="#8b0000"/>
<circle cx="482.3" cy="740.2" r="1.75" fill="#8b0000"/>
<circle cx="441.8" cy="742.4" r="1.75" fill="#8b0000"/>
<circle cx="450.6" cy="749.1" r="1.75" fill="#8b0000"/>
<circle cx="501.6" cy="752.6" r="1.75" fill="#8b0000"/>
<circle cx="500.7" cy="754.6" r="1.75" fill="#8b0000"/>
<circle cx="508.8" cy="756.6" r="1.75" fill="#8b0000"/>
<circle cx="450.4" cy="763.5" r="1.75" fill="#8b0000"/>
<circle cx="444.8" cy="768.7" r="1.75" fill="#8b0000"/>
<rect x="520.4" y="570.7" width="163.3" height="92.6" fill="#fff" stroke="#8a8a8a" stroke-width="1.1"/>
<circle cx="532.3" cy="573.8" r="1.75" fill="#8b0000"/>
<circle cx="559.6" cy="574.8" r="1.75" fill="#8b0000"/>
<circle cx="563.1" cy="577.6" r="1.75" fill="#8b0000"/>
<circle cx="557.4" cy="580.7" r="1.75" fill="#8b0000"/>
<circle cx="553.2" cy="610.0" r="1.75" fill="#8b0000"/>
<circle cx="565.8" cy="612.6" r="1.75" fill="#8b0000"/>
<circle cx="591.5" cy="610.6" r="1.75" fill="#8b0000"/>
<circle cx="553.4" cy="624.4" r="1.75" fill="#8b0000"/>
<circle cx="565.1" cy="621.4" r="1.75" fill="#8b0000"/>
<circle cx="590.9" cy="623.4" r="1.75" fill="#8b0000"/>
<circle cx="558.0" cy="654.0" r="1.75" fill="#8b0000"/>
<circle cx="561.6" cy="658.6" r="1.75" fill="#8b0000"/>
<circle cx="563.5" cy="656.9" r="1.75" fill="#8b0000"/>
<circle cx="532.9" cy="660.6" r="1.75" fill="#8b0000"/>
<circle cx="613.3" cy="572.1" r="1.75" fill="#8b0000"/>
<circle cx="611.7" cy="575.1" r="1.75" fill="#8b0000"/>
<circle cx="617.9" cy="596.4" r="1.75" fill="#8b0000"/>
<circle cx="608.7" cy="600.6" r="1.75" fill="#8b0000"/>
<circle cx="647.5" cy="600.6" r="1.75" fill="#8b0000"/>
<circle cx="649.7" cy="604.3" r="1.75" fill="#8b0000"/>
<circle cx="674.4" cy="586.6" r="1.75" fill="#8b0000"/>
<circle cx="670.5" cy="590.9" r="1.75" fill="#8b0000"/>
<circle cx="667.2" cy="591.4" r="1.75" fill="#8b0000"/>
<circle cx="640.9" cy="617.9" r="1.75" fill="#8b0000"/>
<circle cx="641.3" cy="622.3" r="1.75" fill="#8b0000"/>
<circle cx="649.2" cy="631.3" r="1.75" fill="#8b0000"/>
<circle cx="608.7" cy="633.5" r="1.75" fill="#8b0000"/>
<circle cx="617.5" cy="640.2" r="1.75" fill="#8b0000"/>
<circle cx="668.5" cy="643.7" r="1.75" fill="#8b0000"/>
<circle cx="667.6" cy="645.7" r="1.75" fill="#8b0000"/>
<circle cx="675.7" cy="647.7" r="1.75" fill="#8b0000"/>
<circle cx="617.3" cy="654.6" r="1.75" fill="#8b0000"/>
<circle cx="611.7" cy="659.8" r="1.75" fill="#8b0000"/>
<rect x="520.4" y="679.6" width="163.3" height="92.6" fill="#fff" stroke="#8a8a8a" stroke-width="1.1"/>
<circle cx="532.3" cy="682.7" r="1.75" fill="#8b0000"/>
<circle cx="559.6" cy="683.7" r="1.75" fill="#8b0000"/>
<circle cx="563.1" cy="686.5" r="1.75" fill="#8b0000"/>
<circle cx="557.4" cy="689.6" r="1.75" fill="#8b0000"/>
<circle cx="553.2" cy="718.9" r="1.75" fill="#8b0000"/>
<circle cx="565.8" cy="721.5" r="1.75" fill="#8b0000"/>
<circle cx="591.5" cy="719.5" r="1.75" fill="#8b0000"/>
<circle cx="553.4" cy="733.3" r="1.75" fill="#8b0000"/>
<circle cx="565.1" cy="730.3" r="1.75" fill="#8b0000"/>
<circle cx="590.9" cy="732.3" r="1.75" fill="#8b0000"/>
<circle cx="558.0" cy="762.9" r="1.75" fill="#8b0000"/>
<circle cx="561.6" cy="767.5" r="1.75" fill="#8b0000"/>
<circle cx="563.5" cy="765.8" r="1.75" fill="#8b0000"/>
<circle cx="532.9" cy="769.5" r="1.75" fill="#8b0000"/>
<circle cx="613.3" cy="681.0" r="1.75" fill="#8b0000"/>
<circle cx="611.7" cy="684.0" r="1.75" fill="#8b0000"/>
<circle cx="617.9" cy="705.3" r="1.75" fill="#8b0000"/>
<circle cx="608.7" cy="709.5" r="1.75" fill="#8b0000"/>
<circle cx="647.5" cy="709.5" r="1.75" fill="#8b0000"/>
<circle cx="649.7" cy="713.2" r="1.75" fill="#8b0000"/>
<circle cx="674.4" cy="695.5" r="1.75" fill="#8b0000"/>
<circle cx="670.5" cy="699.8" r="1.75" fill="#8b0000"/>
<circle cx="667.2" cy="700.3" r="1.75" fill="#8b0000"/>
<circle cx="640.9" cy="726.8" r="1.75" fill="#8b0000"/>
<circle cx="641.3" cy="731.2" r="1.75" fill="#8b0000"/>
<circle cx="649.2" cy="740.2" r="1.75" fill="#8b0000"/>
<circle cx="608.7" cy="742.4" r="1.75" fill="#8b0000"/>
<circle cx="617.5" cy="749.1" r="1.75" fill="#8b0000"/>
<circle cx="668.5" cy="752.6" r="1.75" fill="#8b0000"/>
<circle cx="667.6" cy="754.6" r="1.75" fill="#8b0000"/>
<circle cx="675.7" cy="756.6" r="1.75" fill="#8b0000"/>
<circle cx="617.3" cy="763.5" r="1.75" fill="#8b0000"/>
<circle cx="611.7" cy="768.7" r="1.75" fill="#8b0000"/>
<circle cx="18.4" cy="597.1" r="2.85" fill="#00008b"/>
<circle cx="23.4" cy="593.1" r="2.85" fill="#00008b"/>
<circle cx="25.6" cy="598.4" r="2.85" fill="#00008b"/>
<circle cx="64.0" cy="590.9" r="2.85" fill="#00008b"/>
<circle cx="68.6" cy="591.6" r="2.85" fill="#00008b"/>
<circle cx="70.9" cy="587.2" r="2.85" fill="#00008b"/>
<circle cx="124.0" cy="577.4" r="2.85" fill="#00008b"/>
<circle cx="129.3" cy="577.6" r="2.85" fill="#00008b"/>
<circle cx="116.8" cy="582.6" r="2.85" fill="#00008b"/>
<circle cx="121.4" cy="584.6" r="2.85" fill="#00008b"/>
<circle cx="102.1" cy="607.2" r="2.85" fill="#00008b"/>
<circle cx="101.4" cy="628.2" r="2.85" fill="#00008b"/>
<circle cx="154.9" cy="617.5" r="2.85" fill="#00008b"/>
<circle cx="158.2" cy="616.4" r="2.85" fill="#00008b"/>
<circle cx="160.1" cy="616.8" r="2.85" fill="#00008b"/>
<circle cx="117.1" cy="652.3" r="2.85" fill="#00008b"/>
<circle cx="121.8" cy="651.4" r="2.85" fill="#00008b"/>
<circle cx="124.3" cy="657.3" r="2.85" fill="#00008b"/>
<circle cx="129.0" cy="654.9" r="2.85" fill="#00008b"/>
<circle cx="64.4" cy="643.5" r="2.85" fill="#00008b"/>
<circle cx="69.6" cy="639.8" r="2.85" fill="#00008b"/>
<circle cx="70.6" cy="647.0" r="2.85" fill="#00008b"/>
<circle cx="18.8" cy="637.2" r="2.85" fill="#00008b"/>
<circle cx="26.3" cy="636.1" r="2.85" fill="#00008b"/>
<circle cx="24.0" cy="640.4" r="2.85" fill="#00008b"/>
<circle cx="123.5" cy="581.5" r="10.4" fill="none" stroke="#7070d0" stroke-width="0.8" stroke-dasharray="2,1.6"/>
<circle cx="18.6" cy="635.5" r="3.3" fill="#bef8be" fill-opacity="0.12" stroke="#1a6a1a" stroke-width="0.5" stroke-opacity="0.15"/>
<circle cx="21.6" cy="636.2" r="3.3" fill="#b6f7b6" fill-opacity="0.16" stroke="#1a6a1a" stroke-width="0.5" stroke-opacity="0.21"/>
<circle cx="24.5" cy="636.9" r="3.3" fill="#a9f6a9" fill-opacity="0.23" stroke="#1a6a1a" stroke-width="0.5" stroke-opacity="0.26"/>
<circle cx="27.5" cy="637.6" r="3.3" fill="#9bf59b" fill-opacity="0.31" stroke="#1a6a1a" stroke-width="0.5" stroke-opacity="0.32"/>
<circle cx="30.5" cy="638.3" r="3.3" fill="#8bf38b" fill-opacity="0.40" stroke="#1a6a1a" stroke-width="0.5" stroke-opacity="0.37"/>
<circle cx="33.4" cy="638.9" r="3.3" fill="#7af27a" fill-opacity="0.51" stroke="#1a6a1a" stroke-width="0.5" stroke-opacity="0.43"/>
<circle cx="36.4" cy="639.6" r="3.3" fill="#68f068" fill-opacity="0.62" stroke="#1a6a1a" stroke-width="0.5" stroke-opacity="0.48"/>
<circle cx="39.4" cy="640.3" r="3.3" fill="#55ef55" fill-opacity="0.74" stroke="#1a6a1a" stroke-width="0.5" stroke-opacity="0.54"/>
<circle cx="42.3" cy="641.0" r="3.3" fill="#42ed42" fill-opacity="0.87" stroke="#1a6a1a" stroke-width="0.5" stroke-opacity="0.59"/>
<circle cx="45.3" cy="641.7" r="3.3" fill="#2deb2d" fill-opacity="1.00" stroke="#1a6a1a" stroke-width="0.5" stroke-opacity="0.65"/>
<circle cx="68.5" cy="640.4" r="3.3" fill="#bef8fa" fill-opacity="0.12" stroke="#1a7a80" stroke-width="0.5" stroke-opacity="0.15"/>
<circle cx="70.6" cy="638.6" r="3.3" fill="#a7f8fa" fill-opacity="0.25" stroke="#1a7a80" stroke-width="0.5" stroke-opacity="0.28"/>
<circle cx="72.7" cy="636.8" r="3.3" fill="#85f7f9" fill-opacity="0.45" stroke="#1a7a80" stroke-width="0.5" stroke-opacity="0.40"/>
<circle cx="74.8" cy="634.9" r="3.3" fill="#5ef6f9" fill-opacity="0.71" stroke="#1a7a80" stroke-width="0.5" stroke-opacity="0.53"/>
<circle cx="76.9" cy="633.1" r="3.3" fill="#32f5f8" fill-opacity="1.00" stroke="#1a7a80" stroke-width="0.5" stroke-opacity="0.65"/>
<g transform="translate(3.5,570.7)"><path d="M13.9,71.7 C30,74 40,80 52,80 C60,80 64,76 68,73.5" fill="none" stroke="#ff0000" stroke-width="3.6" stroke-linecap="butt"/>
<polygon points="71.6,71.2 66.7,78.5 62.9,70.2" fill="#ff0000"/></g>
<text x="7.8" y="592.2" font-size="18.5" font-family='"Liberation Sans", sans-serif' fill="#000">a<tspan dx="-0.8" font-size="9.6">1</tspan></text>
<text x="65.0" y="582.4" font-size="18.5" font-family='"Liberation Sans", sans-serif' fill="#000">a<tspan dx="-0.8" font-size="9.6">2</tspan></text>
<text x="99.0" y="582.4" font-size="18.5" font-family='"Liberation Sans", sans-serif' fill="#000">a<tspan dx="-0.8" font-size="9.6">3</tspan></text>
<text x="137.1" y="621.1" font-size="18.5" font-family='"Liberation Sans", sans-serif' fill="#000">a<tspan dx="-0.8" font-size="9.6">4</tspan></text>
<text x="99.0" y="662.9" font-size="18.5" font-family='"Liberation Sans", sans-serif' fill="#000">a<tspan dx="-0.8" font-size="9.6">5</tspan></text>
<text x="65.0" y="660.3" font-size="18.5" font-family='"Liberation Sans", sans-serif' fill="#000">a<tspan dx="-0.8" font-size="9.6">6</tspan></text>
<text x="7.8" y="652.5" font-size="18.5" font-family='"Liberation Sans", sans-serif' fill="#000">a<tspan dx="-0.8" font-size="9.6">7</tspan></text>
<text x="42.2" y="608.1" font-size="18.5" font-family='"Liberation Sans", sans-serif' fill="#000">i<tspan dx="-0.8" font-size="9.6">1</tspan></text>
<text x="42.2" y="638.1" font-size="18.5" font-family='"Liberation Sans", sans-serif' fill="#000">i<tspan dx="-0.8" font-size="9.6">2</tspan></text>
<text x="84.1" y="610.8" font-size="18.5" font-family='"Liberation Sans", sans-serif' fill="#000">b<tspan dx="-0.8" font-size="9.6">1</tspan></text>
<text x="84.1" y="632.2" font-size="18.5" font-family='"Liberation Sans", sans-serif' fill="#000">b<tspan dx="-0.8" font-size="9.6">2</tspan></text>
<circle cx="184.7" cy="597.1" r="2.85" fill="#00008b"/>
<circle cx="189.7" cy="593.1" r="2.85" fill="#00008b"/>
<circle cx="191.9" cy="598.4" r="2.85" fill="#00008b"/>
<circle cx="230.3" cy="590.9" r="2.85" fill="#00008b"/>
<circle cx="234.9" cy="591.6" r="2.85" fill="#00008b"/>
<circle cx="237.2" cy="587.2" r="2.85" fill="#00008b"/>
<circle cx="290.3" cy="577.4" r="2.85" fill="#00008b"/>
<circle cx="295.6" cy="577.6" r="2.85" fill="#00008b"/>
<circle cx="283.1" cy="582.6" r="2.85" fill="#00008b"/>
<circle cx="287.7" cy="584.6" r="2.85" fill="#00008b"/>
<circle cx="268.4" cy="607.2" r="2.85" fill="#00008b"/>
<circle cx="267.7" cy="628.2" r="2.85" fill="#00008b"/>
<circle cx="321.2" cy="617.5" r="2.85" fill="#00008b"/>
<circle cx="324.5" cy="616.4" r="2.85" fill="#00008b"/>
<circle cx="326.4" cy="616.8" r="2.85" fill="#00008b"/>
<circle cx="283.4" cy="652.3" r="2.85" fill="#00008b"/>
<circle cx="288.1" cy="651.4" r="2.85" fill="#00008b"/>
<circle cx="290.6" cy="657.3" r="2.85" fill="#00008b"/>
<circle cx="295.3" cy="654.9" r="2.85" fill="#00008b"/>
<circle cx="230.7" cy="643.5" r="2.85" fill="#00008b"/>
<circle cx="235.9" cy="639.8" r="2.85" fill="#00008b"/>
<circle cx="236.9" cy="647.0" r="2.85" fill="#00008b"/>
<circle cx="185.1" cy="637.2" r="2.85" fill="#00008b"/>
<circle cx="192.6" cy="636.1" r="2.85" fill="#00008b"/>
<circle cx="190.3" cy="640.4" r="2.85" fill="#00008b"/>
<circle cx="289.8" cy="581.5" r="10.4" fill="none" stroke="#7070d0" stroke-width="0.8" stroke-dasharray="2,1.6"/>
<circle cx="189.0" cy="638.0" r="10.4" fill="none" stroke="#7070d0" stroke-width="0.8" stroke-dasharray="2,1.6"/>
<circle cx="191.1" cy="599.7" r="3.3" fill="#bef8fa" fill-opacity="0.12" stroke="#1a7a80" stroke-width="0.5" stroke-opacity="0.15"/>
<circle cx="189.6" cy="605.3" r="3.3" fill="#bcf8fa" fill-opacity="0.19" stroke="#1a7a80" stroke-width="0.5" stroke-opacity="0.23"/>
<circle cx="188.1" cy="610.9" r="3.3" fill="#b5f8fa" fill-opacity="0.31" stroke="#1a7a80" stroke-width="0.5" stroke-opacity="0.32"/>
<circle cx="186.7" cy="616.5" r="3.3" fill="#a5f7fa" fill-opacity="0.45" stroke="#1a7a80" stroke-width="0.5" stroke-opacity="0.40"/>
<circle cx="185.9" cy="622.2" r="3.3" fill="#8bf7f9" fill-opacity="0.62" stroke="#1a7a80" stroke-width="0.5" stroke-opacity="0.48"/>
<circle cx="185.2" cy="628.0" r="3.3" fill="#65f6f9" fill-opacity="0.80" stroke="#1a7a80" stroke-width="0.5" stroke-opacity="0.57"/>
<circle cx="184.4" cy="633.7" r="3.3" fill="#32f5f8" fill-opacity="1.00" stroke="#1a7a80" stroke-width="0.5" stroke-opacity="0.65"/>
<circle cx="226.1" cy="590.3" r="3.3" fill="#8cf7f9" fill-opacity="0.41" stroke="#1a7a80" stroke-width="0.5" stroke-opacity="0.38"/>
<circle cx="223.6" cy="589.7" r="3.3" fill="#7ff7f9" fill-opacity="0.49" stroke="#1a7a80" stroke-width="0.5" stroke-opacity="0.42"/>
<circle cx="221.1" cy="589.1" r="3.3" fill="#71f6f9" fill-opacity="0.58" stroke="#1a7a80" stroke-width="0.5" stroke-opacity="0.47"/>
<circle cx="218.7" cy="588.5" r="3.3" fill="#62f6f9" fill-opacity="0.68" stroke="#1a7a80" stroke-width="0.5" stroke-opacity="0.51"/>
<circle cx="216.2" cy="587.8" r="3.3" fill="#52f6f8" fill-opacity="0.78" stroke="#1a7a80" stroke-width="0.5" stroke-opacity="0.56"/>
<circle cx="213.7" cy="587.2" r="3.3" fill="#42f5f8" fill-opacity="0.89" stroke="#1a7a80" stroke-width="0.5" stroke-opacity="0.60"/>
<circle cx="211.2" cy="586.6" r="3.3" fill="#32f5f8" fill-opacity="1.00" stroke="#1a7a80" stroke-width="0.5" stroke-opacity="0.65"/>
<circle cx="212.70000000000002" cy="642.5" r="3.3" fill="#22ee22" stroke="#1a5a1a" stroke-width="0.7"/>
<text x="174.1" y="592.2" font-size="18.5" font-family='"Liberation Sans", sans-serif' fill="#000">a<tspan dx="-0.8" font-size="9.6">1</tspan></text>
<text x="231.3" y="582.4" font-size="18.5" font-family='"Liberation Sans", sans-serif' fill="#000">a<tspan dx="-0.8" font-size="9.6">2</tspan></text>
<text x="265.3" y="582.4" font-size="18.5" font-family='"Liberation Sans", sans-serif' fill="#000">a<tspan dx="-0.8" font-size="9.6">3</tspan></text>
<text x="303.4" y="621.1" font-size="18.5" font-family='"Liberation Sans", sans-serif' fill="#000">a<tspan dx="-0.8" font-size="9.6">4</tspan></text>
<text x="265.3" y="662.9" font-size="18.5" font-family='"Liberation Sans", sans-serif' fill="#000">a<tspan dx="-0.8" font-size="9.6">5</tspan></text>
<text x="174.1" y="652.5" font-size="18.5" font-family='"Liberation Sans", sans-serif' fill="#000">a<tspan dx="-0.8" font-size="9.6">7</tspan></text>
<text x="208.5" y="608.1" font-size="18.5" font-family='"Liberation Sans", sans-serif' fill="#000">i<tspan dx="-0.8" font-size="9.6">1</tspan></text>
<text x="208.5" y="638.1" font-size="18.5" font-family='"Liberation Sans", sans-serif' fill="#000">i<tspan dx="-0.8" font-size="9.6">2</tspan></text>
<circle cx="18.4" cy="706.0" r="2.85" fill="#00008b"/>
<circle cx="23.4" cy="702.0" r="2.85" fill="#00008b"/>
<circle cx="25.6" cy="707.3" r="2.85" fill="#00008b"/>
<circle cx="64.0" cy="699.8" r="2.85" fill="#00008b"/>
<circle cx="68.6" cy="700.5" r="2.85" fill="#00008b"/>
<circle cx="70.9" cy="696.1" r="2.85" fill="#00008b"/>
<circle cx="124.0" cy="686.3" r="2.85" fill="#00008b"/>
<circle cx="129.3" cy="686.5" r="2.85" fill="#00008b"/>
<circle cx="116.8" cy="691.5" r="2.85" fill="#00008b"/>
<circle cx="121.4" cy="693.5" r="2.85" fill="#00008b"/>
<circle cx="101.4" cy="737.1" r="2.85" fill="#00008b"/>
<circle cx="154.9" cy="726.4" r="2.85" fill="#00008b"/>
<circle cx="158.2" cy="725.3" r="2.85" fill="#00008b"/>
<circle cx="160.1" cy="725.7" r="2.85" fill="#00008b"/>
<circle cx="117.1" cy="761.2" r="2.85" fill="#00008b"/>
<circle cx="121.8" cy="760.3" r="2.85" fill="#00008b"/>
<circle cx="124.3" cy="766.2" r="2.85" fill="#00008b"/>
<circle cx="129.0" cy="763.8" r="2.85" fill="#00008b"/>
<circle cx="64.4" cy="752.4" r="2.85" fill="#00008b"/>
<circle cx="69.6" cy="748.7" r="2.85" fill="#00008b"/>
<circle cx="70.6" cy="755.9" r="2.85" fill="#00008b"/>
<circle cx="18.8" cy="746.1" r="2.85" fill="#00008b"/>
<circle cx="26.3" cy="745.0" r="2.85" fill="#00008b"/>
<circle cx="24.0" cy="749.3" r="2.85" fill="#00008b"/>
<circle cx="45.1" cy="695.7" r="2.85" fill="#00008b"/>
<circle cx="22.5" cy="705.4" r="10.4" fill="none" stroke="#7070d0" stroke-width="0.8" stroke-dasharray="2,1.6"/>
<circle cx="68.0" cy="698.4" r="10.4" fill="none" stroke="#7070d0" stroke-width="0.8" stroke-dasharray="2,1.6"/>
<circle cx="123.5" cy="690.4" r="10.4" fill="none" stroke="#7070d0" stroke-width="0.8" stroke-dasharray="2,1.6"/>
<circle cx="101.7" cy="729.5" r="3.3" fill="#bef8fa" fill-opacity="0.12" stroke="#1a7a80" stroke-width="0.5" stroke-opacity="0.15"/>
<circle cx="103.1" cy="726.3" r="3.3" fill="#b6f8fa" fill-opacity="0.16" stroke="#1a7a80" stroke-width="0.5" stroke-opacity="0.21"/>
<circle cx="104.5" cy="723.2" r="3.3" fill="#aaf8fa" fill-opacity="0.23" stroke="#1a7a80" stroke-width="0.5" stroke-opacity="0.26"/>
<circle cx="105.8" cy="720.0" r="3.3" fill="#9cf7fa" fill-opacity="0.31" stroke="#1a7a80" stroke-width="0.5" stroke-opacity="0.32"/>
<circle cx="107.2" cy="716.9" r="3.3" fill="#8df7f9" fill-opacity="0.40" stroke="#1a7a80" stroke-width="0.5" stroke-opacity="0.37"/>
<circle cx="108.6" cy="713.7" r="3.3" fill="#7df7f9" fill-opacity="0.51" stroke="#1a7a80" stroke-width="0.5" stroke-opacity="0.43"/>
<circle cx="110.0" cy="710.6" r="3.3" fill="#6bf6f9" fill-opacity="0.62" stroke="#1a7a80" stroke-width="0.5" stroke-opacity="0.48"/>
<circle cx="111.3" cy="707.4" r="3.3" fill="#59f6f9" fill-opacity="0.74" stroke="#1a7a80" stroke-width="0.5" stroke-opacity="0.54"/>
<circle cx="112.7" cy="704.3" r="3.3" fill="#46f5f8" fill-opacity="0.87" stroke="#1a7a80" stroke-width="0.5" stroke-opacity="0.59"/>
<circle cx="114.1" cy="701.1" r="3.3" fill="#32f5f8" fill-opacity="1.00" stroke="#1a7a80" stroke-width="0.5" stroke-opacity="0.65"/>
<circle cx="102.4" cy="716.8000000000001" r="2.85" fill="#00008b" fill-opacity="0.85"/>
<circle cx="51.3" cy="752.4" r="3.3" fill="#22ee22" stroke="#1a5a1a" stroke-width="0.5" stroke-opacity="0.5"/>
<text x="7.8" y="701.1" font-size="18.5" font-family='"Liberation Sans", sans-serif' fill="#000">a<tspan dx="-0.8" font-size="9.6">1</tspan></text>
<text x="65.0" y="691.3" font-size="18.5" font-family='"Liberation Sans", sans-serif' fill="#000">a<tspan dx="-0.8" font-size="9.6">2</tspan></text>
<text x="99.0" y="691.3" font-size="18.5" font-family='"Liberation Sans", sans-serif' fill="#000">a<tspan dx="-0.8" font-size="9.6">3</tspan></text>
<text x="65.0" y="769.2" font-size="18.5" font-family='"Liberation Sans", sans-serif' fill="#000">a<tspan dx="-0.8" font-size="9.6">6</tspan></text>
<text x="42.2" y="747.0" font-size="18.5" font-family='"Liberation Sans", sans-serif' fill="#000">i<tspan dx="-0.8" font-size="9.6">2</tspan></text>
<text x="84.1" y="741.1" font-size="18.5" font-family='"Liberation Sans", sans-serif' fill="#000">b<tspan dx="-0.8" font-size="9.6">2</tspan></text>
<circle cx="184.7" cy="706.0" r="2.85" fill="#00008b"/>
<circle cx="189.7" cy="702.0" r="2.85" fill="#00008b"/>
<circle cx="191.9" cy="707.3" r="2.85" fill="#00008b"/>
<circle cx="230.3" cy="699.8" r="2.85" fill="#00008b"/>
<circle cx="234.9" cy="700.5" r="2.85" fill="#00008b"/>
<circle cx="237.2" cy="696.1" r="2.85" fill="#00008b"/>
<circle cx="290.3" cy="686.3" r="2.85" fill="#00008b"/>
<circle cx="295.6" cy="686.5" r="2.85" fill="#00008b"/>
<circle cx="283.1" cy="691.5" r="2.85" fill="#00008b"/>
<circle cx="287.7" cy="693.5" r="2.85" fill="#00008b"/>
<circle cx="268.4" cy="716.1" r="2.85" fill="#00008b"/>
<circle cx="267.7" cy="737.1" r="2.85" fill="#00008b"/>
<circle cx="321.2" cy="726.4" r="2.85" fill="#00008b"/>
<circle cx="324.5" cy="725.3" r="2.85" fill="#00008b"/>
<circle cx="326.4" cy="725.7" r="2.85" fill="#00008b"/>
<circle cx="283.4" cy="761.2" r="2.85" fill="#00008b"/>
<circle cx="288.1" cy="760.3" r="2.85" fill="#00008b"/>
<circle cx="290.6" cy="766.2" r="2.85" fill="#00008b"/>
<circle cx="295.3" cy="763.8" r="2.85" fill="#00008b"/>
<circle cx="230.7" cy="752.4" r="2.85" fill="#00008b"/>
<circle cx="235.9" cy="748.7" r="2.85" fill="#00008b"/>
<circle cx="236.9" cy="755.9" r="2.85" fill="#00008b"/>
<circle cx="185.1" cy="746.1" r="2.85" fill="#00008b"/>
<circle cx="192.6" cy="745.0" r="2.85" fill="#00008b"/>
<circle cx="190.3" cy="749.3" r="2.85" fill="#00008b"/>
<circle cx="188.8" cy="705.4" r="10.4" fill="none" stroke="#7070d0" stroke-width="0.8" stroke-dasharray="2,1.6"/>
<circle cx="234.3" cy="698.4" r="10.4" fill="none" stroke="#7070d0" stroke-width="0.8" stroke-dasharray="2,1.6"/>
<circle cx="268.1" cy="736.7" r="10.4" fill="none" stroke="#7070d0" stroke-width="0.8" stroke-dasharray="2,1.6"/>
<circle cx="217.2" cy="752.4" r="3.3" fill="#bef8be" fill-opacity="0.12" stroke="#1a6a1a" stroke-width="0.5" stroke-opacity="0.15"/>
<circle cx="220.5" cy="751.9" r="3.3" fill="#b4f7b4" fill-opacity="0.17" stroke="#1a6a1a" stroke-width="0.5" stroke-opacity="0.21"/>
<circle cx="223.9" cy="751.4" r="3.3" fill="#a6f6a6" fill-opacity="0.25" stroke="#1a6a1a" stroke-width="0.5" stroke-opacity="0.28"/>
<circle cx="227.2" cy="751.0" r="3.3" fill="#95f495" fill-opacity="0.34" stroke="#1a6a1a" stroke-width="0.5" stroke-opacity="0.34"/>
<circle cx="230.5" cy="750.3" r="3.3" fill="#83f383" fill-opacity="0.45" stroke="#1a6a1a" stroke-width="0.5" stroke-opacity="0.40"/>
<circle cx="233.5" cy="748.7" r="3.3" fill="#6ff16f" fill-opacity="0.58" stroke="#1a6a1a" stroke-width="0.5" stroke-opacity="0.46"/>
<circle cx="236.5" cy="747.2" r="3.3" fill="#5aef5a" fill-opacity="0.71" stroke="#1a6a1a" stroke-width="0.5" stroke-opacity="0.53"/>
<circle cx="239.5" cy="745.7" r="3.3" fill="#44ed44" fill-opacity="0.85" stroke="#1a6a1a" stroke-width="0.5" stroke-opacity="0.59"/>
<circle cx="242.5" cy="744.2" r="3.3" fill="#2deb2d" fill-opacity="1.00" stroke="#1a6a1a" stroke-width="0.5" stroke-opacity="0.65"/>
<text x="174.1" y="701.1" font-size="18.5" font-family='"Liberation Sans", sans-serif' fill="#000">a<tspan dx="-0.8" font-size="9.6">1</tspan></text>
<text x="231.3" y="691.3" font-size="18.5" font-family='"Liberation Sans", sans-serif' fill="#000">a<tspan dx="-0.8" font-size="9.6">2</tspan></text>
<text x="265.3" y="771.8" font-size="18.5" font-family='"Liberation Sans", sans-serif' fill="#000">a<tspan dx="-0.8" font-size="9.6">5</tspan></text>
<text x="231.3" y="769.2" font-size="18.5" font-family='"Liberation Sans", sans-serif' fill="#000">a<tspan dx="-0.8" font-size="9.6">6</tspan></text>
<text x="208.5" y="747.0" font-size="18.5" font-family='"Liberation Sans", sans-serif' fill="#000">i<tspan dx="-0.8" font-size="9.6">2</tspan></text>
<text x="250.4" y="741.1" font-size="18.5" font-family='"Liberation Sans", sans-serif' fill="#000">b<tspan dx="-0.8" font-size="9.6">2</tspan></text>
<circle cx="368.4" cy="597.1" r="2.85" fill="#00008b"/>
<circle cx="373.4" cy="593.1" r="2.85" fill="#00008b"/>
<circle cx="375.6" cy="598.4" r="2.85" fill="#00008b"/>
<circle cx="414.0" cy="590.9" r="2.85" fill="#00008b"/>
<circle cx="418.6" cy="591.6" r="2.85" fill="#00008b"/>
<circle cx="420.9" cy="587.2" r="2.85" fill="#00008b"/>
<circle cx="474.0" cy="577.4" r="2.85" fill="#00008b"/>
<circle cx="479.3" cy="577.6" r="2.85" fill="#00008b"/>
<circle cx="466.8" cy="582.6" r="2.85" fill="#00008b"/>
<circle cx="471.4" cy="584.6" r="2.85" fill="#00008b"/>
<circle cx="452.1" cy="607.2" r="2.85" fill="#00008b"/>
<circle cx="451.4" cy="628.2" r="2.85" fill="#00008b"/>
<circle cx="504.9" cy="617.5" r="2.85" fill="#00008b"/>
<circle cx="508.2" cy="616.4" r="2.85" fill="#00008b"/>
<circle cx="510.1" cy="616.8" r="2.85" fill="#00008b"/>
<circle cx="467.1" cy="652.3" r="2.85" fill="#00008b"/>
<circle cx="471.8" cy="651.4" r="2.85" fill="#00008b"/>
<circle cx="474.3" cy="657.3" r="2.85" fill="#00008b"/>
<circle cx="479.0" cy="654.9" r="2.85" fill="#00008b"/>
<circle cx="414.4" cy="643.5" r="2.85" fill="#00008b"/>
<circle cx="419.6" cy="639.8" r="2.85" fill="#00008b"/>
<circle cx="420.6" cy="647.0" r="2.85" fill="#00008b"/>
<circle cx="368.8" cy="637.2" r="2.85" fill="#00008b"/>
<circle cx="376.3" cy="636.1" r="2.85" fill="#00008b"/>
<circle cx="374.0" cy="640.4" r="2.85" fill="#00008b"/>
<circle cx="393.1" cy="594.1" r="2.85" fill="#00008b"/>
<circle cx="372.5" cy="596.5" r="10.4" fill="none" stroke="#7070d0" stroke-width="0.8" stroke-dasharray="2,1.6"/>
<circle cx="448.3" cy="633.7" r="3.3" fill="#bef8be" fill-opacity="0.12" stroke="#1a6a1a" stroke-width="0.5" stroke-opacity="0.15"/>
<circle cx="445.2" cy="633.7" r="3.3" fill="#b2f7b2" fill-opacity="0.18" stroke="#1a6a1a" stroke-width="0.5" stroke-opacity="0.22"/>
<circle cx="442.1" cy="633.7" r="3.3" fill="#a2f5a2" fill-opacity="0.27" stroke="#1a6a1a" stroke-width="0.5" stroke-opacity="0.29"/>
<circle cx="439.0" cy="633.7" r="3.3" fill="#8ef48e" fill-opacity="0.39" stroke="#1a6a1a" stroke-width="0.5" stroke-opacity="0.36"/>
<circle cx="436.0" cy="633.7" r="3.3" fill="#78f278" fill-opacity="0.52" stroke="#1a6a1a" stroke-width="0.5" stroke-opacity="0.44"/>
<circle cx="432.9" cy="633.7" r="3.3" fill="#60f060" fill-opacity="0.67" stroke="#1a6a1a" stroke-width="0.5" stroke-opacity="0.51"/>
<circle cx="429.8" cy="633.7" r="3.3" fill="#47ed47" fill-opacity="0.83" stroke="#1a6a1a" stroke-width="0.5" stroke-opacity="0.58"/>
<circle cx="426.7" cy="633.7" r="3.3" fill="#2deb2d" fill-opacity="1.00" stroke="#1a6a1a" stroke-width="0.5" stroke-opacity="0.65"/>
<circle cx="467.6" cy="646.7" r="3.3" fill="#32f5f8" fill-opacity="1.00" stroke="#1a7a80" stroke-width="0.5" stroke-opacity="0.65"/>
<circle cx="470.0" cy="648.2" r="3.3" fill="#3bf5f8" fill-opacity="0.94" stroke="#1a7a80" stroke-width="0.5" stroke-opacity="0.62"/>
<circle cx="472.4" cy="649.7" r="3.3" fill="#44f5f8" fill-opacity="0.88" stroke="#1a7a80" stroke-width="0.5" stroke-opacity="0.60"/>
<circle cx="474.8" cy="651.1" r="3.3" fill="#4df6f8" fill-opacity="0.82" stroke="#1a7a80" stroke-width="0.5" stroke-opacity="0.57"/>
<circle cx="477.2" cy="652.6" r="3.3" fill="#55f6f9" fill-opacity="0.76" stroke="#1a7a80" stroke-width="0.5" stroke-opacity="0.55"/>
<circle cx="479.6" cy="654.1" r="3.3" fill="#5ef6f9" fill-opacity="0.71" stroke="#1a7a80" stroke-width="0.5" stroke-opacity="0.53"/>
<g transform="translate(353.5,570.7)"><path d="M94.8,68.5 C85,67.6 76,67.5 68,71 C60,75 55,80 47,80" fill="none" stroke="#ff0000" stroke-width="3.6" stroke-linecap="butt"/>
<polygon points="40.1,78.3 48.5,75.8 46.2,84.7" fill="#ff0000"/></g>
<text x="357.8" y="592.2" font-size="18.5" font-family='"Liberation Sans", sans-serif' fill="#000">a<tspan dx="-0.8" font-size="9.6">1</tspan></text>
<text x="415.0" y="582.4" font-size="18.5" font-family='"Liberation Sans", sans-serif' fill="#000">a<tspan dx="-0.8" font-size="9.6">2</tspan></text>
<text x="449.0" y="582.4" font-size="18.5" font-family='"Liberation Sans", sans-serif' fill="#000">a<tspan dx="-0.8" font-size="9.6">3</tspan></text>
<text x="487.1" y="621.1" font-size="18.5" font-family='"Liberation Sans", sans-serif' fill="#000">a<tspan dx="-0.8" font-size="9.6">4</tspan></text>
<text x="449.0" y="662.9" font-size="18.5" font-family='"Liberation Sans", sans-serif' fill="#000">a<tspan dx="-0.8" font-size="9.6">5</tspan></text>
<text x="415.0" y="660.3" font-size="18.5" font-family='"Liberation Sans", sans-serif' fill="#000">a<tspan dx="-0.8" font-size="9.6">6</tspan></text>
<text x="357.8" y="652.5" font-size="18.5" font-family='"Liberation Sans", sans-serif' fill="#000">a<tspan dx="-0.8" font-size="9.6">7</tspan></text>
<text x="392.2" y="608.1" font-size="18.5" font-family='"Liberation Sans", sans-serif' fill="#000">i<tspan dx="-0.8" font-size="9.6">1</tspan></text>
<text x="392.2" y="638.1" font-size="18.5" font-family='"Liberation Sans", sans-serif' fill="#000">i<tspan dx="-0.8" font-size="9.6">2</tspan></text>
<text x="434.1" y="610.8" font-size="18.5" font-family='"Liberation Sans", sans-serif' fill="#000">b<tspan dx="-0.8" font-size="9.6">1</tspan></text>
<text x="434.1" y="632.2" font-size="18.5" font-family='"Liberation Sans", sans-serif' fill="#000">b<tspan dx="-0.8" font-size="9.6">2</tspan></text>
<circle cx="535.3" cy="597.1" r="2.85" fill="#00008b"/>
<circle cx="540.3" cy="593.1" r="2.85" fill="#00008b"/>
<circle cx="542.5" cy="598.4" r="2.85" fill="#00008b"/>
<circle cx="580.9" cy="590.9" r="2.85" fill="#00008b"/>
<circle cx="585.5" cy="591.6" r="2.85" fill="#00008b"/>
<circle cx="587.8" cy="587.2" r="2.85" fill="#00008b"/>
<circle cx="640.9" cy="577.4" r="2.85" fill="#00008b"/>
<circle cx="646.2" cy="577.6" r="2.85" fill="#00008b"/>
<circle cx="633.7" cy="582.6" r="2.85" fill="#00008b"/>
<circle cx="638.3" cy="584.6" r="2.85" fill="#00008b"/>
<circle cx="619.0" cy="607.2" r="2.85" fill="#00008b"/>
<circle cx="618.3" cy="628.2" r="2.85" fill="#00008b"/>
<circle cx="671.8" cy="617.5" r="2.85" fill="#00008b"/>
<circle cx="675.1" cy="616.4" r="2.85" fill="#00008b"/>
<circle cx="677.0" cy="616.8" r="2.85" fill="#00008b"/>
<circle cx="634.0" cy="652.3" r="2.85" fill="#00008b"/>
<circle cx="638.7" cy="651.4" r="2.85" fill="#00008b"/>
<circle cx="641.2" cy="657.3" r="2.85" fill="#00008b"/>
<circle cx="645.9" cy="654.9" r="2.85" fill="#00008b"/>
<circle cx="581.3" cy="643.5" r="2.85" fill="#00008b"/>
<circle cx="586.5" cy="639.8" r="2.85" fill="#00008b"/>
<circle cx="587.5" cy="647.0" r="2.85" fill="#00008b"/>
<circle cx="535.7" cy="637.2" r="2.85" fill="#00008b"/>
<circle cx="543.2" cy="636.1" r="2.85" fill="#00008b"/>
<circle cx="540.9" cy="640.4" r="2.85" fill="#00008b"/>
<circle cx="560.0" cy="594.1" r="2.85" fill="#00008b"/>
<circle cx="532.6" cy="630.4" r="3.3" fill="#bef8fa" fill-opacity="0.12" stroke="#1a7a80" stroke-width="0.5" stroke-opacity="0.15"/>
<circle cx="534.3" cy="626.1" r="3.3" fill="#adf8fa" fill-opacity="0.21" stroke="#1a7a80" stroke-width="0.5" stroke-opacity="0.25"/>
<circle cx="536.0" cy="621.8" r="3.3" fill="#93f7f9" fill-opacity="0.36" stroke="#1a7a80" stroke-width="0.5" stroke-opacity="0.35"/>
<circle cx="537.9" cy="617.5" r="3.3" fill="#76f6f9" fill-opacity="0.55" stroke="#1a7a80" stroke-width="0.5" stroke-opacity="0.45"/>
<circle cx="539.8" cy="613.3" r="3.3" fill="#55f6f9" fill-opacity="0.76" stroke="#1a7a80" stroke-width="0.5" stroke-opacity="0.55"/>
<circle cx="541.8" cy="609.1" r="3.3" fill="#32f5f8" fill-opacity="1.00" stroke="#1a7a80" stroke-width="0.5" stroke-opacity="0.65"/>
<circle cx="593.1999999999999" cy="634.4000000000001" r="3.3" fill="#22ee22" stroke="#1a5a1a" stroke-width="0.7"/>
<text x="524.7" y="592.2" font-size="18.5" font-family='"Liberation Sans", sans-serif' fill="#000">a<tspan dx="-0.8" font-size="9.6">1</tspan></text>
<text x="581.9" y="660.3" font-size="18.5" font-family='"Liberation Sans", sans-serif' fill="#000">a<tspan dx="-0.8" font-size="9.6">6</tspan></text>
<text x="524.7" y="652.5" font-size="18.5" font-family='"Liberation Sans", sans-serif' fill="#000">a<tspan dx="-0.8" font-size="9.6">7</tspan></text>
<circle cx="368.4" cy="706.0" r="2.85" fill="#00008b"/>
<circle cx="373.4" cy="702.0" r="2.85" fill="#00008b"/>
<circle cx="375.6" cy="707.3" r="2.85" fill="#00008b"/>
<circle cx="414.0" cy="699.8" r="2.85" fill="#00008b"/>
<circle cx="418.6" cy="700.5" r="2.85" fill="#00008b"/>
<circle cx="420.9" cy="696.1" r="2.85" fill="#00008b"/>
<circle cx="474.0" cy="686.3" r="2.85" fill="#00008b"/>
<circle cx="479.3" cy="686.5" r="2.85" fill="#00008b"/>
<circle cx="466.8" cy="691.5" r="2.85" fill="#00008b"/>
<circle cx="471.4" cy="693.5" r="2.85" fill="#00008b"/>
<circle cx="452.1" cy="716.1" r="2.85" fill="#00008b"/>
<circle cx="451.4" cy="737.1" r="2.85" fill="#00008b"/>
<circle cx="504.9" cy="726.4" r="2.85" fill="#00008b"/>
<circle cx="508.2" cy="725.3" r="2.85" fill="#00008b"/>
<circle cx="510.1" cy="725.7" r="2.85" fill="#00008b"/>
<circle cx="467.1" cy="761.2" r="2.85" fill="#00008b"/>
<circle cx="471.8" cy="760.3" r="2.85" fill="#00008b"/>
<circle cx="474.3" cy="766.2" r="2.85" fill="#00008b"/>
<circle cx="479.0" cy="763.8" r="2.85" fill="#00008b"/>
<circle cx="414.4" cy="752.4" r="2.85" fill="#00008b"/>
<circle cx="419.6" cy="748.7" r="2.85" fill="#00008b"/>
<circle cx="420.6" cy="755.9" r="2.85" fill="#00008b"/>
<circle cx="368.8" cy="746.1" r="2.85" fill="#00008b"/>
<circle cx="376.3" cy="745.0" r="2.85" fill="#00008b"/>
<circle cx="374.0" cy="749.3" r="2.85" fill="#00008b"/>
<circle cx="393.1" cy="703.0" r="2.85" fill="#00008b"/>
<circle cx="372.7" cy="746.9" r="10.4" fill="none" stroke="#7070d0" stroke-width="0.8" stroke-dasharray="2,1.6"/>
<circle cx="375.5" cy="718.9" r="3.3" fill="#bef8fa" fill-opacity="0.12" stroke="#1a7a80" stroke-width="0.5" stroke-opacity="0.15"/>
<circle cx="373.9" cy="715.0" r="3.3" fill="#a7f8fa" fill-opacity="0.25" stroke="#1a7a80" stroke-width="0.5" stroke-opacity="0.28"/>
<circle cx="372.3" cy="711.1" r="3.3" fill="#85f7f9" fill-opacity="0.45" stroke="#1a7a80" stroke-width="0.5" stroke-opacity="0.40"/>
<circle cx="370.7" cy="707.1" r="3.3" fill="#5ef6f9" fill-opacity="0.71" stroke="#1a7a80" stroke-width="0.5" stroke-opacity="0.53"/>
<circle cx="369.1" cy="703.2" r="3.3" fill="#32f5f8" fill-opacity="1.00" stroke="#1a7a80" stroke-width="0.5" stroke-opacity="0.65"/>
<circle cx="426.2" cy="743.0" r="3.3" fill="#22ee22" stroke="#1a5a1a" stroke-width="0.7"/>
<text x="357.8" y="701.1" font-size="18.5" font-family='"Liberation Sans", sans-serif' fill="#000">a<tspan dx="-0.8" font-size="9.6">1</tspan></text>
<text x="415.0" y="769.2" font-size="18.5" font-family='"Liberation Sans", sans-serif' fill="#000">a<tspan dx="-0.8" font-size="9.6">6</tspan></text>
<text x="357.8" y="761.4" font-size="18.5" font-family='"Liberation Sans", sans-serif' fill="#000">a<tspan dx="-0.8" font-size="9.6">7</tspan></text>
<circle cx="535.3" cy="706.0" r="2.85" fill="#00008b"/>
<circle cx="540.3" cy="702.0" r="2.85" fill="#00008b"/>
<circle cx="542.5" cy="707.3" r="2.85" fill="#00008b"/>
<circle cx="580.9" cy="699.8" r="2.85" fill="#00008b"/>
<circle cx="585.5" cy="700.5" r="2.85" fill="#00008b"/>
<circle cx="587.8" cy="696.1" r="2.85" fill="#00008b"/>
<circle cx="640.9" cy="686.3" r="2.85" fill="#00008b"/>
<circle cx="646.2" cy="686.5" r="2.85" fill="#00008b"/>
<circle cx="633.7" cy="691.5" r="2.85" fill="#00008b"/>
<circle cx="638.3" cy="693.5" r="2.85" fill="#00008b"/>
<circle cx="619.0" cy="716.1" r="2.85" fill="#00008b"/>
<circle cx="618.3" cy="737.1" r="2.85" fill="#00008b"/>
<circle cx="671.8" cy="726.4" r="2.85" fill="#00008b"/>
<circle cx="675.1" cy="725.3" r="2.85" fill="#00008b"/>
<circle cx="677.0" cy="725.7" r="2.85" fill="#00008b"/>
<circle cx="634.0" cy="761.2" r="2.85" fill="#00008b"/>
<circle cx="638.7" cy="760.3" r="2.85" fill="#00008b"/>
<circle cx="641.2" cy="766.2" r="2.85" fill="#00008b"/>
<circle cx="645.9" cy="763.8" r="2.85" fill="#00008b"/>
<circle cx="581.3" cy="752.4" r="2.85" fill="#00008b"/>
<circle cx="586.5" cy="748.7" r="2.85" fill="#00008b"/>
<circle cx="587.5" cy="755.9" r="2.85" fill="#00008b"/>
<circle cx="535.7" cy="746.1" r="2.85" fill="#00008b"/>
<circle cx="543.2" cy="745.0" r="2.85" fill="#00008b"/>
<circle cx="540.9" cy="749.3" r="2.85" fill="#00008b"/>
<circle cx="562.1" cy="702.5" r="2.85" fill="#00008b"/>
<circle cx="539.6" cy="746.9" r="10.4" fill="none" stroke="#7070d0" stroke-width="0.8" stroke-dasharray="2,1.6"/>
<circle cx="591.0" cy="742.7" r="3.3" fill="#bef8be" fill-opacity="0.12" stroke="#1a6a1a" stroke-width="0.5" stroke-opacity="0.15"/>
<circle cx="588.2" cy="743.7" r="3.3" fill="#b7f7b7" fill-opacity="0.16" stroke="#1a6a1a" stroke-width="0.5" stroke-opacity="0.20"/>
<circle cx="585.4" cy="744.8" r="3.3" fill="#acf6ac" fill-opacity="0.21" stroke="#1a6a1a" stroke-width="0.5" stroke-opacity="0.25"/>
<circle cx="582.6" cy="745.8" r="3.3" fill="#a0f5a0" fill-opacity="0.28" stroke="#1a6a1a" stroke-width="0.5" stroke-opacity="0.30"/>
<circle cx="579.8" cy="746.9" r="3.3" fill="#92f492" fill-opacity="0.36" stroke="#1a6a1a" stroke-width="0.5" stroke-opacity="0.35"/>
<circle cx="577.1" cy="748.2" r="3.3" fill="#83f383" fill-opacity="0.45" stroke="#1a6a1a" stroke-width="0.5" stroke-opacity="0.40"/>
<circle cx="574.4" cy="749.6" r="3.3" fill="#73f173" fill-opacity="0.55" stroke="#1a6a1a" stroke-width="0.5" stroke-opacity="0.45"/>
<circle cx="571.7" cy="750.6" r="3.3" fill="#63f063" fill-opacity="0.65" stroke="#1a6a1a" stroke-width="0.5" stroke-opacity="0.50"/>
<circle cx="568.7" cy="750.6" r="3.3" fill="#52ee52" fill-opacity="0.76" stroke="#1a6a1a" stroke-width="0.5" stroke-opacity="0.55"/>
<circle cx="565.7" cy="750.6" r="3.3" fill="#40ed40" fill-opacity="0.88" stroke="#1a6a1a" stroke-width="0.5" stroke-opacity="0.60"/>
<circle cx="562.7" cy="750.6" r="3.3" fill="#2deb2d" fill-opacity="1.00" stroke="#1a6a1a" stroke-width="0.5" stroke-opacity="0.65"/>
<circle cx="589.5" cy="758.3" r="3.3" fill="#66f6f9" fill-opacity="0.65" stroke="#1a7a80" stroke-width="0.5" stroke-opacity="0.50"/>
<circle cx="586.8" cy="758.2" r="3.3" fill="#5cf6f9" fill-opacity="0.72" stroke="#1a7a80" stroke-width="0.5" stroke-opacity="0.53"/>
<circle cx="584.1" cy="758.0" r="3.3" fill="#52f6f8" fill-opacity="0.79" stroke="#1a7a80" stroke-width="0.5" stroke-opacity="0.56"/>
<circle cx="581.5" cy="757.9" r="3.3" fill="#47f5f8" fill-opacity="0.86" stroke="#1a7a80" stroke-width="0.5" stroke-opacity="0.59"/>
<circle cx="578.8" cy="757.7" r="3.3" fill="#3df5f8" fill-opacity="0.93" stroke="#1a7a80" stroke-width="0.5" stroke-opacity="0.62"/>
<circle cx="576.1" cy="757.6" r="3.3" fill="#32f5f8" fill-opacity="1.00" stroke="#1a7a80" stroke-width="0.5" stroke-opacity="0.65"/>
<circle cx="637.5" cy="753.6" r="3.3" fill="#5ef6f9" fill-opacity="0.71" stroke="#1a7a80" stroke-width="0.5" stroke-opacity="0.53"/>
<circle cx="635.3" cy="752.7" r="3.3" fill="#55f6f9" fill-opacity="0.76" stroke="#1a7a80" stroke-width="0.5" stroke-opacity="0.55"/>
<circle cx="633.0" cy="751.8" r="3.3" fill="#4df6f8" fill-opacity="0.82" stroke="#1a7a80" stroke-width="0.5" stroke-opacity="0.57"/>
<circle cx="630.8" cy="750.9" r="3.3" fill="#44f5f8" fill-opacity="0.88" stroke="#1a7a80" stroke-width="0.5" stroke-opacity="0.60"/>
<circle cx="628.5" cy="750.0" r="3.3" fill="#3bf5f8" fill-opacity="0.94" stroke="#1a7a80" stroke-width="0.5" stroke-opacity="0.62"/>
<circle cx="626.3" cy="749.1" r="3.3" fill="#32f5f8" fill-opacity="1.00" stroke="#1a7a80" stroke-width="0.5" stroke-opacity="0.65"/>
<text x="615.9" y="771.8" font-size="18.5" font-family='"Liberation Sans", sans-serif' fill="#000">a<tspan dx="-0.8" font-size="9.6">5</tspan></text>
<text x="581.9" y="769.2" font-size="18.5" font-family='"Liberation Sans", sans-serif' fill="#000">a<tspan dx="-0.8" font-size="9.6">6</tspan></text>
<text x="524.7" y="761.4" font-size="18.5" font-family='"Liberation Sans", sans-serif' fill="#000">a<tspan dx="-0.8" font-size="9.6">7</tspan></text>
<text x="559.1" y="747.0" font-size="18.5" font-family='"Liberation Sans", sans-serif' fill="#000">i<tspan dx="-0.8" font-size="9.6">2</tspan></text>
<circle cx="553.8" cy="784.3" r="6.3" fill="#0000b8"/>
<circle cx="553.8" cy="799.1" r="6.3" fill="#00c3ff"/>
<text x="563" y="798.9" font-size="19.3" font-family='"Liberation Sans", sans-serif' fill="#000">Al</text>
<circle cx="602.9" cy="791.1" r="3.1" fill="#c00000"/>
<text x="616.6" y="798.9" font-size="19.3" font-family='"Liberation Sans", sans-serif' fill="#000">O</text>
<circle cx="652.6" cy="791.1" r="6.7" fill="#00f000"/>
<text x="661.8" y="798.9" font-size="19.3" font-family='"Liberation Sans", sans-serif' fill="#000">Hf</text>
</svg>
</body></html>
